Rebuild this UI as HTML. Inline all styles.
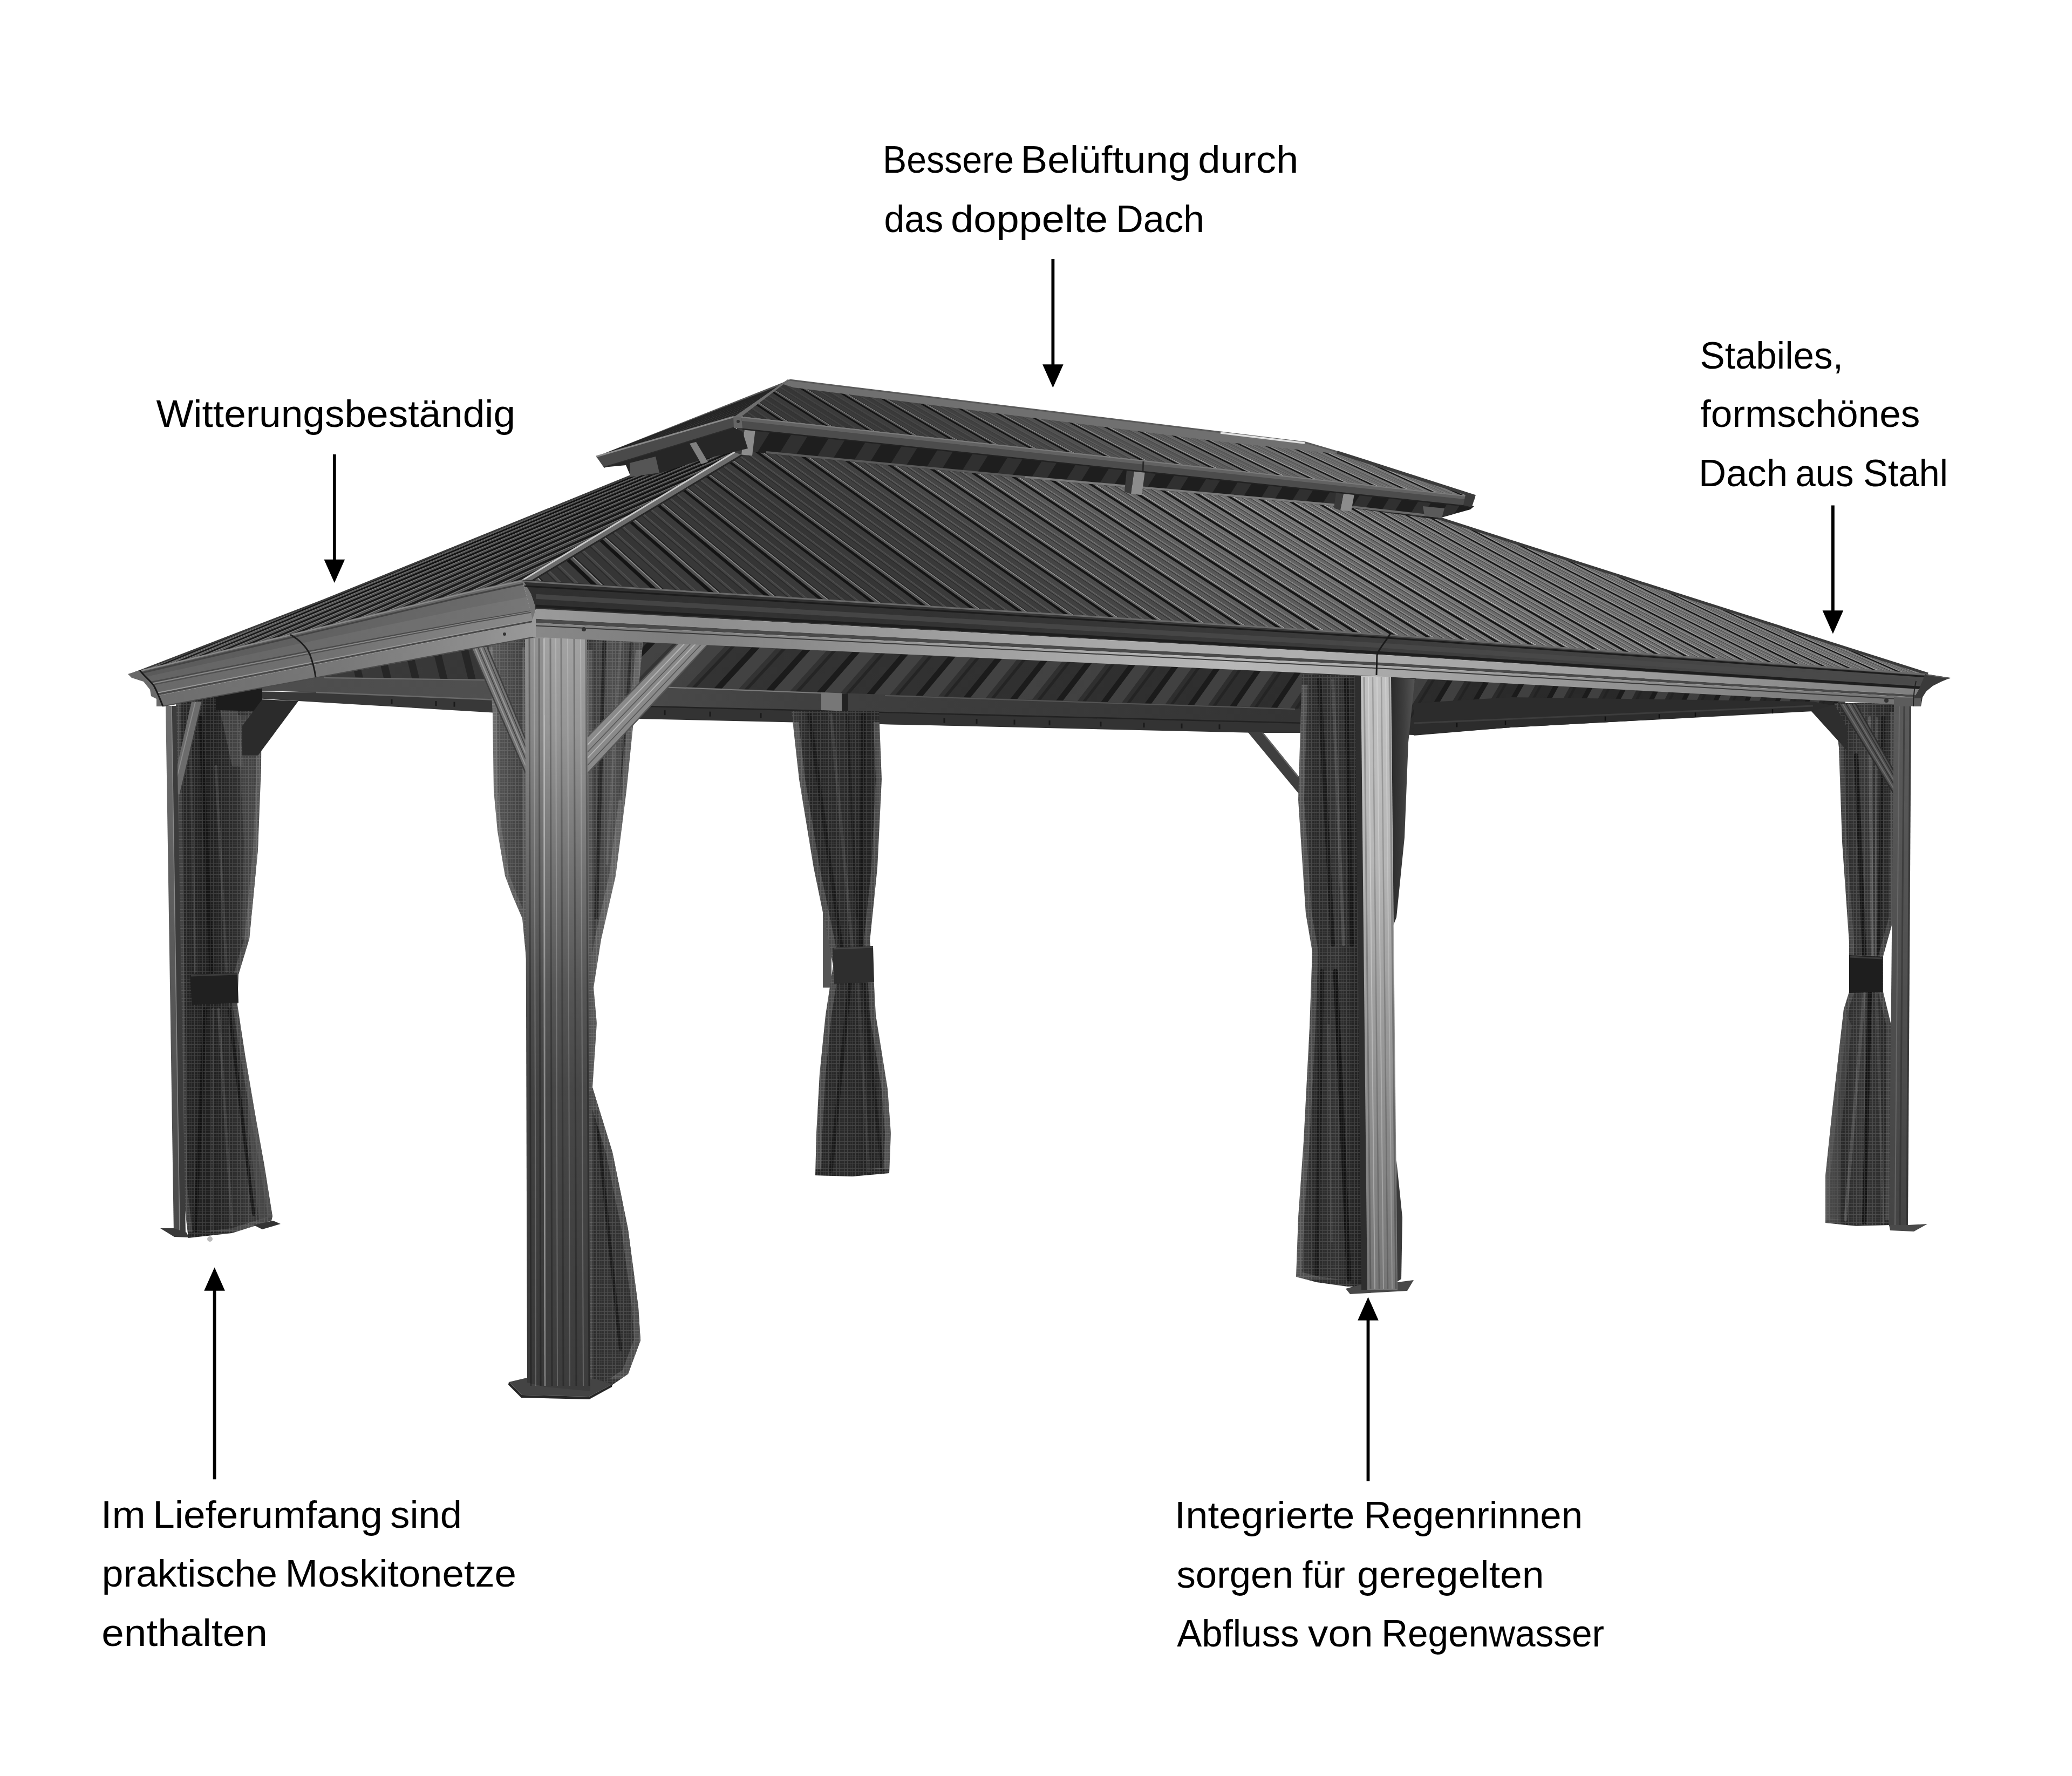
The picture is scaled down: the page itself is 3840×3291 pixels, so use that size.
<!DOCTYPE html><html><head><meta charset="utf-8"><title>Gazebo</title><style>html,body{margin:0;padding:0;background:#fff;}body{width:3840px;height:3291px;overflow:hidden;}svg{display:block;}text{font-family:"Liberation Sans",sans-serif;fill:#000;}</style></head><body><svg width="3840" height="3291" viewBox="0 0 3840 3291"><defs><pattern id="net" width="5" height="5" patternUnits="userSpaceOnUse"><path d="M0,0.5H5M0.5,0V5" stroke="#fff" stroke-width="1" opacity="0.13"/></pattern><linearGradient id="gUnder" gradientUnits="userSpaceOnUse" x1="600" y1="0" x2="3400" y2="0"><stop offset="0" stop-color="#3a3a3a"/><stop offset="0.25" stop-color="#333333"/><stop offset="0.6" stop-color="#2e2e2e"/><stop offset="1" stop-color="#262626"/></linearGradient><clipPath id="cUnder"><polygon points="586.0,1256.0 996.0,1178.0 1000.0,1179.0 1400.0,1197.6 2000.0,1225.5 2551.0,1251.2 2800.0,1264.7 3420.0,1298.4 3420.0,1312.0 3360.0,1317.0 2800.0,1348.0 2620.0,1362.0 2400.0,1356.0 1634.0,1342.0 1087.0,1330.0 586.0,1300.0"/></clipPath><linearGradient id="gBB" gradientUnits="userSpaceOnUse" x1="400" y1="0" x2="2400" y2="0"><stop offset="0" stop-color="#4c4c4c"/><stop offset="0.3" stop-color="#505050"/><stop offset="0.55" stop-color="#404040"/><stop offset="1" stop-color="#343434"/></linearGradient><linearGradient id="gCurB" gradientUnits="userSpaceOnUse" x1="1467" y1="0" x2="1650" y2="0"><stop offset="0" stop-color="#3a3a3a"/><stop offset="0.2" stop-color="#262626"/><stop offset="0.5" stop-color="#2b2b2b"/><stop offset="0.8" stop-color="#232323"/><stop offset="1" stop-color="#353535"/></linearGradient><clipPath id="cCur1"><polygon points="1467.0,1318.0 1629.0,1318.0 1634.0,1444.0 1626.0,1608.0 1612.0,1744.0 1618.0,1790.0 1623.0,1881.0 1645.0,2018.0 1651.0,2100.0 1648.0,2174.0 1580.0,2180.0 1511.0,2178.0 1513.0,2100.0 1519.0,1990.0 1530.0,1881.0 1544.0,1790.0 1536.0,1744.0 1508.0,1608.0 1481.0,1444.0"/></clipPath><clipPath id="rCur1"><rect x="1462.0" y="1337.8" width="194.0" height="829.0"/></clipPath><linearGradient id="gLF" gradientUnits="userSpaceOnUse" x1="300" y1="1250" x2="1300" y2="850"><stop offset="0" stop-color="#757575"/><stop offset="0.4" stop-color="#686868"/><stop offset="1" stop-color="#585858"/></linearGradient><clipPath id="cLF"><polygon points="247.0,1247.0 600.0,1111.0 1168.0,881.0 1300.0,850.0 1387.0,831.0 968.0,1077.0 262.0,1245.0"/></clipPath><linearGradient id="gFF" gradientUnits="userSpaceOnUse" x1="968" y1="0" x2="3573" y2="0"><stop offset="0" stop-color="#3c3c3c"/><stop offset="0.25" stop-color="#3c3c3c"/><stop offset="0.5" stop-color="#555"/><stop offset="1" stop-color="#666"/></linearGradient><clipPath id="cFF"><polygon points="968.0,1076.0 1387.0,831.0 1900.0,878.0 2660.0,957.0 2800.0,1002.0 3573.0,1248.0 3573.0,1250.0 2800.0,1193.3 2578.0,1177.0 2000.0,1141.1 1400.0,1103.8 968.0,1077.0"/></clipPath><clipPath id="cGap"><polygon points="1376.0,790.0 2732.0,938.0 2725.0,944.0 2660.0,962.0 2479.0,938.0 1900.0,886.0 1420.0,840.0 1376.0,835.0"/></clipPath><clipPath id="cULF"><polygon points="1105.0,846.0 1463.0,704.0 1374.0,772.0 1361.0,772.0"/></clipPath><linearGradient id="gUF" gradientUnits="userSpaceOnUse" x1="1374" y1="0" x2="2734" y2="0"><stop offset="0" stop-color="#404040"/><stop offset="0.45" stop-color="#4c4c4c"/><stop offset="0.75" stop-color="#606060"/><stop offset="1" stop-color="#707070"/></linearGradient><clipPath id="cUFF"><polygon points="1374.0,772.0 1463.0,704.0 2420.0,820.0 2481.0,838.0 2734.0,920.0"/></clipPath><linearGradient id="gCurL" gradientUnits="userSpaceOnUse" x1="326" y1="0" x2="500" y2="0"><stop offset="0" stop-color="#2a2a2a"/><stop offset="0.35" stop-color="#1f1f1f"/><stop offset="0.6" stop-color="#2b2b2b"/><stop offset="0.8" stop-color="#3a3a3a"/><stop offset="1" stop-color="#2a2a2a"/></linearGradient><clipPath id="cCur2"><polygon points="326.0,1296.0 408.0,1278.0 485.0,1264.0 484.0,1420.0 478.0,1574.0 462.0,1740.0 442.0,1806.0 440.0,1862.0 455.0,1960.0 472.0,2060.0 490.0,2160.0 505.0,2254.0 503.0,2262.0 430.0,2285.0 349.0,2294.0 338.0,2200.0 334.0,1900.0 330.0,1600.0"/></clipPath><clipPath id="rCur2"><rect x="321.0" y="1280.2" width="189.0" height="1003.0"/></clipPath><linearGradient id="gPFL" gradientUnits="userSpaceOnUse" x1="0" y1="1308" x2="0" y2="2290"><stop offset="0" stop-color="#6e6e6e"/><stop offset="0.4" stop-color="#5c5c5c"/><stop offset="1" stop-color="#4a4a4a"/></linearGradient><linearGradient id="gCurFL1" gradientUnits="userSpaceOnUse" x1="910" y1="0" x2="980" y2="0"><stop offset="0" stop-color="#5a5a5a"/><stop offset="0.5" stop-color="#4a4a4a"/><stop offset="1" stop-color="#3c3c3c"/></linearGradient><clipPath id="cCur3"><polygon points="905.0,1190.0 975.0,1185.0 977.0,1800.0 974.0,1765.0 968.0,1702.0 950.0,1660.0 936.0,1623.0 922.0,1540.0 915.0,1465.0 913.0,1323.0"/></clipPath><clipPath id="rCur3"><rect x="900.0" y="1199.4" width="82.0" height="591.0"/></clipPath><linearGradient id="gCurFL2" gradientUnits="userSpaceOnUse" x1="1088" y1="0" x2="1200" y2="0"><stop offset="0" stop-color="#363636"/><stop offset="0.4" stop-color="#505050"/><stop offset="0.7" stop-color="#424242"/><stop offset="1" stop-color="#5a5a5a"/></linearGradient><clipPath id="cCur4"><polygon points="1086.0,1183.0 1192.0,1185.0 1185.0,1260.0 1173.0,1347.0 1161.0,1465.0 1141.0,1623.0 1114.0,1741.0 1100.0,1830.0 1106.0,1896.0 1098.0,2015.0 1135.0,2135.0 1164.0,2278.0 1183.0,2422.0 1187.0,2484.0 1164.0,2546.0 1135.0,2566.0 1086.0,2570.0"/></clipPath><clipPath id="rCur4"><rect x="1081.0" y="1204.6" width="116.0" height="1351.0"/></clipPath><linearGradient id="gPL1" gradientUnits="userSpaceOnUse" x1="0" y1="1181" x2="0" y2="2580"><stop offset="0" stop-color="#929292"/><stop offset="0.12" stop-color="#888888"/><stop offset="0.3" stop-color="#6a6a6a"/><stop offset="0.47" stop-color="#4e4e4e"/><stop offset="0.6" stop-color="#424242"/><stop offset="1" stop-color="#383838"/></linearGradient><linearGradient id="gPL2" gradientUnits="userSpaceOnUse" x1="0" y1="1181" x2="0" y2="2580"><stop offset="0" stop-color="#a2a2a2"/><stop offset="0.12" stop-color="#969696"/><stop offset="0.3" stop-color="#747474"/><stop offset="0.47" stop-color="#555555"/><stop offset="0.6" stop-color="#474747"/><stop offset="1" stop-color="#3c3c3c"/></linearGradient><linearGradient id="gCurM" gradientUnits="userSpaceOnUse" x1="2402" y1="0" x2="2525" y2="0"><stop offset="0" stop-color="#3c3c3c"/><stop offset="0.3" stop-color="#2a2a2a"/><stop offset="0.6" stop-color="#333333"/><stop offset="1" stop-color="#1f1f1f"/></linearGradient><clipPath id="cCur5"><polygon points="2413.0,1249.0 2522.0,1253.0 2534.0,2384.0 2497.0,2384.0 2440.0,2376.0 2402.0,2366.0 2406.0,2256.0 2416.0,2115.0 2427.0,1904.0 2432.0,1763.0 2420.0,1693.0 2406.0,1482.0"/></clipPath><clipPath id="rCur5"><rect x="2397.0" y="1268.8" width="142.0" height="1102.0"/></clipPath><linearGradient id="gCurM2" gradientUnits="userSpaceOnUse" x1="2578" y1="0" x2="2622" y2="0"><stop offset="0" stop-color="#2a2a2a"/><stop offset="0.5" stop-color="#3c3c3c"/><stop offset="1" stop-color="#555"/></linearGradient><linearGradient id="gPM" gradientUnits="userSpaceOnUse" x1="0" y1="1253" x2="0" y2="2392"><stop offset="0" stop-color="#c2c2c2"/><stop offset="0.3" stop-color="#b6b6b6"/><stop offset="0.55" stop-color="#9c9c9c"/><stop offset="0.8" stop-color="#868686"/><stop offset="1" stop-color="#767676"/></linearGradient><linearGradient id="gCurR" gradientUnits="userSpaceOnUse" x1="3383" y1="0" x2="3512" y2="0"><stop offset="0" stop-color="#444"/><stop offset="0.25" stop-color="#2a2a2a"/><stop offset="0.55" stop-color="#383838"/><stop offset="0.8" stop-color="#2c2c2c"/><stop offset="1" stop-color="#262626"/></linearGradient><clipPath id="cCur6"><polygon points="3400.0,1303.0 3512.0,1303.0 3510.0,1700.0 3490.0,1772.0 3490.0,1838.0 3505.0,1900.0 3503.0,2270.0 3440.0,2272.0 3383.0,2266.0 3383.0,2179.0 3396.0,2055.0 3417.0,1870.0 3427.0,1838.0 3427.0,1772.0 3427.0,1746.0 3414.0,1560.0 3408.0,1385.0 3401.0,1331.0"/></clipPath><clipPath id="rCur6"><rect x="3378.0" y="1319.2" width="139.0" height="942.0"/></clipPath><linearGradient id="gPR" gradientUnits="userSpaceOnUse" x1="0" y1="1307" x2="0" y2="2275"><stop offset="0" stop-color="#5a5a5a"/><stop offset="0.5" stop-color="#505050"/><stop offset="1" stop-color="#444"/></linearGradient><linearGradient id="gLG1" gradientUnits="userSpaceOnUse" x1="259" y1="0" x2="997" y2="0"><stop offset="0" stop-color="#5a5a5a"/><stop offset="0.5" stop-color="#626262"/><stop offset="0.85" stop-color="#6a6a6a"/><stop offset="1" stop-color="#707070"/></linearGradient><linearGradient id="gLG2" gradientUnits="userSpaceOnUse" x1="259" y1="0" x2="997" y2="0"><stop offset="0" stop-color="#686868"/><stop offset="0.5" stop-color="#727272"/><stop offset="0.85" stop-color="#848484"/><stop offset="1" stop-color="#8c8c8c"/></linearGradient><linearGradient id="gLG3" gradientUnits="userSpaceOnUse" x1="259" y1="0" x2="997" y2="0"><stop offset="0" stop-color="#6c6c6c"/><stop offset="0.5" stop-color="#787878"/><stop offset="0.85" stop-color="#8e8e8e"/><stop offset="1" stop-color="#9a9a9a"/></linearGradient><linearGradient id="gGutD" gradientUnits="userSpaceOnUse" x1="968" y1="0" x2="3573" y2="0"><stop offset="0" stop-color="#2f2f2f"/><stop offset="0.3" stop-color="#333333"/><stop offset="0.6" stop-color="#3c3c3c"/><stop offset="1" stop-color="#4c4c4c"/></linearGradient><linearGradient id="gGutL" gradientUnits="userSpaceOnUse" x1="993" y1="0" x2="3560" y2="0"><stop offset="0" stop-color="#9a9a9a"/><stop offset="0.12" stop-color="#8e8e8e"/><stop offset="0.35" stop-color="#a4a4a4"/><stop offset="0.55" stop-color="#b0b0b0"/><stop offset="0.8" stop-color="#9c9c9c"/><stop offset="1" stop-color="#808080"/></linearGradient><linearGradient id="gBeam" gradientUnits="userSpaceOnUse" x1="993" y1="0" x2="3560" y2="0"><stop offset="0" stop-color="#888888"/><stop offset="0.1" stop-color="#7e7e7e"/><stop offset="0.3" stop-color="#9c9c9c"/><stop offset="0.5" stop-color="#b8b8b8"/><stop offset="0.62" stop-color="#a8a8a8"/><stop offset="0.8" stop-color="#909090"/><stop offset="1" stop-color="#707070"/></linearGradient></defs><polygon points="586.0,1256.0 996.0,1178.0 1000.0,1179.0 1400.0,1197.6 2000.0,1225.5 2551.0,1251.2 2800.0,1264.7 3420.0,1298.4 3420.0,1312.0 3360.0,1317.0 2800.0,1348.0 2620.0,1362.0 2400.0,1356.0 1634.0,1342.0 1087.0,1330.0 586.0,1300.0" fill="url(#gUnder)" />
<g clip-path="url(#cUnder)">
<polygon points="1100.0,1185.7 1116.0,1185.7 1021.0,1280.7 1005.0,1280.7" fill="#1b1b1b" />
<polygon points="1116.0,1185.7 1150.0,1185.7 1055.0,1280.7 1021.0,1280.7" fill="#484848" opacity="0.75"/>
<polygon points="1162.0,1185.7 1170.0,1185.7 1075.0,1280.7 1067.0,1280.7" fill="#222" opacity="0.8"/>
<polygon points="1200.0,1190.3 1215.7,1190.3 1123.1,1285.3 1107.4,1285.3" fill="#1b1b1b" />
<polygon points="1215.7,1190.3 1249.0,1190.3 1156.3,1285.3 1123.1,1285.3" fill="#484848" opacity="0.75"/>
<polygon points="1260.7,1190.3 1268.5,1190.3 1175.9,1285.3 1168.1,1285.3" fill="#222" opacity="0.8"/>
<polygon points="1297.9,1194.9 1313.3,1194.9 1223.0,1289.9 1207.6,1289.9" fill="#1b1b1b" />
<polygon points="1313.3,1194.9 1345.8,1194.9 1255.6,1289.9 1223.0,1289.9" fill="#484848" opacity="0.75"/>
<polygon points="1357.4,1194.9 1365.0,1194.9 1274.8,1289.9 1267.1,1289.9" fill="#222" opacity="0.8"/>
<polygon points="1393.8,1199.3 1408.8,1199.3 1320.8,1294.3 1305.8,1294.3" fill="#1b1b1b" />
<polygon points="1408.8,1199.3 1440.7,1199.3 1352.7,1294.3 1320.8,1294.3" fill="#484848" opacity="0.75"/>
<polygon points="1452.0,1199.3 1459.5,1199.3 1371.5,1294.3 1364.0,1294.3" fill="#222" opacity="0.8"/>
<polygon points="1487.7,1203.7 1502.4,1203.7 1416.6,1298.7 1401.9,1298.7" fill="#1b1b1b" />
<polygon points="1502.4,1203.7 1533.6,1203.7 1447.9,1298.7 1416.6,1298.7" fill="#484848" opacity="0.75"/>
<polygon points="1544.6,1203.7 1552.0,1203.7 1466.3,1298.7 1458.9,1298.7" fill="#222" opacity="0.8"/>
<polygon points="1579.6,1208.0 1594.0,1208.0 1510.4,1303.0 1496.0,1303.0" fill="#1b1b1b" />
<polygon points="1594.0,1208.0 1624.6,1208.0 1541.0,1303.0 1510.4,1303.0" fill="#484848" opacity="0.75"/>
<polygon points="1635.4,1208.0 1642.6,1208.0 1559.0,1303.0 1551.8,1303.0" fill="#222" opacity="0.8"/>
<polygon points="1669.6,1212.2 1683.7,1212.2 1602.3,1307.2 1588.2,1307.2" fill="#1b1b1b" />
<polygon points="1683.7,1212.2 1713.6,1212.2 1632.2,1307.2 1602.3,1307.2" fill="#484848" opacity="0.75"/>
<polygon points="1724.2,1212.2 1731.2,1212.2 1649.9,1307.2 1642.8,1307.2" fill="#222" opacity="0.8"/>
<polygon points="1757.7,1216.3 1771.5,1216.3 1692.2,1311.3 1678.4,1311.3" fill="#1b1b1b" />
<polygon points="1771.5,1216.3 1800.8,1216.3 1721.5,1311.3 1692.2,1311.3" fill="#484848" opacity="0.75"/>
<polygon points="1811.2,1216.3 1818.1,1216.3 1738.8,1311.3 1731.9,1311.3" fill="#222" opacity="0.8"/>
<polygon points="1843.9,1220.3 1857.5,1220.3 1780.2,1315.3 1766.7,1315.3" fill="#1b1b1b" />
<polygon points="1857.5,1220.3 1886.2,1220.3 1809.0,1315.3 1780.2,1315.3" fill="#484848" opacity="0.75"/>
<polygon points="1896.3,1220.3 1903.1,1220.3 1825.9,1315.3 1819.1,1315.3" fill="#222" opacity="0.8"/>
<polygon points="1928.4,1224.2 1941.6,1224.2 1866.5,1319.2 1853.2,1319.2" fill="#1b1b1b" />
<polygon points="1941.6,1224.2 1969.8,1224.2 1894.6,1319.2 1866.5,1319.2" fill="#484848" opacity="0.75"/>
<polygon points="1979.7,1224.2 1986.3,1224.2 1911.1,1319.2 1904.5,1319.2" fill="#222" opacity="0.8"/>
<polygon points="2011.1,1228.1 2024.1,1228.1 1950.9,1323.1 1937.9,1323.1" fill="#1b1b1b" />
<polygon points="2024.1,1228.1 2051.6,1228.1 1978.4,1323.1 1950.9,1323.1" fill="#484848" opacity="0.75"/>
<polygon points="2061.3,1228.1 2067.8,1228.1 1994.6,1323.1 1988.1,1323.1" fill="#222" opacity="0.8"/>
<polygon points="2092.1,1231.8 2104.8,1231.8 2033.5,1326.8 2020.8,1326.8" fill="#1b1b1b" />
<polygon points="2104.8,1231.8 2131.8,1231.8 2060.5,1326.8 2033.5,1326.8" fill="#484848" opacity="0.75"/>
<polygon points="2141.3,1231.8 2147.6,1231.8 2076.3,1326.8 2070.0,1326.8" fill="#222" opacity="0.8"/>
<polygon points="2171.4,1235.5 2183.8,1235.5 2114.5,1330.5 2102.0,1330.5" fill="#1b1b1b" />
<polygon points="2183.8,1235.5 2210.2,1235.5 2140.8,1330.5 2114.5,1330.5" fill="#484848" opacity="0.75"/>
<polygon points="2219.5,1235.5 2225.8,1235.5 2156.4,1330.5 2150.2,1330.5" fill="#222" opacity="0.8"/>
<polygon points="2249.0,1239.1 2261.2,1239.1 2193.7,1334.1 2181.5,1334.1" fill="#1b1b1b" />
<polygon points="2261.2,1239.1 2287.1,1239.1 2219.5,1334.1 2193.7,1334.1" fill="#484848" opacity="0.75"/>
<polygon points="2296.2,1239.1 2302.3,1239.1 2234.7,1334.1 2228.7,1334.1" fill="#222" opacity="0.8"/>
<polygon points="2325.1,1242.7 2337.0,1242.7 2271.3,1337.7 2259.4,1337.7" fill="#1b1b1b" />
<polygon points="2337.0,1242.7 2362.3,1242.7 2296.6,1337.7 2271.3,1337.7" fill="#484848" opacity="0.75"/>
<polygon points="2371.2,1242.7 2377.2,1242.7 2311.5,1337.7 2305.5,1337.7" fill="#222" opacity="0.8"/>
<polygon points="2399.5,1246.1 2411.2,1246.1 2347.2,1341.1 2335.6,1341.1" fill="#1b1b1b" />
<polygon points="2411.2,1246.1 2435.9,1246.1 2372.0,1341.1 2347.2,1341.1" fill="#484848" opacity="0.75"/>
<polygon points="2444.7,1246.1 2450.5,1246.1 2386.6,1341.1 2380.8,1341.1" fill="#222" opacity="0.8"/>
<polygon points="2472.4,1249.5 2483.8,1249.5 2421.6,1344.5 2410.2,1344.5" fill="#1b1b1b" />
<polygon points="2483.8,1249.5 2508.1,1249.5 2445.9,1344.5 2421.6,1344.5" fill="#484848" opacity="0.75"/>
<polygon points="2516.6,1249.5 2522.3,1249.5 2460.1,1344.5 2454.4,1344.5" fill="#222" opacity="0.8"/>
<polygon points="2543.7,1252.8 2554.9,1252.8 2494.4,1347.8 2483.3,1347.8" fill="#1b1b1b" />
<polygon points="2554.9,1252.8 2578.7,1252.8 2518.2,1347.8 2494.4,1347.8" fill="#484848" opacity="0.75"/>
<polygon points="2587.1,1252.8 2592.6,1252.8 2532.2,1347.8 2526.6,1347.8" fill="#222" opacity="0.8"/>
<polygon points="2613.6,1256.6 2624.6,1256.6 2565.8,1351.6 2554.8,1351.6" fill="#1b1b1b" />
<polygon points="2624.6,1256.6 2647.8,1256.6 2589.0,1351.6 2565.8,1351.6" fill="#484848" opacity="0.75"/>
<polygon points="2656.0,1256.6 2661.5,1256.6 2602.7,1351.6 2597.2,1351.6" fill="#222" opacity="0.8"/>
<polygon points="2682.0,1260.3 2692.7,1260.3 2635.6,1355.3 2624.9,1355.3" fill="#1b1b1b" />
<polygon points="2692.7,1260.3 2715.5,1260.3 2658.3,1355.3 2635.6,1355.3" fill="#484848" opacity="0.75"/>
<polygon points="2723.6,1260.3 2728.9,1260.3 2671.7,1355.3 2666.4,1355.3" fill="#222" opacity="0.8"/>
<polygon points="2749.0,1264.0 2759.5,1264.0 2703.9,1359.0 2693.4,1359.0" fill="#1b1b1b" />
<polygon points="2759.5,1264.0 2781.8,1264.0 2726.2,1359.0 2703.9,1359.0" fill="#484848" opacity="0.75"/>
<polygon points="2789.7,1264.0 2794.9,1264.0 2739.3,1359.0 2734.1,1359.0" fill="#222" opacity="0.8"/>
<polygon points="2814.6,1267.5 2824.9,1267.5 2770.9,1362.5 2760.6,1362.5" fill="#1b1b1b" />
<polygon points="2824.9,1267.5 2846.7,1267.5 2792.7,1362.5 2770.9,1362.5" fill="#484848" opacity="0.75"/>
<polygon points="2854.4,1267.5 2859.5,1267.5 2805.5,1362.5 2800.4,1362.5" fill="#222" opacity="0.8"/>
<polygon points="2878.8,1271.0 2888.9,1271.0 2836.4,1366.0 2826.3,1366.0" fill="#1b1b1b" />
<polygon points="2888.9,1271.0 2910.2,1271.0 2857.8,1366.0 2836.4,1366.0" fill="#484848" opacity="0.75"/>
<polygon points="2917.8,1271.0 2922.8,1271.0 2870.4,1366.0 2865.3,1366.0" fill="#222" opacity="0.8"/>
<polygon points="2941.7,1274.4 2951.5,1274.4 2900.6,1369.4 2890.7,1369.4" fill="#1b1b1b" />
<polygon points="2951.5,1274.4 2972.5,1274.4 2921.5,1369.4 2900.6,1369.4" fill="#484848" opacity="0.75"/>
<polygon points="2979.9,1274.4 2984.8,1274.4 2933.8,1369.4 2928.9,1369.4" fill="#222" opacity="0.8"/>
<polygon points="3003.3,1277.8 3012.9,1277.8 2963.4,1372.8 2953.8,1372.8" fill="#1b1b1b" />
<polygon points="3012.9,1277.8 3033.4,1277.8 2983.9,1372.8 2963.4,1372.8" fill="#484848" opacity="0.75"/>
<polygon points="3040.6,1277.8 3045.4,1277.8 2996.0,1372.8 2991.1,1372.8" fill="#222" opacity="0.8"/>
<polygon points="3063.5,1281.0 3073.0,1281.0 3024.9,1376.0 3015.5,1376.0" fill="#1b1b1b" />
<polygon points="3073.0,1281.0 3093.0,1281.0 3045.0,1376.0 3024.9,1376.0" fill="#484848" opacity="0.75"/>
<polygon points="3100.1,1281.0 3104.8,1281.0 3056.8,1376.0 3052.1,1376.0" fill="#222" opacity="0.8"/>
<polygon points="3122.6,1284.2 3131.8,1284.2 3085.2,1379.2 3075.9,1379.2" fill="#1b1b1b" />
<polygon points="3131.8,1284.2 3151.4,1284.2 3104.8,1379.2 3085.2,1379.2" fill="#484848" opacity="0.75"/>
<polygon points="3158.4,1284.2 3163.0,1284.2 3116.4,1379.2 3111.7,1379.2" fill="#222" opacity="0.8"/>
<polygon points="3180.3,1287.4 3189.4,1287.4 3144.1,1382.4 3135.1,1382.4" fill="#1b1b1b" />
<polygon points="3189.4,1287.4 3208.6,1287.4 3163.4,1382.4 3144.1,1382.4" fill="#484848" opacity="0.75"/>
<polygon points="3215.4,1287.4 3220.0,1287.4 3174.7,1382.4 3170.2,1382.4" fill="#222" opacity="0.8"/>
<polygon points="3236.9,1290.5 3245.8,1290.5 3201.9,1385.5 3193.0,1385.5" fill="#1b1b1b" />
<polygon points="3245.8,1290.5 3264.6,1290.5 3220.7,1385.5 3201.9,1385.5" fill="#484848" opacity="0.75"/>
<polygon points="3271.3,1290.5 3275.7,1290.5 3231.8,1385.5 3227.4,1385.5" fill="#222" opacity="0.8"/>
<polygon points="3292.3,1293.5 3301.0,1293.5 3258.4,1388.5 3249.8,1388.5" fill="#1b1b1b" />
<polygon points="3301.0,1293.5 3319.5,1293.5 3276.9,1388.5 3258.4,1388.5" fill="#484848" opacity="0.75"/>
<polygon points="3326.0,1293.5 3330.3,1293.5 3287.7,1388.5 3283.4,1388.5" fill="#222" opacity="0.8"/>
<polygon points="3346.6,1296.4 3355.1,1296.4 3313.8,1391.4 3305.3,1391.4" fill="#1b1b1b" />
<polygon points="3355.1,1296.4 3373.1,1296.4 3331.9,1391.4 3313.8,1391.4" fill="#484848" opacity="0.75"/>
<polygon points="3379.5,1296.4 3383.8,1296.4 3342.5,1391.4 3338.2,1391.4" fill="#222" opacity="0.8"/>
<polygon points="3399.7,1299.3 3408.0,1299.3 3368.0,1394.3 3359.7,1394.3" fill="#1b1b1b" />
<polygon points="3408.0,1299.3 3425.7,1299.3 3385.7,1394.3 3368.0,1394.3" fill="#484848" opacity="0.75"/>
<polygon points="3431.9,1299.3 3436.1,1299.3 3396.1,1394.3 3391.9,1394.3" fill="#222" opacity="0.8"/>
<polygon points="640.0,1180.0 654.0,1180.0 684.0,1300.0 670.0,1300.0" fill="#262626" />
<polygon points="692.0,1180.0 706.0,1180.0 736.0,1300.0 722.0,1300.0" fill="#262626" />
<polygon points="744.0,1180.0 758.0,1180.0 788.0,1300.0 774.0,1300.0" fill="#262626" />
<polygon points="796.0,1180.0 810.0,1180.0 840.0,1300.0 826.0,1300.0" fill="#262626" />
<polygon points="848.0,1180.0 862.0,1180.0 892.0,1300.0 878.0,1300.0" fill="#262626" />
<polygon points="900.0,1180.0 914.0,1180.0 944.0,1300.0 930.0,1300.0" fill="#262626" />
<polygon points="952.0,1180.0 966.0,1180.0 996.0,1300.0 982.0,1300.0" fill="#262626" />
</g>
<polygon points="400.0,1270.0 586.0,1254.0 700.0,1256.0 973.0,1260.0 973.0,1299.0 586.0,1283.0 425.0,1278.0" fill="url(#gBB)" />
<polygon points="400.0,1280.0 586.0,1283.0 973.0,1299.0 973.0,1324.0 586.0,1301.0 425.0,1291.0 400.0,1290.0" fill="#383838" />
<line x1="586.0" y1="1283.0" x2="973.0" y2="1299.0" stroke="#6a6a6a" stroke-width="2.50" />
<line x1="600.0" y1="1256.0" x2="973.0" y2="1261.0" stroke="#6e6e6e" stroke-width="2.00" />
<polygon points="1087.0,1266.0 1550.0,1284.0 2381.0,1312.0 2420.0,1314.0 2420.0,1340.0 1634.0,1322.0 1087.0,1306.0" fill="url(#gBB)" />
<polygon points="1087.0,1306.0 1634.0,1322.0 2420.0,1340.0 2420.0,1358.0 2330.0,1358.0 1634.0,1342.0 1087.0,1328.0" fill="#333333" />
<line x1="1087.0" y1="1306.0" x2="2420.0" y2="1340.0" stroke="#222" stroke-width="2.50" />
<line x1="1087.0" y1="1268.0" x2="1540.0" y2="1285.0" stroke="#7c7c7c" stroke-width="2.00" />
<line x1="1640.0" y1="1289.0" x2="2400.0" y2="1314.0" stroke="#555" stroke-width="2.00" />
<polygon points="1522.0,1283.0 1572.0,1285.0 1572.0,1318.0 1522.0,1316.0" fill="#777" />
<polygon points="1560.0,1285.0 1572.0,1285.0 1572.0,1330.0 1560.0,1330.0" fill="#222" />
<line x1="726.0" y1="1295.8" x2="726.0" y2="1304.8" stroke="#1a1a1a" stroke-width="3.00" />
<line x1="808.0" y1="1299.2" x2="808.0" y2="1308.2" stroke="#1a1a1a" stroke-width="3.00" />
<line x1="842.0" y1="1300.6" x2="842.0" y2="1309.6" stroke="#1a1a1a" stroke-width="3.00" />
<line x1="1232.0" y1="1316.2" x2="1232.0" y2="1325.2" stroke="#1a1a1a" stroke-width="3.00" />
<line x1="1316.0" y1="1318.7" x2="1316.0" y2="1327.7" stroke="#1a1a1a" stroke-width="3.00" />
<line x1="1410.0" y1="1321.4" x2="1410.0" y2="1330.4" stroke="#1a1a1a" stroke-width="3.00" />
<line x1="1470.0" y1="1323.2" x2="1470.0" y2="1332.2" stroke="#1a1a1a" stroke-width="3.00" />
<line x1="1750.0" y1="1330.7" x2="1750.0" y2="1339.7" stroke="#1a1a1a" stroke-width="3.00" />
<line x1="1810.0" y1="1332.0" x2="1810.0" y2="1341.0" stroke="#1a1a1a" stroke-width="3.00" />
<line x1="1880.0" y1="1333.6" x2="1880.0" y2="1342.6" stroke="#1a1a1a" stroke-width="3.00" />
<line x1="1945.0" y1="1335.1" x2="1945.0" y2="1344.1" stroke="#1a1a1a" stroke-width="3.00" />
<line x1="2040.0" y1="1337.3" x2="2040.0" y2="1346.3" stroke="#1a1a1a" stroke-width="3.00" />
<line x1="2120.0" y1="1339.1" x2="2120.0" y2="1348.1" stroke="#1a1a1a" stroke-width="3.00" />
<line x1="2190.0" y1="1340.7" x2="2190.0" y2="1349.7" stroke="#1a1a1a" stroke-width="3.00" />
<line x1="2260.0" y1="1342.3" x2="2260.0" y2="1351.3" stroke="#1a1a1a" stroke-width="3.00" />
<polygon points="2620.0,1303.0 2800.0,1292.0 3360.0,1300.0 3420.0,1312.0 3360.0,1318.0 2800.0,1348.0 2620.0,1363.0" fill="#2c2c2c" />
<line x1="2620.0" y1="1340.0" x2="3360.0" y2="1308.0" stroke="#3d3d3d" stroke-width="3.00" />
<line x1="2700.0" y1="1339.5" x2="2700.0" y2="1347.5" stroke="#111" stroke-width="2.50" />
<line x1="2790.0" y1="1335.6" x2="2790.0" y2="1343.6" stroke="#111" stroke-width="2.50" />
<line x1="2975.0" y1="1327.6" x2="2975.0" y2="1335.6" stroke="#111" stroke-width="2.50" />
<line x1="3075.0" y1="1323.3" x2="3075.0" y2="1331.3" stroke="#111" stroke-width="2.50" />
<line x1="3142.0" y1="1320.4" x2="3142.0" y2="1328.4" stroke="#111" stroke-width="2.50" />
<line x1="3285.0" y1="1314.2" x2="3285.0" y2="1322.2" stroke="#111" stroke-width="2.50" />
<polygon points="2312.0,1356.0 2340.0,1356.0 2408.0,1440.0 2408.0,1472.0" fill="#3f3f3f" />
<line x1="2340.0" y1="1358.0" x2="2406.0" y2="1440.0" stroke="#666" stroke-width="2.00" />
<polygon points="1525.0,1330.0 1541.0,1330.0 1541.0,1830.0 1525.0,1830.0" fill="#555" />
<polygon points="1467.0,1318.0 1629.0,1318.0 1634.0,1444.0 1626.0,1608.0 1612.0,1744.0 1618.0,1790.0 1623.0,1881.0 1645.0,2018.0 1651.0,2100.0 1648.0,2174.0 1580.0,2180.0 1511.0,2178.0 1513.0,2100.0 1519.0,1990.0 1530.0,1881.0 1544.0,1790.0 1536.0,1744.0 1508.0,1608.0 1481.0,1444.0" fill="url(#gCurB)"/>
<line x1="1500.0" y1="1325.0" x2="1560.0" y2="1760.0" stroke="#1a1a1a" stroke-width="7.00" stroke-linecap="round"/>
<line x1="1540.0" y1="1325.0" x2="1580.0" y2="1760.0" stroke="#3a3a3a" stroke-width="6.00" stroke-linecap="round"/>
<line x1="1600.0" y1="1325.0" x2="1595.0" y2="1760.0" stroke="#181818" stroke-width="8.00" stroke-linecap="round"/>
<line x1="1570.0" y1="1325.0" x2="1588.0" y2="1700.0" stroke="#1d1d1d" stroke-width="5.00" stroke-linecap="round"/>
<line x1="1575.0" y1="1820.0" x2="1540.0" y2="2170.0" stroke="#1a1a1a" stroke-width="7.00" stroke-linecap="round"/>
<line x1="1590.0" y1="1820.0" x2="1610.0" y2="2170.0" stroke="#333" stroke-width="6.00" stroke-linecap="round"/>
<line x1="1600.0" y1="1820.0" x2="1635.0" y2="2170.0" stroke="#1c1c1c" stroke-width="6.00" stroke-linecap="round"/>
<polygon points="1467.0,1318.0 1629.0,1318.0 1634.0,1444.0 1626.0,1608.0 1612.0,1744.0 1618.0,1790.0 1623.0,1881.0 1645.0,2018.0 1651.0,2100.0 1648.0,2174.0 1580.0,2180.0 1511.0,2178.0 1513.0,2100.0 1519.0,1990.0 1530.0,1881.0 1544.0,1790.0 1536.0,1744.0 1508.0,1608.0 1481.0,1444.0" fill="url(#net)" />
<g clip-path="url(#rCur1)"><polygon points="1467.0,1318.0 1629.0,1318.0 1634.0,1444.0 1626.0,1608.0 1612.0,1744.0 1618.0,1790.0 1623.0,1881.0 1645.0,2018.0 1651.0,2100.0 1648.0,2174.0 1580.0,2180.0 1511.0,2178.0 1513.0,2100.0 1519.0,1990.0 1530.0,1881.0 1544.0,1790.0 1536.0,1744.0 1508.0,1608.0 1481.0,1444.0" fill="none" stroke="#fff" stroke-width="22" opacity="0.16" stroke-linejoin="round" clip-path="url(#cCur1)"/></g>
<polygon points="1543.0,1756.0 1618.0,1753.0 1620.0,1820.0 1546.0,1823.0" fill="#2e2e2e" />
<line x1="1545.0" y1="1758.0" x2="1618.0" y2="1755.0" stroke="#444" stroke-width="3.00" />
<polygon points="247.0,1247.0 600.0,1111.0 1168.0,881.0 1300.0,850.0 1387.0,831.0 968.0,1077.0 262.0,1245.0" fill="url(#gLF)" />
<g clip-path="url(#cLF)">
<line x1="276.1" y1="1241.6" x2="1600.5" y2="698.2" stroke="#1f1f1f" stroke-width="2.68" />
<line x1="277.1" y1="1244.5" x2="1601.1" y2="699.9" stroke="#a4a4a4" stroke-width="1.80" opacity="0.75"/>
<line x1="293.4" y1="1237.5" x2="1610.8" y2="695.7" stroke="#444" stroke-width="1.34" opacity="0.8"/>
<line x1="312.0" y1="1233.1" x2="1622.0" y2="693.1" stroke="#1f1f1f" stroke-width="2.84" />
<line x1="313.0" y1="1236.0" x2="1622.6" y2="694.8" stroke="#a4a4a4" stroke-width="1.80" opacity="0.75"/>
<line x1="331.6" y1="1228.4" x2="1633.7" y2="690.3" stroke="#444" stroke-width="1.42" opacity="0.8"/>
<line x1="351.9" y1="1223.6" x2="1646.0" y2="687.4" stroke="#1f1f1f" stroke-width="3.00" />
<line x1="352.9" y1="1226.6" x2="1646.6" y2="689.2" stroke="#a4a4a4" stroke-width="1.80" opacity="0.75"/>
<line x1="372.9" y1="1218.6" x2="1658.5" y2="684.4" stroke="#444" stroke-width="1.50" opacity="0.8"/>
<line x1="394.4" y1="1213.5" x2="1671.5" y2="681.3" stroke="#1f1f1f" stroke-width="3.16" />
<line x1="395.4" y1="1216.6" x2="1672.1" y2="683.1" stroke="#a4a4a4" stroke-width="1.80" opacity="0.75"/>
<line x1="416.4" y1="1208.3" x2="1684.6" y2="678.2" stroke="#444" stroke-width="1.58" opacity="0.8"/>
<line x1="438.8" y1="1202.9" x2="1698.1" y2="675.0" stroke="#1f1f1f" stroke-width="3.32" />
<line x1="439.8" y1="1206.1" x2="1698.7" y2="676.9" stroke="#a4a4a4" stroke-width="1.80" opacity="0.75"/>
<line x1="461.6" y1="1197.5" x2="1711.7" y2="671.7" stroke="#444" stroke-width="1.66" opacity="0.8"/>
<line x1="484.7" y1="1192.0" x2="1725.6" y2="668.4" stroke="#1f1f1f" stroke-width="3.48" />
<line x1="485.7" y1="1195.2" x2="1726.2" y2="670.3" stroke="#a4a4a4" stroke-width="1.80" opacity="0.75"/>
<line x1="508.1" y1="1186.4" x2="1739.7" y2="665.1" stroke="#444" stroke-width="1.74" opacity="0.8"/>
<line x1="531.9" y1="1180.8" x2="1753.9" y2="661.7" stroke="#1f1f1f" stroke-width="3.64" />
<line x1="532.9" y1="1184.1" x2="1754.5" y2="663.7" stroke="#a4a4a4" stroke-width="1.80" opacity="0.75"/>
<line x1="555.9" y1="1175.1" x2="1768.3" y2="658.2" stroke="#444" stroke-width="1.82" opacity="0.8"/>
<line x1="580.1" y1="1169.3" x2="1782.9" y2="654.8" stroke="#1f1f1f" stroke-width="3.80" />
<line x1="581.1" y1="1172.7" x2="1783.5" y2="656.8" stroke="#a4a4a4" stroke-width="1.80" opacity="0.75"/>
<line x1="604.7" y1="1163.5" x2="1797.6" y2="651.3" stroke="#444" stroke-width="1.90" opacity="0.8"/>
<line x1="629.4" y1="1157.6" x2="1812.4" y2="647.7" stroke="#1f1f1f" stroke-width="3.96" />
<line x1="630.4" y1="1161.1" x2="1813.0" y2="649.8" stroke="#a4a4a4" stroke-width="1.80" opacity="0.75"/>
<line x1="654.4" y1="1151.6" x2="1827.4" y2="644.2" stroke="#444" stroke-width="1.98" opacity="0.8"/>
<line x1="679.5" y1="1145.6" x2="1842.5" y2="640.6" stroke="#1f1f1f" stroke-width="4.12" />
<line x1="680.5" y1="1149.2" x2="1843.1" y2="642.7" stroke="#a4a4a4" stroke-width="1.80" opacity="0.75"/>
<line x1="704.9" y1="1139.6" x2="1857.7" y2="637.0" stroke="#444" stroke-width="2.06" opacity="0.8"/>
<line x1="730.5" y1="1133.5" x2="1873.1" y2="633.3" stroke="#1f1f1f" stroke-width="4.28" />
<line x1="731.5" y1="1137.2" x2="1873.7" y2="635.5" stroke="#a4a4a4" stroke-width="1.80" opacity="0.75"/>
<line x1="756.2" y1="1127.4" x2="1888.5" y2="629.6" stroke="#444" stroke-width="2.14" opacity="0.8"/>
<line x1="782.1" y1="1121.2" x2="1904.1" y2="625.9" stroke="#1f1f1f" stroke-width="4.44" />
<line x1="783.1" y1="1125.0" x2="1904.7" y2="628.2" stroke="#a4a4a4" stroke-width="1.80" opacity="0.75"/>
<line x1="808.2" y1="1115.0" x2="1919.7" y2="622.2" stroke="#444" stroke-width="2.22" opacity="0.8"/>
<line x1="834.5" y1="1108.8" x2="1935.5" y2="618.5" stroke="#1f1f1f" stroke-width="4.60" />
<line x1="835.5" y1="1112.6" x2="1936.1" y2="620.7" stroke="#a4a4a4" stroke-width="1.80" opacity="0.75"/>
<line x1="860.9" y1="1102.5" x2="1951.3" y2="614.7" stroke="#444" stroke-width="2.30" opacity="0.8"/>
<line x1="887.4" y1="1096.2" x2="1967.3" y2="610.9" stroke="#1f1f1f" stroke-width="4.76" />
<line x1="888.4" y1="1100.1" x2="1967.9" y2="613.2" stroke="#a4a4a4" stroke-width="1.80" opacity="0.75"/>
<line x1="914.1" y1="1089.8" x2="1983.3" y2="607.1" stroke="#444" stroke-width="2.38" opacity="0.8"/>
<line x1="941.0" y1="1083.4" x2="1999.4" y2="603.3" stroke="#1f1f1f" stroke-width="4.92" />
<line x1="942.0" y1="1087.4" x2="2000.0" y2="605.6" stroke="#a4a4a4" stroke-width="1.80" opacity="0.75"/>
<line x1="968.0" y1="1077.0" x2="2015.6" y2="599.4" stroke="#444" stroke-width="2.46" opacity="0.8"/>
</g>
<polyline points="249.0,1247.0 600.0,1112.0 1168.0,882.0" fill="none" stroke="#3c3c3c" stroke-width="3"/>
<polygon points="968.0,1076.0 1387.0,831.0 1900.0,878.0 2660.0,957.0 2800.0,1002.0 3573.0,1248.0 3573.0,1250.0 2800.0,1193.3 2578.0,1177.0 2000.0,1141.1 1400.0,1103.8 968.0,1077.0" fill="url(#gFF)" />
<g clip-path="url(#cFF)">
<polygon points="864.4,1069.6 876.9,1070.3 -523.1,-398.6 -535.6,-406.3" fill="#141414" />
<polygon points="876.4,1070.3 885.2,1070.9 -514.8,-393.4 -523.6,-398.9" fill="#505050" />
<polygon points="884.8,1070.8 888.8,1071.1 -511.2,-391.2 -515.2,-393.7" fill="#8c8c8c" />
<polygon points="888.3,1071.1 892.4,1071.3 -507.6,-388.9 -511.7,-391.5" fill="#202020" />
<polygon points="891.9,1071.3 915.0,1072.7 -485.0,-374.9 -508.1,-389.2" fill="#383838" />
<polygon points="914.5,1072.7 918.5,1072.9 -481.5,-372.7 -485.5,-375.2" fill="#2a2a2a" />
<polygon points="918.0,1072.9 924.4,1073.3 -475.6,-369.1 -482.0,-373.0" fill="#444444" />
<polygon points="923.9,1073.3 926.8,1073.4 -473.2,-367.6 -476.1,-369.4" fill="#545454" />
<polygon points="926.3,1073.4 947.9,1074.8 -452.1,-354.5 -473.7,-367.9" fill="#353535" />
<polygon points="947.5,1074.7 951.4,1075.0 -448.6,-352.3 -452.5,-354.8" fill="#2a2a2a" />
<polygon points="951.0,1074.9 957.3,1075.3 -442.7,-348.7 -449.0,-352.6" fill="#444444" />
<polygon points="956.8,1075.3 959.6,1075.5 -440.4,-347.2 -443.2,-349.0" fill="#545454" />
<polygon points="959.2,1075.5 982.9,1076.9 -417.1,-332.8 -440.8,-347.5" fill="#3a3a3a" />
<polygon points="982.4,1076.9 994.5,1077.6 -405.5,-325.6 -417.6,-333.1" fill="#141414" />
<polygon points="994.0,1077.6 1002.6,1078.1 -397.4,-320.6 -406.0,-325.9" fill="#505050" />
<polygon points="1002.1,1078.1 1006.0,1078.4 -394.0,-318.5 -397.9,-320.9" fill="#8c8c8c" />
<polygon points="1005.6,1078.3 1009.5,1078.6 -390.5,-316.3 -394.4,-318.7" fill="#202020" />
<polygon points="1009.0,1078.5 1031.3,1079.9 -368.7,-302.8 -391.0,-316.6" fill="#383838" />
<polygon points="1030.8,1079.9 1034.7,1080.1 -365.3,-300.7 -369.2,-303.1" fill="#2a2a2a" />
<polygon points="1034.2,1080.1 1040.4,1080.5 -359.6,-297.1 -365.8,-300.9" fill="#444444" />
<polygon points="1039.9,1080.5 1042.7,1080.6 -357.3,-295.7 -360.1,-297.4" fill="#545454" />
<polygon points="1042.2,1080.6 1063.1,1081.9 -336.9,-283.0 -357.8,-296.0" fill="#353535" />
<polygon points="1062.7,1081.9 1066.5,1082.1 -333.5,-280.9 -337.3,-283.3" fill="#2a2a2a" />
<polygon points="1066.1,1082.1 1072.2,1082.5 -327.8,-277.4 -333.9,-281.2" fill="#444444" />
<polygon points="1071.7,1082.4 1074.4,1082.6 -325.6,-276.0 -328.3,-277.7" fill="#545454" />
<polygon points="1074.0,1082.6 1096.9,1084.0 -303.1,-262.1 -326.0,-276.3" fill="#3a3a3a" />
<polygon points="1096.5,1084.0 1108.1,1084.7 -291.9,-255.1 -303.5,-262.3" fill="#141414" />
<polygon points="1107.7,1084.7 1115.9,1085.2 -284.1,-250.3 -292.3,-255.4" fill="#505050" />
<polygon points="1115.5,1085.2 1119.3,1085.4 -280.7,-248.2 -284.5,-250.5" fill="#8c8c8c" />
<polygon points="1118.8,1085.4 1122.6,1085.6 -277.4,-246.1 -281.2,-248.5" fill="#202020" />
<polygon points="1122.2,1085.6 1143.7,1086.9 -256.3,-233.1 -277.8,-246.4" fill="#383838" />
<polygon points="1143.2,1086.9 1147.0,1087.1 -253.0,-231.0 -256.8,-233.3" fill="#2a2a2a" />
<polygon points="1146.5,1087.1 1152.5,1087.5 -247.5,-227.6 -253.5,-231.3" fill="#444444" />
<polygon points="1152.0,1087.4 1154.7,1087.6 -245.3,-226.2 -248.0,-227.9" fill="#545454" />
<polygon points="1154.3,1087.6 1174.5,1088.8 -225.5,-214.0 -245.7,-226.5" fill="#353535" />
<polygon points="1174.0,1088.8 1177.7,1089.0 -222.3,-211.9 -226.0,-214.2" fill="#2a2a2a" />
<polygon points="1177.3,1089.0 1183.2,1089.4 -216.8,-208.5 -222.7,-212.2" fill="#444444" />
<polygon points="1182.8,1089.3 1185.4,1089.5 -214.6,-207.2 -217.2,-208.8" fill="#545454" />
<polygon points="1185.0,1089.5 1207.1,1090.9 -192.9,-193.7 -215.0,-207.4" fill="#3a3a3a" />
<polygon points="1206.7,1090.8 1218.0,1091.5 -182.0,-187.0 -193.3,-193.9" fill="#141414" />
<polygon points="1217.5,1091.5 1225.5,1092.0 -174.5,-182.3 -182.5,-187.2" fill="#505050" />
<polygon points="1225.1,1092.0 1228.7,1092.2 -171.3,-180.3 -174.9,-182.5" fill="#8c8c8c" />
<polygon points="1228.3,1092.2 1232.0,1092.4 -168.0,-178.4 -171.7,-180.6" fill="#202020" />
<polygon points="1231.5,1092.4 1252.3,1093.7 -147.7,-166.1 -168.5,-178.6" fill="#383838" />
<polygon points="1251.9,1093.6 1255.6,1093.9 -144.4,-164.2 -148.1,-166.4" fill="#2a2a2a" />
<polygon points="1255.1,1093.8 1260.9,1094.2 -139.1,-161.0 -144.9,-164.5" fill="#444444" />
<polygon points="1260.5,1094.2 1263.0,1094.3 -137.0,-159.7 -139.5,-161.3" fill="#545454" />
<polygon points="1262.6,1094.3 1282.1,1095.5 -117.9,-148.2 -137.4,-160.0" fill="#353535" />
<polygon points="1281.7,1095.5 1285.3,1095.7 -114.7,-146.3 -118.3,-148.5" fill="#2a2a2a" />
<polygon points="1284.9,1095.7 1290.6,1096.0 -109.4,-143.2 -115.1,-146.6" fill="#444444" />
<polygon points="1290.2,1096.0 1292.7,1096.2 -107.3,-141.9 -109.8,-143.4" fill="#545454" />
<polygon points="1292.3,1096.1 1313.8,1097.5 -86.2,-129.2 -107.7,-142.1" fill="#3a3a3a" />
<polygon points="1313.3,1097.4 1324.2,1098.1 -75.8,-123.0 -86.7,-129.5" fill="#141414" />
<polygon points="1323.8,1098.1 1331.5,1098.6 -68.5,-118.6 -76.2,-123.2" fill="#505050" />
<polygon points="1331.1,1098.6 1334.7,1098.8 -65.3,-116.7 -68.9,-118.8" fill="#8c8c8c" />
<polygon points="1334.2,1098.7 1337.8,1099.0 -62.2,-114.8 -65.8,-116.9" fill="#202020" />
<polygon points="1337.4,1098.9 1357.5,1100.2 -42.5,-103.0 -62.6,-115.1" fill="#383838" />
<polygon points="1357.1,1100.2 1360.6,1100.4 -39.4,-101.1 -42.9,-103.2" fill="#2a2a2a" />
<polygon points="1360.2,1100.4 1365.8,1100.7 -34.2,-98.0 -39.8,-101.3" fill="#444444" />
<polygon points="1365.4,1100.7 1367.8,1100.8 -32.2,-96.8 -34.6,-98.2" fill="#545454" />
<polygon points="1367.4,1100.8 1386.3,1102.0 -13.7,-85.6 -32.6,-97.0" fill="#353535" />
<polygon points="1385.9,1102.0 1389.4,1102.2 -10.6,-83.8 -14.1,-85.9" fill="#2a2a2a" />
<polygon points="1389.0,1102.1 1394.5,1102.5 -5.5,-80.7 -11.0,-84.0" fill="#444444" />
<polygon points="1394.1,1102.5 1396.6,1102.6 -3.4,-79.5 -5.9,-81.0" fill="#545454" />
<polygon points="1396.2,1102.6 1416.9,1103.9 16.9,-67.2 -3.8,-79.7" fill="#3a3a3a" />
<polygon points="1416.5,1103.9 1427.1,1104.5 27.1,-61.2 16.5,-67.5" fill="#141414" />
<polygon points="1426.7,1104.5 1434.2,1105.0 34.2,-56.9 26.7,-61.4" fill="#505050" />
<polygon points="1433.8,1104.9 1437.2,1105.1 37.2,-55.1 33.8,-57.1" fill="#8c8c8c" />
<polygon points="1436.8,1105.1 1440.2,1105.3 40.2,-53.3 36.8,-55.3" fill="#202020" />
<polygon points="1439.8,1105.3 1459.3,1106.5 59.3,-41.8 39.8,-53.5" fill="#383838" />
<polygon points="1458.9,1106.5 1462.3,1106.7 62.3,-40.0 58.9,-42.0" fill="#2a2a2a" />
<polygon points="1461.9,1106.7 1467.3,1107.0 67.3,-37.0 61.9,-40.2" fill="#444444" />
<polygon points="1466.9,1107.0 1469.3,1107.1 69.3,-35.8 66.9,-37.2" fill="#545454" />
<polygon points="1468.9,1107.1 1487.2,1108.2 87.2,-25.0 68.9,-36.0" fill="#353535" />
<polygon points="1486.8,1108.2 1490.2,1108.4 90.2,-23.2 86.8,-25.3" fill="#2a2a2a" />
<polygon points="1489.8,1108.4 1495.2,1108.7 95.2,-20.3 89.8,-23.5" fill="#444444" />
<polygon points="1494.8,1108.7 1497.1,1108.9 97.1,-19.1 94.8,-20.5" fill="#545454" />
<polygon points="1496.7,1108.8 1516.9,1110.1 116.9,-7.2 96.7,-19.3" fill="#3a3a3a" />
<polygon points="1516.5,1110.1 1526.7,1110.7 126.7,-1.3 116.5,-7.5" fill="#141414" />
<polygon points="1526.3,1110.7 1533.5,1111.1 133.5,2.8 126.3,-1.6" fill="#505050" />
<polygon points="1533.1,1111.1 1536.5,1111.3 136.5,4.6 133.1,2.6" fill="#8c8c8c" />
<polygon points="1536.1,1111.3 1539.4,1111.5 139.4,6.3 136.1,4.3" fill="#202020" />
<polygon points="1539.0,1111.5 1557.9,1112.6 157.9,17.4 139.0,6.1" fill="#383838" />
<polygon points="1557.5,1112.6 1560.8,1112.8 160.8,19.2 157.5,17.2" fill="#2a2a2a" />
<polygon points="1560.4,1112.8 1565.6,1113.1 165.6,22.1 160.4,19.0" fill="#444444" />
<polygon points="1565.3,1113.1 1567.6,1113.2 167.6,23.3 165.3,21.9" fill="#545454" />
<polygon points="1567.2,1113.2 1584.9,1114.3 184.9,33.7 167.2,23.0" fill="#353535" />
<polygon points="1584.6,1114.3 1587.8,1114.5 187.8,35.4 184.6,33.5" fill="#2a2a2a" />
<polygon points="1587.4,1114.5 1592.6,1114.8 192.6,38.3 187.4,35.2" fill="#444444" />
<polygon points="1592.2,1114.8 1594.5,1114.9 194.5,39.5 192.2,38.1" fill="#545454" />
<polygon points="1594.2,1114.9 1613.7,1116.1 213.7,50.9 194.2,39.2" fill="#3a3a3a" />
<polygon points="1613.3,1116.1 1623.2,1116.7 223.2,56.7 213.3,50.7" fill="#141414" />
<polygon points="1622.8,1116.7 1629.8,1117.1 229.8,60.7 222.8,56.4" fill="#505050" />
<polygon points="1629.4,1117.1 1632.7,1117.3 232.7,62.4 229.4,60.4" fill="#8c8c8c" />
<polygon points="1632.3,1117.3 1635.5,1117.5 235.5,63.6 232.3,62.1" fill="#202020" />
<polygon points="1635.1,1117.4 1653.4,1118.6 253.4,68.6 235.1,63.5" fill="#383838" />
<polygon points="1653.1,1118.5 1656.3,1118.7 256.3,69.4 253.1,68.5" fill="#2a2a2a" />
<polygon points="1655.9,1118.7 1660.9,1119.0 260.9,70.7 255.9,69.3" fill="#444444" />
<polygon points="1660.6,1119.0 1662.8,1119.2 262.8,71.3 260.6,70.6" fill="#545454" />
<polygon points="1662.4,1119.1 1679.7,1120.2 279.7,76.0 262.4,71.2" fill="#353535" />
<polygon points="1679.3,1120.2 1682.4,1120.4 282.4,76.8 279.3,75.9" fill="#2a2a2a" />
<polygon points="1682.1,1120.4 1687.1,1120.7 287.1,78.1 282.1,76.7" fill="#444444" />
<polygon points="1686.7,1120.6 1689.0,1120.8 289.0,78.6 286.7,78.0" fill="#545454" />
<polygon points="1688.6,1120.8 1707.5,1121.9 307.5,83.8 288.6,78.5" fill="#3a3a3a" />
<polygon points="1707.1,1121.9 1716.8,1122.5 316.8,86.5 307.1,83.7" fill="#141414" />
<polygon points="1716.5,1122.5 1723.2,1122.9 323.2,88.3 316.5,86.4" fill="#515151" />
<polygon points="1722.9,1122.9 1726.0,1123.1 326.0,89.1 322.9,88.2" fill="#8e8e8e" />
<polygon points="1725.6,1123.1 1728.8,1123.3 328.8,89.8 325.6,89.0" fill="#212121" />
<polygon points="1728.4,1123.2 1746.1,1124.3 346.1,94.7 328.4,89.7" fill="#393939" />
<polygon points="1745.7,1124.3 1748.9,1124.5 348.9,95.5 345.7,94.6" fill="#2a2a2a" />
<polygon points="1748.5,1124.5 1753.4,1124.8 353.4,96.8 348.5,95.4" fill="#464646" />
<polygon points="1753.1,1124.8 1755.2,1124.9 355.2,97.3 353.1,96.7" fill="#565656" />
<polygon points="1754.9,1124.9 1771.5,1125.9 371.5,101.9 354.9,97.2" fill="#363636" />
<polygon points="1771.2,1125.9 1774.3,1126.1 374.3,102.6 371.2,101.8" fill="#2a2a2a" />
<polygon points="1773.9,1126.1 1778.8,1126.4 378.8,103.9 373.9,102.5" fill="#464646" />
<polygon points="1778.4,1126.3 1780.6,1126.5 380.6,104.4 378.4,103.8" fill="#565656" />
<polygon points="1780.2,1126.4 1798.5,1127.6 398.5,109.5 380.2,104.3" fill="#3b3b3b" />
<polygon points="1798.1,1127.6 1807.7,1128.2 407.7,112.1 398.1,109.4" fill="#141414" />
<polygon points="1807.4,1128.1 1813.9,1128.5 413.9,113.8 407.4,112.0" fill="#545454" />
<polygon points="1813.6,1128.5 1816.6,1128.7 416.6,114.6 413.6,113.7" fill="#919191" />
<polygon points="1816.3,1128.7 1819.3,1128.9 419.3,115.3 416.3,114.5" fill="#232323" />
<polygon points="1818.9,1128.9 1836.1,1129.9 436.1,120.0 418.9,115.2" fill="#3c3c3c" />
<polygon points="1835.7,1129.9 1838.8,1130.1 438.8,120.8 435.7,119.9" fill="#2b2b2b" />
<polygon points="1838.4,1130.1 1843.2,1130.4 443.2,122.0 438.4,120.7" fill="#484848" />
<polygon points="1842.8,1130.3 1845.0,1130.5 445.0,122.5 442.8,121.9" fill="#5b5b5b" />
<polygon points="1844.6,1130.4 1860.7,1131.4 460.7,127.0 444.6,122.4" fill="#393939" />
<polygon points="1860.4,1131.4 1863.4,1131.6 463.4,127.7 460.4,126.9" fill="#2b2b2b" />
<polygon points="1863.1,1131.6 1867.8,1131.9 467.8,129.0 463.1,127.6" fill="#484848" />
<polygon points="1867.5,1131.9 1869.6,1132.0 469.6,129.5 467.5,128.9" fill="#5b5b5b" />
<polygon points="1869.2,1132.0 1886.8,1133.1 486.8,134.3 469.2,129.4" fill="#3e3e3e" />
<polygon points="1886.4,1133.0 1896.0,1133.6 496.0,136.9 486.4,134.2" fill="#141414" />
<polygon points="1895.7,1133.6 1902.0,1134.0 502.0,138.6 495.7,136.8" fill="#575757" />
<polygon points="1901.6,1134.0 1904.6,1134.2 504.6,139.3 501.6,138.5" fill="#959595" />
<polygon points="1904.3,1134.2 1907.2,1134.3 507.2,140.0 504.3,139.2" fill="#262626" />
<polygon points="1906.8,1134.3 1923.4,1135.3 523.4,144.6 506.8,139.9" fill="#404040" />
<polygon points="1923.1,1135.3 1926.1,1135.5 526.1,145.4 523.1,144.5" fill="#2c2c2c" />
<polygon points="1925.7,1135.5 1930.4,1135.8 530.4,146.6 525.7,145.3" fill="#4c4c4c" />
<polygon points="1930.0,1135.8 1932.1,1135.9 532.1,147.1 530.0,146.5" fill="#626262" />
<polygon points="1931.7,1135.9 1947.3,1136.8 547.3,151.4 531.7,147.0" fill="#3c3c3c" />
<polygon points="1947.0,1136.8 1950.0,1137.0 550.0,152.1 547.0,151.3" fill="#2c2c2c" />
<polygon points="1949.7,1137.0 1954.3,1137.3 554.3,153.3 549.7,152.0" fill="#4c4c4c" />
<polygon points="1953.9,1137.2 1956.0,1137.4 556.0,153.8 553.9,153.2" fill="#626262" />
<polygon points="1955.6,1137.3 1972.5,1138.4 572.5,158.4 555.6,153.7" fill="#424242" />
<polygon points="1972.1,1138.4 1981.8,1139.0 581.8,161.0 572.1,158.3" fill="#141414" />
<polygon points="1981.4,1138.9 1987.5,1139.3 587.5,162.6 581.4,160.9" fill="#5b5b5b" />
<polygon points="1987.1,1139.3 1990.1,1139.5 590.1,163.4 587.1,162.5" fill="#9b9b9b" />
<polygon points="1989.7,1139.5 1992.5,1139.6 592.5,164.1 589.7,163.3" fill="#292929" />
<polygon points="1992.2,1139.6 2008.2,1140.6 608.2,168.5 592.2,164.0" fill="#444444" />
<polygon points="2007.9,1140.6 2010.9,1140.8 610.9,169.2 607.9,168.4" fill="#2d2d2d" />
<polygon points="2010.6,1140.8 2015.0,1141.0 615.0,170.4 610.6,169.1" fill="#515151" />
<polygon points="2014.7,1141.0 2016.7,1141.1 616.7,170.9 614.7,170.3" fill="#696969" />
<polygon points="2016.4,1141.1 2031.5,1142.1 631.5,175.0 616.4,170.8" fill="#404040" />
<polygon points="2031.1,1142.0 2034.1,1142.2 634.1,175.8 631.1,174.9" fill="#2d2d2d" />
<polygon points="2033.8,1142.2 2038.2,1142.5 638.2,176.9 633.8,175.7" fill="#515151" />
<polygon points="2037.9,1142.5 2039.9,1142.6 639.9,177.4 637.9,176.8" fill="#696969" />
<polygon points="2039.6,1142.6 2055.7,1143.6 655.7,181.8 639.6,177.3" fill="#474747" />
<polygon points="2055.3,1143.5 2065.0,1144.1 665.0,184.5 655.3,181.7" fill="#151515" />
<polygon points="2064.7,1144.1 2070.5,1144.5 670.5,186.0 664.7,184.4" fill="#606060" />
<polygon points="2070.2,1144.5 2073.1,1144.6 673.1,186.7 670.2,185.9" fill="#a1a1a1" />
<polygon points="2072.7,1144.6 2075.4,1144.8 675.4,187.4 672.7,186.6" fill="#2d2d2d" />
<polygon points="2075.1,1144.8 2090.6,1145.7 690.6,191.7 675.1,187.3" fill="#494949" />
<polygon points="2090.3,1145.7 2093.3,1145.9 693.3,192.4 690.3,191.6" fill="#2e2e2e" />
<polygon points="2092.9,1145.9 2097.3,1146.1 697.3,193.6 692.9,192.3" fill="#565656" />
<polygon points="2097.0,1146.1 2098.9,1146.2 698.9,194.0 697.0,193.5" fill="#727272" />
<polygon points="2098.6,1146.2 2113.2,1147.1 713.2,197.2 698.6,193.9" fill="#454545" />
<polygon points="2112.9,1147.1 2115.8,1147.3 715.8,197.8 712.9,197.1" fill="#2e2e2e" />
<polygon points="2115.5,1147.3 2119.8,1147.5 719.8,198.6 715.5,197.7" fill="#565656" />
<polygon points="2119.5,1147.5 2121.4,1147.6 721.4,199.0 719.5,198.6" fill="#727272" />
<polygon points="2121.1,1147.6 2136.5,1148.6 736.5,202.3 721.1,198.9" fill="#4c4c4c" />
<polygon points="2136.2,1148.6 2145.9,1149.2 745.9,204.3 736.2,202.2" fill="#151515" />
<polygon points="2145.6,1149.1 2151.2,1149.5 751.2,205.5 745.6,204.2" fill="#646464" />
<polygon points="2150.9,1149.5 2153.7,1149.6 753.7,206.0 750.9,205.4" fill="#a7a7a7" />
<polygon points="2153.4,1149.6 2156.0,1149.8 756.0,206.5 753.4,205.9" fill="#303030" />
<polygon points="2155.6,1149.8 2170.7,1150.7 770.7,209.7 755.6,206.4" fill="#4e4e4e" />
<polygon points="2170.3,1150.7 2173.3,1150.9 773.3,210.3 770.3,209.6" fill="#2f2f2f" />
<polygon points="2173.0,1150.8 2177.2,1151.1 777.2,211.1 773.0,210.2" fill="#5c5c5c" />
<polygon points="2176.9,1151.1 2178.8,1151.2 778.8,211.5 776.9,211.1" fill="#7b7b7b" />
<polygon points="2178.5,1151.2 2192.6,1152.1 792.6,214.5 778.5,211.4" fill="#4a4a4a" />
<polygon points="2192.3,1152.0 2195.2,1152.2 795.2,215.0 792.3,214.4" fill="#2f2f2f" />
<polygon points="2194.9,1152.2 2199.1,1152.5 799.1,215.9 794.9,215.0" fill="#5c5c5c" />
<polygon points="2198.8,1152.4 2200.7,1152.6 800.7,216.2 798.8,215.8" fill="#7b7b7b" />
<polygon points="2200.4,1152.5 2215.1,1153.5 815.1,219.4 800.4,216.2" fill="#515151" />
<polygon points="2214.8,1153.4 2224.6,1154.0 824.6,221.4 814.8,219.3" fill="#151515" />
<polygon points="2224.3,1154.0 2229.6,1154.4 829.6,222.5 824.3,221.4" fill="#696969" />
<polygon points="2229.3,1154.3 2232.1,1154.5 832.1,223.1 829.3,222.5" fill="#adadad" />
<polygon points="2231.8,1154.5 2234.2,1154.6 834.2,223.5 831.8,223.0" fill="#343434" />
<polygon points="2233.9,1154.6 2248.5,1155.5 848.5,226.6 833.9,223.5" fill="#545454" />
<polygon points="2248.2,1155.5 2251.1,1155.7 851.1,227.2 848.2,226.6" fill="#303030" />
<polygon points="2250.8,1155.7 2254.9,1155.9 854.9,228.0 850.8,227.1" fill="#626262" />
<polygon points="2254.6,1155.9 2256.5,1156.0 856.5,228.4 854.6,228.0" fill="#848484" />
<polygon points="2256.2,1156.0 2269.8,1156.9 869.8,231.3 856.2,228.3" fill="#4e4e4e" />
<polygon points="2269.5,1156.8 2272.4,1157.0 872.4,231.8 869.5,231.2" fill="#303030" />
<polygon points="2272.1,1157.0 2276.2,1157.3 876.2,232.7 872.1,231.8" fill="#626262" />
<polygon points="2275.9,1157.2 2277.7,1157.4 877.7,233.0 875.9,232.6" fill="#848484" />
<polygon points="2277.4,1157.3 2291.5,1158.2 891.5,236.0 877.4,232.9" fill="#575757" />
<polygon points="2291.2,1158.2 2301.0,1158.8 901.0,238.1 891.2,235.9" fill="#151515" />
<polygon points="2300.7,1158.8 2305.9,1159.1 905.9,239.1 900.7,238.0" fill="#6e6e6e" />
<polygon points="2305.6,1159.1 2308.3,1159.3 908.3,239.7 905.6,239.1" fill="#b4b4b4" />
<polygon points="2308.0,1159.2 2310.4,1159.4 910.4,240.1 908.0,239.6" fill="#383838" />
<polygon points="2310.1,1159.4 2324.1,1160.2 924.1,243.1 910.1,240.0" fill="#595959" />
<polygon points="2323.8,1160.2 2326.8,1160.4 926.8,243.7 923.8,243.0" fill="#323232" />
<polygon points="2326.5,1160.4 2330.5,1160.6 930.5,244.5 926.5,243.6" fill="#676767" />
<polygon points="2330.2,1160.6 2332.0,1160.7 932.0,244.8 930.2,244.4" fill="#8d8d8d" />
<polygon points="2331.7,1160.7 2344.9,1161.5 944.9,247.6 931.7,244.7" fill="#535353" />
<polygon points="2344.6,1161.5 2347.5,1161.7 947.5,248.2 944.6,247.6" fill="#323232" />
<polygon points="2347.2,1161.7 2351.2,1161.9 951.2,249.0 947.2,248.1" fill="#676767" />
<polygon points="2350.9,1161.9 2352.7,1162.0 952.7,249.3 950.9,248.9" fill="#8d8d8d" />
<polygon points="2352.4,1162.0 2365.7,1162.8 965.7,252.2 952.4,249.2" fill="#5c5c5c" />
<polygon points="2365.5,1162.8 2375.4,1163.4 975.4,254.3 965.5,252.1" fill="#151515" />
<polygon points="2375.1,1163.4 2380.0,1163.7 980.0,255.3 975.1,254.2" fill="#727272" />
<polygon points="2379.7,1163.7 2382.4,1163.9 982.4,255.8 979.7,255.2" fill="#b9b9b9" />
<polygon points="2382.1,1163.8 2384.4,1164.0 984.4,256.2 982.1,255.7" fill="#3c3c3c" />
<polygon points="2384.1,1164.0 2397.7,1164.8 997.7,259.1 984.1,256.1" fill="#5e5e5e" />
<polygon points="2397.4,1164.8 2400.4,1165.0 1000.4,259.7 997.4,259.1" fill="#333333" />
<polygon points="2400.1,1164.9 2404.0,1165.2 1004.0,260.5 1000.1,259.6" fill="#6c6c6c" />
<polygon points="2403.7,1165.2 2405.4,1165.3 1005.4,260.8 1003.7,260.4" fill="#969696" />
<polygon points="2405.1,1165.3 2417.9,1166.1 1017.9,263.5 1005.1,260.7" fill="#585858" />
<polygon points="2417.6,1166.0 2420.5,1166.2 1020.5,264.1 1017.6,263.4" fill="#333333" />
<polygon points="2420.2,1166.2 2424.1,1166.4 1024.1,264.9 1020.2,264.0" fill="#6c6c6c" />
<polygon points="2423.8,1166.4 2425.6,1166.5 1025.6,265.2 1023.8,264.8" fill="#969696" />
<polygon points="2425.3,1166.5 2438.0,1167.3 1038.0,267.9 1025.3,265.1" fill="#616161" />
<polygon points="2437.8,1167.3 2447.7,1167.9 1047.7,270.0 1037.8,267.8" fill="#151515" />
<polygon points="2447.4,1167.9 2452.2,1168.2 1052.2,271.0 1047.4,269.9" fill="#767676" />
<polygon points="2451.9,1168.2 2454.5,1168.3 1054.5,271.5 1051.9,270.9" fill="#bfbfbf" />
<polygon points="2454.2,1168.3 2456.4,1168.4 1056.4,271.9 1054.2,271.4" fill="#3f3f3f" />
<polygon points="2456.1,1168.4 2469.3,1169.3 1069.3,274.7 1056.1,271.8" fill="#636363" />
<polygon points="2469.0,1169.2 2471.9,1169.4 1071.9,275.3 1069.0,274.6" fill="#343434" />
<polygon points="2471.7,1169.4 2475.5,1169.6 1075.5,276.0 1071.7,275.2" fill="#717171" />
<polygon points="2475.2,1169.6 2476.9,1169.7 1076.9,276.3 1075.2,276.0" fill="#9e9e9e" />
<polygon points="2476.6,1169.7 2489.0,1170.5 1089.0,279.0 1076.6,276.3" fill="#5c5c5c" />
<polygon points="2488.7,1170.5 2491.6,1170.6 1091.6,279.5 1088.7,278.9" fill="#343434" />
<polygon points="2491.3,1170.6 2495.1,1170.8 1095.1,280.3 1091.3,279.5" fill="#717171" />
<polygon points="2494.8,1170.8 2496.5,1170.9 1096.5,280.6 1094.8,280.2" fill="#9e9e9e" />
<polygon points="2496.2,1170.9 2508.4,1171.7 1108.4,283.2 1096.2,280.5" fill="#666666" />
<polygon points="2508.1,1171.7 2518.0,1172.3 1118.0,285.3 1108.1,283.1" fill="#161616" />
<polygon points="2517.8,1172.3 2522.3,1172.5 1122.3,286.2 1117.8,285.2" fill="#7a7a7a" />
<polygon points="2522.1,1172.5 2524.7,1172.7 1124.7,286.7 1122.1,286.2" fill="#c4c4c4" />
<polygon points="2524.4,1172.7 2526.5,1172.8 1126.5,287.1 1124.4,286.7" fill="#424242" />
<polygon points="2526.2,1172.8 2539.0,1173.6 1139.0,289.9 1126.2,287.1" fill="#676767" />
<polygon points="2538.7,1173.6 2541.6,1173.7 1141.6,290.4 1138.7,289.8" fill="#353535" />
<polygon points="2541.3,1173.7 2545.0,1174.0 1145.0,291.2 1141.3,290.4" fill="#767676" />
<polygon points="2544.8,1173.9 2546.4,1174.0 1146.4,291.5 1144.8,291.1" fill="#a5a5a5" />
<polygon points="2546.1,1174.0 2558.2,1174.8 1158.2,294.0 1146.1,291.4" fill="#606060" />
<polygon points="2557.9,1174.8 2560.7,1174.9 1160.7,294.6 1157.9,294.0" fill="#353535" />
<polygon points="2560.5,1174.9 2564.1,1175.1 1164.1,295.3 1160.5,294.5" fill="#767676" />
<polygon points="2563.9,1175.1 2565.5,1175.2 1165.5,295.6 1163.9,295.3" fill="#a5a5a5" />
<polygon points="2565.2,1175.2 2576.9,1175.9 1176.9,298.1 1165.2,295.6" fill="#6a6a6a" />
<polygon points="2576.7,1175.9 2586.5,1176.6 1186.5,300.3 1176.7,298.1" fill="#161616" />
<polygon points="2586.3,1176.6 2590.7,1176.9 1190.7,301.3 1186.3,300.2" fill="#7d7d7d" />
<polygon points="2590.4,1176.9 2593.0,1177.1 1193.0,301.8 1190.4,301.2" fill="#c9c9c9" />
<polygon points="2592.7,1177.1 2594.7,1177.2 1194.7,302.2 1192.7,301.7" fill="#454545" />
<polygon points="2594.4,1177.2 2606.9,1178.1 1206.9,305.0 1194.4,302.1" fill="#6a6a6a" />
<polygon points="2606.6,1178.1 2609.4,1178.3 1209.4,305.6 1206.6,304.9" fill="#363636" />
<polygon points="2609.2,1178.3 2612.8,1178.6 1212.8,306.3 1209.2,305.5" fill="#7a7a7a" />
<polygon points="2612.5,1178.5 2614.1,1178.6 1214.1,306.6 1212.5,306.3" fill="#acacac" />
<polygon points="2613.8,1178.6 2625.5,1179.5 1225.5,309.2 1213.8,306.6" fill="#636363" />
<polygon points="2625.2,1179.5 2628.1,1179.7 1228.1,309.8 1225.2,309.2" fill="#363636" />
<polygon points="2627.8,1179.7 2631.4,1179.9 1231.4,310.6 1227.8,309.8" fill="#7a7a7a" />
<polygon points="2631.1,1179.9 2632.7,1180.0 1232.7,310.9 1231.1,310.5" fill="#acacac" />
<polygon points="2632.4,1180.0 2643.7,1180.8 1243.7,313.5 1232.4,310.8" fill="#6e6e6e" />
<polygon points="2643.4,1180.8 2653.2,1181.5 1253.2,315.9 1243.4,313.4" fill="#161616" />
<polygon points="2652.9,1181.5 2657.2,1181.8 1257.2,316.9 1252.9,315.8" fill="#808080" />
<polygon points="2656.9,1181.8 2659.5,1182.0 1259.5,317.5 1256.9,316.8" fill="#cccccc" />
<polygon points="2659.2,1182.0 2661.1,1182.1 1261.1,317.9 1259.2,317.4" fill="#474747" />
<polygon points="2660.9,1182.1 2672.9,1183.0 1272.9,320.9 1260.9,317.8" fill="#6e6e6e" />
<polygon points="2672.7,1182.9 2675.5,1183.2 1275.5,321.5 1272.7,320.8" fill="#373737" />
<polygon points="2675.2,1183.1 2678.7,1183.4 1278.7,322.4 1275.2,321.5" fill="#7d7d7d" />
<polygon points="2678.5,1183.4 2680.0,1183.5 1280.0,322.7 1278.5,322.3" fill="#b1b1b1" />
<polygon points="2679.8,1183.5 2691.1,1184.3 1291.1,325.5 1279.8,322.6" fill="#666666" />
<polygon points="2690.9,1184.3 2693.6,1184.5 1293.6,326.1 1290.9,325.4" fill="#373737" />
<polygon points="2693.4,1184.5 2696.9,1184.7 1296.9,327.0 1293.4,326.1" fill="#7d7d7d" />
<polygon points="2696.6,1184.7 2698.1,1184.8 1298.1,327.3 1296.6,326.9" fill="#b1b1b1" />
<polygon points="2697.9,1184.8 2708.7,1185.6 1308.7,330.0 1297.9,327.2" fill="#717171" />
<polygon points="2708.5,1185.6 2718.1,1186.3 1318.1,332.3 1308.5,329.9" fill="#161616" />
<polygon points="2717.9,1186.3 2722.0,1186.6 1322.0,333.3 1317.9,332.3" fill="#838383" />
<polygon points="2721.7,1186.5 2724.2,1186.7 1324.2,333.9 1321.7,333.3" fill="#d0d0d0" />
<polygon points="2724.0,1186.7 2725.8,1186.8 1325.8,334.3 1324.0,333.8" fill="#494949" />
<polygon points="2725.6,1186.8 2737.3,1187.7 1337.3,337.2 1325.6,334.2" fill="#707070" />
<polygon points="2737.1,1187.7 2739.8,1187.9 1339.8,337.8 1337.1,337.1" fill="#373737" />
<polygon points="2739.6,1187.9 2743.0,1188.1 1343.0,338.6 1339.6,337.8" fill="#808080" />
<polygon points="2742.7,1188.1 2744.2,1188.2 1344.2,339.0 1342.7,338.6" fill="#b6b6b6" />
<polygon points="2744.0,1188.2 2755.0,1189.0 1355.0,341.7 1344.0,338.9" fill="#696969" />
<polygon points="2754.8,1189.0 2757.5,1189.2 1357.5,342.3 1354.8,341.6" fill="#373737" />
<polygon points="2757.3,1189.2 2760.7,1189.4 1360.7,343.1 1357.3,342.3" fill="#808080" />
<polygon points="2760.4,1189.4 2761.9,1189.5 1361.9,343.4 1360.4,343.1" fill="#b6b6b6" />
<polygon points="2761.7,1189.5 2772.1,1190.2 1372.1,346.0 1361.7,343.4" fill="#747474" />
<polygon points="2771.8,1190.2 2781.4,1190.9 1381.4,348.4 1371.8,346.0" fill="#161616" />
<polygon points="2781.1,1190.9 2785.1,1191.2 1385.1,349.3 1381.1,348.3" fill="#848484" />
<polygon points="2784.9,1191.2 2787.3,1191.4 1387.3,349.9 1384.9,349.3" fill="#d2d2d2" />
<polygon points="2787.1,1191.3 2788.9,1191.5 1388.9,350.3 1387.1,349.8" fill="#4b4b4b" />
<polygon points="2788.6,1191.5 2800.0,1192.3 1400.0,353.1 1388.6,350.2" fill="#727272" />
<polygon points="2799.8,1192.3 2802.5,1192.5 1402.5,353.7 1399.8,353.0" fill="#383838" />
<polygon points="2802.3,1192.5 2805.6,1192.7 1405.6,354.5 1402.3,353.7" fill="#828282" />
<polygon points="2805.3,1192.7 2806.8,1192.8 1406.8,354.8 1405.3,354.4" fill="#b9b9b9" />
<polygon points="2806.6,1192.8 2817.3,1193.6 1417.3,357.5 1406.6,354.8" fill="#6a6a6a" />
<polygon points="2817.1,1193.5 2819.8,1193.7 1419.8,358.1 1417.1,357.4" fill="#383838" />
<polygon points="2819.5,1193.7 2822.8,1194.0 1422.8,358.9 1419.5,358.0" fill="#828282" />
<polygon points="2822.6,1193.9 2824.0,1194.1 1424.0,359.2 1422.6,358.8" fill="#b9b9b9" />
<polygon points="2823.8,1194.0 2833.9,1194.8 1433.9,361.7 1423.8,359.1" fill="#767676" />
<polygon points="2833.7,1194.8 2843.0,1195.4 1443.0,364.0 1433.7,361.6" fill="#161616" />
<polygon points="2842.8,1195.4 2846.7,1195.7 1446.7,364.9 1442.8,363.9" fill="#858585" />
<polygon points="2846.4,1195.7 2848.8,1195.9 1448.8,365.4 1446.4,364.9" fill="#d3d3d3" />
<polygon points="2848.5,1195.8 2850.3,1196.0 1450.3,365.8 1448.5,365.4" fill="#4c4c4c" />
<polygon points="2850.1,1196.0 2861.2,1196.8 1461.2,368.6 1450.1,365.8" fill="#737373" />
<polygon points="2861.0,1196.8 2863.6,1197.0 1463.6,369.2 1461.0,368.5" fill="#383838" />
<polygon points="2863.4,1196.9 2866.6,1197.2 1466.6,370.0 1463.4,369.1" fill="#838383" />
<polygon points="2866.4,1197.2 2867.8,1197.3 1467.8,370.3 1466.4,369.9" fill="#bbbbbb" />
<polygon points="2867.6,1197.2 2878.0,1198.0 1478.0,372.9 1467.6,370.2" fill="#6b6b6b" />
<polygon points="2877.8,1198.0 2880.4,1198.2 1480.4,373.5 1477.8,372.8" fill="#383838" />
<polygon points="2880.2,1198.2 2883.4,1198.4 1483.4,374.2 1480.2,373.4" fill="#838383" />
<polygon points="2883.2,1198.4 2884.6,1198.5 1484.6,374.5 1483.2,374.2" fill="#bbbbbb" />
<polygon points="2884.4,1198.5 2894.2,1199.2 1494.2,377.0 1484.4,374.5" fill="#777777" />
<polygon points="2894.0,1199.2 2903.1,1199.9 1503.1,379.2 1494.0,376.9" fill="#161616" />
<polygon points="2902.9,1199.8 2906.7,1200.1 1506.7,380.1 1502.9,379.2" fill="#868686" />
<polygon points="2906.4,1200.1 2908.7,1200.3 1508.7,380.6 1506.4,380.1" fill="#d4d4d4" />
<polygon points="2908.5,1200.2 2910.2,1200.4 1510.2,381.0 1508.5,380.6" fill="#4c4c4c" />
<polygon points="2910.0,1200.4 2920.8,1201.2 1520.8,383.7 1510.0,381.0" fill="#747474" />
<polygon points="2920.6,1201.1 2923.2,1201.3 1523.2,384.3 1520.6,383.6" fill="#383838" />
<polygon points="2923.0,1201.3 2926.1,1201.5 1526.1,385.0 1523.0,384.2" fill="#848484" />
<polygon points="2925.9,1201.5 2927.3,1201.6 1527.3,385.3 1525.9,385.0" fill="#bcbcbc" />
<polygon points="2927.1,1201.6 2937.3,1202.4 1537.3,387.9 1527.1,385.3" fill="#6c6c6c" />
<polygon points="2937.0,1202.3 2939.6,1202.5 1539.6,388.5 1537.0,387.8" fill="#383838" />
<polygon points="2939.4,1202.5 2942.5,1202.7 1542.5,389.2 1539.4,388.4" fill="#848484" />
<polygon points="2942.3,1202.7 2943.7,1202.8 1543.7,389.5 1542.3,389.1" fill="#bcbcbc" />
<polygon points="2943.5,1202.8 2953.0,1203.5 1553.0,391.9 1543.5,389.4" fill="#787878" />
<polygon points="2952.8,1203.5 2961.7,1204.2 1561.7,394.1 1552.8,391.8" fill="#161616" />
<polygon points="2961.5,1204.1 2965.2,1204.4 1565.2,394.9 1561.5,394.0" fill="#868686" />
<polygon points="2964.9,1204.4 2967.2,1204.6 1567.2,395.5 1564.9,394.9" fill="#d4d4d4" />
<polygon points="2967.0,1204.5 2968.6,1204.7 1568.6,395.8 1567.0,395.4" fill="#4c4c4c" />
<polygon points="2968.4,1204.6 2979.0,1205.4 1579.0,398.4 1568.4,395.8" fill="#747474" />
<polygon points="2978.8,1205.4 2981.3,1205.6 1581.3,399.0 1578.8,398.4" fill="#383838" />
<polygon points="2981.1,1205.6 2984.2,1205.8 1584.2,399.8 1581.1,399.0" fill="#848484" />
<polygon points="2984.0,1205.8 2985.3,1205.9 1585.3,400.0 1584.0,399.7" fill="#bcbcbc" />
<polygon points="2985.1,1205.9 2995.1,1206.6 1595.1,403.4 1585.1,400.0" fill="#6c6c6c" />
<polygon points="2994.8,1206.6 2997.3,1206.8 1597.3,404.3 1594.8,403.3" fill="#383838" />
<polygon points="2997.1,1206.7 3000.2,1207.0 1600.2,405.5 1597.1,404.2" fill="#848484" />
<polygon points="3000.0,1207.0 3001.3,1207.1 1601.3,406.0 1600.0,405.4" fill="#bcbcbc" />
<polygon points="3001.1,1207.0 3010.4,1207.7 1610.4,409.8 1601.1,405.9" fill="#787878" />
<polygon points="3010.2,1207.7 3018.9,1208.3 1618.9,413.4 1610.2,409.7" fill="#161616" />
<polygon points="3018.7,1208.3 3022.3,1208.6 1622.3,414.8 1618.7,413.3" fill="#868686" />
<polygon points="3022.1,1208.6 3024.3,1208.7 1624.3,415.6 1622.1,414.7" fill="#d4d4d4" />
<polygon points="3024.0,1208.7 3025.7,1208.8 1625.7,416.2 1624.0,415.5" fill="#4c4c4c" />
<polygon points="3025.4,1208.8 3035.8,1209.6 1635.8,420.5 1625.4,416.1" fill="#747474" />
<polygon points="3035.6,1209.6 3038.0,1209.8 1638.0,421.4 1635.6,420.4" fill="#383838" />
<polygon points="3037.8,1209.7 3040.8,1210.0 1640.8,422.6 1637.8,421.3" fill="#848484" />
<polygon points="3040.6,1209.9 3042.0,1210.0 1642.0,423.1 1640.6,422.5" fill="#bcbcbc" />
<polygon points="3041.7,1210.0 3051.5,1210.7 1651.5,427.1 1641.7,423.0" fill="#6c6c6c" />
<polygon points="3051.2,1210.7 3053.7,1210.9 1653.7,428.0 1651.2,427.0" fill="#383838" />
<polygon points="3053.5,1210.9 3056.5,1211.1 1656.5,429.2 1653.5,427.9" fill="#848484" />
<polygon points="3056.2,1211.1 3057.6,1211.2 1657.6,429.6 1656.2,429.1" fill="#bcbcbc" />
<polygon points="3057.4,1211.2 3066.5,1211.8 1666.5,433.4 1657.4,429.5" fill="#787878" />
<polygon points="3066.2,1211.8 3074.7,1212.4 1674.7,436.9 1666.2,433.3" fill="#161616" />
<polygon points="3074.5,1212.4 3078.0,1212.7 1678.0,438.2 1674.5,436.8" fill="#868686" />
<polygon points="3077.8,1212.7 3080.0,1212.8 1680.0,439.1 1677.8,438.2" fill="#d4d4d4" />
<polygon points="3079.8,1212.8 3081.4,1212.9 1681.4,439.6 1679.8,439.0" fill="#4c4c4c" />
<polygon points="3081.1,1212.9 3091.2,1213.7 1691.2,443.8 1681.1,439.5" fill="#747474" />
<polygon points="3091.0,1213.6 3093.4,1213.8 1693.4,444.7 1691.0,443.7" fill="#383838" />
<polygon points="3093.2,1213.8 3096.2,1214.0 1696.2,445.9 1693.2,444.6" fill="#848484" />
<polygon points="3095.9,1214.0 3097.3,1214.1 1697.3,446.3 1695.9,445.8" fill="#bcbcbc" />
<polygon points="3097.0,1214.1 3106.5,1214.8 1706.5,450.2 1697.0,446.2" fill="#6c6c6c" />
<polygon points="3106.3,1214.8 3108.7,1214.9 1708.7,451.1 1706.3,450.1" fill="#383838" />
<polygon points="3108.5,1214.9 3111.4,1215.1 1711.4,452.3 1708.5,451.0" fill="#848484" />
<polygon points="3111.2,1215.1 3112.5,1215.2 1712.5,452.7 1711.2,452.2" fill="#bcbcbc" />
<polygon points="3112.3,1215.2 3121.2,1215.9 1721.2,456.4 1712.3,452.6" fill="#787878" />
<polygon points="3121.0,1215.8 3129.3,1216.4 1729.3,459.8 1721.0,456.3" fill="#161616" />
<polygon points="3129.1,1216.4 3132.5,1216.7 1732.5,461.1 1729.1,459.7" fill="#868686" />
<polygon points="3132.3,1216.7 3134.4,1216.8 1734.4,461.9 1732.3,461.0" fill="#d4d4d4" />
<polygon points="3134.2,1216.8 3135.7,1216.9 1735.7,462.5 1734.2,461.8" fill="#4c4c4c" />
<polygon points="3135.5,1216.9 3145.4,1217.6 1745.4,466.6 1735.5,462.4" fill="#747474" />
<polygon points="3145.2,1217.6 3147.5,1217.8 1747.5,467.5 1745.2,466.5" fill="#383838" />
<polygon points="3147.3,1217.8 3150.2,1218.0 1750.2,468.6 1747.3,467.4" fill="#848484" />
<polygon points="3150.0,1218.0 3151.3,1218.1 1751.3,469.0 1750.0,468.5" fill="#bcbcbc" />
<polygon points="3151.0,1218.0 3160.3,1218.7 1760.3,472.8 1751.0,468.9" fill="#6c6c6c" />
<polygon points="3160.1,1218.7 3162.4,1218.9 1762.4,473.7 1760.1,472.7" fill="#383838" />
<polygon points="3162.2,1218.9 3165.1,1219.1 1765.1,474.8 1762.2,473.6" fill="#848484" />
<polygon points="3164.9,1219.1 3166.2,1219.2 1766.2,475.3 1764.9,474.8" fill="#bcbcbc" />
<polygon points="3165.9,1219.1 3174.6,1219.8 1774.6,478.8 1765.9,475.2" fill="#787878" />
<polygon points="3174.4,1219.8 3182.5,1220.4 1782.5,482.2 1774.4,478.8" fill="#161616" />
<polygon points="3182.3,1220.3 3185.7,1220.6 1785.7,483.5 1782.3,482.1" fill="#868686" />
<polygon points="3185.5,1220.6 3187.5,1220.7 1787.5,484.3 1785.5,483.4" fill="#d4d4d4" />
<polygon points="3187.3,1220.7 3188.8,1220.8 1788.8,484.8 1787.3,484.2" fill="#4c4c4c" />
<polygon points="3188.6,1220.8 3198.3,1221.5 1798.3,488.8 1788.6,484.7" fill="#747474" />
<polygon points="3198.1,1221.5 3200.4,1221.7 1800.4,489.7 1798.1,488.7" fill="#383838" />
<polygon points="3200.2,1221.6 3203.0,1221.9 1803.0,490.8 1800.2,489.6" fill="#848484" />
<polygon points="3202.8,1221.8 3204.0,1221.9 1804.0,491.2 1802.8,490.7" fill="#bcbcbc" />
<polygon points="3203.8,1221.9 3212.9,1222.6 1812.9,494.9 1803.8,491.1" fill="#6c6c6c" />
<polygon points="3212.7,1222.6 3214.9,1222.7 1814.9,495.8 1812.7,494.8" fill="#383838" />
<polygon points="3214.7,1222.7 3217.5,1222.9 1817.5,496.9 1814.7,495.7" fill="#848484" />
<polygon points="3217.3,1222.9 3218.6,1223.0 1818.6,497.3 1817.3,496.8" fill="#bcbcbc" />
<polygon points="3218.4,1223.0 3226.8,1223.6 1826.8,500.8 1818.4,497.2" fill="#787878" />
<polygon points="3226.6,1223.6 3234.6,1224.2 1834.6,504.1 1826.6,500.7" fill="#161616" />
<polygon points="3234.4,1224.2 3237.7,1224.4 1837.7,505.4 1834.4,504.0" fill="#868686" />
<polygon points="3237.5,1224.4 3239.5,1224.5 1839.5,506.1 1837.5,505.3" fill="#d4d4d4" />
<polygon points="3239.3,1224.5 3240.7,1224.6 1840.7,506.6 1839.3,506.0" fill="#4c4c4c" />
<polygon points="3240.5,1224.6 3250.0,1225.3 1850.0,510.5 1840.5,506.6" fill="#747474" />
<polygon points="3249.8,1225.3 3252.0,1225.4 1852.0,511.4 1849.8,510.4" fill="#383838" />
<polygon points="3251.8,1225.4 3254.6,1225.6 1854.6,512.5 1851.8,511.3" fill="#848484" />
<polygon points="3254.3,1225.6 3255.6,1225.7 1855.6,512.9 1854.3,512.4" fill="#bcbcbc" />
<polygon points="3255.4,1225.7 3264.2,1226.3 1864.2,516.5 1855.4,512.8" fill="#6c6c6c" />
<polygon points="3264.0,1226.3 3266.2,1226.5 1866.2,517.4 1864.0,516.4" fill="#383838" />
<polygon points="3266.0,1226.5 3268.8,1226.7 1868.8,518.4 1866.0,517.3" fill="#848484" />
<polygon points="3268.6,1226.7 3269.8,1226.8 1869.8,518.9 1868.6,518.4" fill="#bcbcbc" />
<polygon points="3269.6,1226.7 3277.9,1227.3 1877.9,522.3 1869.6,518.8" fill="#787878" />
<polygon points="3277.7,1227.3 3285.4,1227.9 1885.4,525.4 1877.7,522.2" fill="#161616" />
<polygon points="3285.2,1227.9 3288.5,1228.1 1888.5,526.7 1885.2,525.4" fill="#868686" />
<polygon points="3288.3,1228.1 3290.2,1228.3 1890.2,527.4 1888.3,526.6" fill="#d4d4d4" />
<polygon points="3290.0,1228.2 3291.5,1228.3 1891.5,528.0 1890.0,527.4" fill="#4c4c4c" />
<polygon points="3291.3,1228.3 3300.5,1229.0 1900.5,531.8 1891.3,527.9" fill="#747474" />
<polygon points="3300.3,1229.0 3302.5,1229.2 1902.5,532.6 1900.3,531.7" fill="#383838" />
<polygon points="3302.3,1229.1 3305.0,1229.3 1905.0,533.7 1902.3,532.5" fill="#848484" />
<polygon points="3304.8,1229.3 3306.0,1229.4 1906.0,534.1 1904.8,533.6" fill="#bcbcbc" />
<polygon points="3305.8,1229.4 3314.4,1230.0 1914.4,537.6 1905.8,534.0" fill="#6c6c6c" />
<polygon points="3314.2,1230.0 3316.4,1230.2 1916.4,538.5 1914.2,537.5" fill="#383838" />
<polygon points="3316.2,1230.2 3318.9,1230.4 1918.9,539.5 1916.2,538.4" fill="#848484" />
<polygon points="3318.7,1230.3 3319.9,1230.4 1919.9,539.9 1918.7,539.4" fill="#bcbcbc" />
<polygon points="3319.7,1230.4 3327.8,1231.0 1927.8,543.2 1919.7,539.8" fill="#787878" />
<polygon points="3327.6,1231.0 3335.2,1231.6 1935.2,546.3 1927.6,543.2" fill="#161616" />
<polygon points="3335.0,1231.5 3338.1,1231.8 1938.1,547.6 1935.0,546.3" fill="#868686" />
<polygon points="3337.9,1231.8 3339.8,1231.9 1939.8,548.3 1937.9,547.5" fill="#d4d4d4" />
<polygon points="3339.6,1231.9 3341.1,1232.0 1941.1,548.8 1939.6,548.2" fill="#4c4c4c" />
<polygon points="3340.9,1232.0 3349.9,1232.6 1949.9,552.6 1940.9,548.7" fill="#747474" />
<polygon points="3349.7,1232.6 3351.8,1232.8 1951.8,553.6 1949.7,552.5" fill="#383838" />
<polygon points="3351.6,1232.8 3354.3,1233.0 1954.3,554.8 1951.6,553.5" fill="#848484" />
<polygon points="3354.1,1232.9 3355.2,1233.0 1955.2,555.3 1954.1,554.7" fill="#bcbcbc" />
<polygon points="3355.0,1233.0 3363.5,1233.6 1963.5,559.6 1955.0,555.2" fill="#6c6c6c" />
<polygon points="3363.3,1233.6 3365.4,1233.8 1965.4,560.5 1963.3,559.5" fill="#383838" />
<polygon points="3365.2,1233.8 3367.9,1233.9 1967.9,561.8 1965.2,560.5" fill="#848484" />
<polygon points="3367.7,1233.9 3368.8,1234.0 1968.8,562.3 1967.7,561.7" fill="#bcbcbc" />
<polygon points="3368.6,1234.0 3376.6,1234.6 1976.6,566.2 1968.6,562.2" fill="#787878" />
<polygon points="3376.4,1234.6 3383.8,1235.1 1983.8,569.9 1976.4,566.1" fill="#161616" />
<polygon points="3383.6,1235.1 3386.7,1235.3 1986.7,571.4 1983.6,569.8" fill="#868686" />
<polygon points="3386.5,1235.3 3388.4,1235.5 1988.4,572.2 1986.5,571.3" fill="#d4d4d4" />
<polygon points="3388.2,1235.4 3389.6,1235.5 1989.6,572.8 1988.2,572.1" fill="#4c4c4c" />
<polygon points="3389.4,1235.5 3398.2,1236.2 1998.2,577.2 1989.4,572.7" fill="#747474" />
<polygon points="3398.0,1236.2 3400.1,1236.3 2000.1,578.2 1998.0,577.1" fill="#383838" />
<polygon points="3399.9,1236.3 3402.5,1236.5 2002.5,579.4 1999.9,578.1" fill="#848484" />
<polygon points="3402.3,1236.5 3403.4,1236.6 2003.4,579.9 2002.3,579.3" fill="#bcbcbc" />
<polygon points="3403.2,1236.5 3411.5,1237.2 2011.5,584.0 2003.2,579.8" fill="#6c6c6c" />
<polygon points="3411.3,1237.1 3413.4,1237.3 2013.4,585.0 2011.3,583.9" fill="#383838" />
<polygon points="3413.2,1237.3 3415.8,1237.5 2015.8,586.2 2013.2,584.9" fill="#848484" />
<polygon points="3415.6,1237.5 3416.7,1237.5 2016.7,586.7 2015.6,586.1" fill="#bcbcbc" />
<polygon points="3416.5,1237.5 3424.3,1238.1 2024.3,590.6 2016.5,586.6" fill="#787878" />
<polygon points="3424.1,1238.1 3431.3,1238.6 2031.3,594.2 2024.1,590.5" fill="#161616" />
<polygon points="3431.2,1238.6 3434.2,1238.8 2034.2,595.6 2031.2,594.1" fill="#868686" />
<polygon points="3434.0,1238.8 3435.8,1238.9 2035.8,596.4 2034.0,595.5" fill="#d4d4d4" />
<polygon points="3435.6,1238.9 3437.0,1239.0 2037.0,597.0 2035.6,596.3" fill="#4c4c4c" />
<polygon points="3436.8,1239.0 3445.4,1239.6 2045.4,601.3 2036.8,596.9" fill="#747474" />
<polygon points="3445.2,1239.6 3447.3,1239.8 2047.3,602.3 2045.2,601.2" fill="#383838" />
<polygon points="3447.1,1239.8 3449.6,1239.9 2049.6,603.5 2047.1,602.2" fill="#848484" />
<polygon points="3449.4,1239.9 3450.5,1240.0 2050.5,603.9 2049.4,603.4" fill="#bcbcbc" />
<polygon points="3450.4,1240.0 3458.5,1240.6 2058.5,607.0 2050.4,603.8" fill="#6c6c6c" />
<polygon points="3458.3,1240.6 3460.3,1240.7 2060.3,607.8 2058.3,606.9" fill="#383838" />
<polygon points="3460.1,1240.7 3462.6,1240.9 2062.6,608.7 2060.1,607.7" fill="#848484" />
<polygon points="3462.4,1240.9 3463.6,1241.0 2063.6,609.0 2062.4,608.6" fill="#bcbcbc" />
<polygon points="3463.4,1241.0 3471.0,1241.5 2071.0,612.0 2063.4,609.0" fill="#787878" />
<polygon points="3470.8,1241.5 3477.9,1242.0 2077.9,614.7 2070.8,611.9" fill="#161616" />
<polygon points="3477.7,1242.0 3480.6,1242.2 2080.6,615.8 2077.7,614.6" fill="#868686" />
<polygon points="3480.4,1242.2 3482.2,1242.3 2082.2,616.4 2080.4,615.7" fill="#d4d4d4" />
<polygon points="3482.1,1242.3 3483.4,1242.4 2083.4,616.9 2082.1,616.4" fill="#4c4c4c" />
<polygon points="3483.2,1242.4 3491.6,1243.0 2091.6,620.1 2083.2,616.8" fill="#747474" />
<polygon points="3491.5,1243.0 3493.5,1243.2 2093.5,620.9 2091.5,620.1" fill="#383838" />
<polygon points="3493.3,1243.2 3495.7,1243.3 2095.7,621.8 2093.3,620.8" fill="#848484" />
<polygon points="3495.6,1243.3 3496.7,1243.4 2096.7,622.1 2095.6,621.7" fill="#bcbcbc" />
<polygon points="3496.5,1243.4 3504.4,1244.0 2104.4,625.2 2096.5,622.1" fill="#6c6c6c" />
<polygon points="3504.2,1244.0 3506.2,1244.1 2106.2,625.9 2104.2,625.1" fill="#383838" />
<polygon points="3506.0,1244.1 3508.5,1244.3 2108.5,626.8 2106.0,625.8" fill="#848484" />
<polygon points="3508.3,1244.3 3509.4,1244.3 2109.4,627.2 2108.3,626.7" fill="#bcbcbc" />
<polygon points="3509.2,1244.3 3516.6,1244.9 2116.6,630.0 2109.2,627.1" fill="#787878" />
<polygon points="3516.5,1244.9 3523.4,1245.4 2123.4,632.7 2116.5,629.9" fill="#161616" />
<polygon points="3523.2,1245.3 3526.1,1245.6 2126.1,633.8 2123.2,632.6" fill="#868686" />
<polygon points="3525.9,1245.5 3527.7,1245.7 2127.7,634.4 2125.9,633.7" fill="#d4d4d4" />
<polygon points="3527.5,1245.7 3528.8,1245.8 2128.8,634.8 2127.5,634.3" fill="#4c4c4c" />
<polygon points="3528.6,1245.7 3536.9,1246.3 2136.9,638.0 2128.6,634.8" fill="#747474" />
<polygon points="3536.7,1246.3 3538.7,1246.5 2138.7,638.7 2136.7,638.0" fill="#383838" />
<polygon points="3538.5,1246.5 3540.9,1246.6 2140.9,639.6 2138.5,638.7" fill="#848484" />
<polygon points="3540.7,1246.6 3541.8,1246.7 2141.8,640.0 2140.7,639.5" fill="#bcbcbc" />
<polygon points="3541.6,1246.7 3549.4,1247.3 2149.4,643.0 2141.6,639.9" fill="#6c6c6c" />
<polygon points="3549.2,1247.3 3551.1,1247.4 2151.1,643.7 2149.2,642.9" fill="#383838" />
<polygon points="3551.0,1247.4 3553.4,1247.6 2153.4,644.5 2151.0,643.6" fill="#848484" />
<polygon points="3553.2,1247.5 3554.3,1247.6 2154.3,644.9 2153.2,644.5" fill="#bcbcbc" />
<polygon points="3554.1,1247.6 3561.3,1248.1 2161.3,647.7 2154.1,644.8" fill="#787878" />
<polygon points="3561.2,1248.1 3568.0,1248.6 2168.0,650.3 2161.2,647.6" fill="#161616" />
<polygon points="3567.8,1248.6 3570.6,1248.8 2170.6,651.4 2167.8,650.2" fill="#868686" />
<polygon points="3570.4,1248.8 3572.2,1248.9 2172.2,652.0 2170.4,651.3" fill="#d4d4d4" />
<polygon points="3572.0,1248.9 3573.3,1249.0 2173.3,652.4 2172.0,651.9" fill="#4c4c4c" />
<polygon points="3573.1,1249.0 3581.2,1249.6 2181.2,655.5 2173.1,652.3" fill="#747474" />
<polygon points="3581.0,1249.6 3582.9,1249.7 2182.9,656.2 2181.0,655.5" fill="#383838" />
<polygon points="3582.7,1249.7 3585.1,1249.9 2185.1,657.1 2182.7,656.2" fill="#848484" />
<polygon points="3584.9,1249.9 3586.0,1250.0 2186.0,657.4 2184.9,657.0" fill="#bcbcbc" />
<polygon points="3585.8,1249.9 3593.4,1250.5 2193.4,660.4 2185.8,657.4" fill="#6c6c6c" />
<polygon points="3593.2,1250.5 3595.1,1250.6 2195.1,661.1 2193.2,660.3" fill="#383838" />
<polygon points="3595.0,1250.6 3597.3,1250.8 2197.3,661.9 2195.0,661.0" fill="#848484" />
<polygon points="3597.1,1250.8 3598.2,1250.8 2198.2,662.3 2197.1,661.8" fill="#bcbcbc" />
<polygon points="3598.0,1250.8 3605.1,1251.4 2205.1,665.0 2198.0,662.2" fill="#787878" />
<polygon points="3604.9,1251.3 3611.6,1251.8 2211.6,667.6 2204.9,664.9" fill="#161616" />
<polygon points="3611.4,1251.8 3614.2,1252.0 2214.2,668.6 2211.4,667.5" fill="#868686" />
<polygon points="3614.0,1252.0 3615.7,1252.1 2215.7,669.2 2214.0,668.5" fill="#d4d4d4" />
<polygon points="3615.5,1252.1 3616.8,1252.2 2216.8,669.6 2215.5,669.1" fill="#4c4c4c" />
<polygon points="3616.6,1252.2 3624.5,1252.8 2224.5,672.7 2216.6,669.5" fill="#747474" />
<polygon points="3624.3,1252.8 3626.2,1252.9 2226.2,673.3 2224.3,672.6" fill="#383838" />
<polygon points="3626.0,1252.9 3628.4,1253.1 2228.4,674.2 2226.0,673.3" fill="#848484" />
<polygon points="3628.2,1253.0 3629.2,1253.1 2229.2,674.5 2228.2,674.1" fill="#bcbcbc" />
<polygon points="3629.0,1253.1 3636.5,1253.7 2236.5,677.4 2229.0,674.5" fill="#6c6c6c" />
<polygon points="3636.3,1253.6 3638.2,1253.8 2238.2,678.1 2236.3,677.3" fill="#383838" />
<polygon points="3638.0,1253.8 3640.3,1253.9 2240.3,678.9 2238.0,678.0" fill="#848484" />
<polygon points="3640.1,1253.9 3641.2,1254.0 2241.2,679.3 2240.1,678.9" fill="#bcbcbc" />
<polygon points="3641.0,1254.0 3648.0,1254.5 2248.0,681.9 2241.0,679.2" fill="#787878" />
</g>
<polygon points="960.0,1080.0 1381.0,826.0 1397.0,829.0 988.0,1074.0" fill="#6c6c6c" />
<line x1="960.0" y1="1080.0" x2="1381.0" y2="826.0" stroke="#c8c8c8" stroke-width="3.00" />
<line x1="988.0" y1="1075.0" x2="1397.0" y2="830.0" stroke="#262626" stroke-width="3.00" />
<polyline points="2660,958 2800,1003 3573,1249" fill="none" stroke="#3a3a3a" stroke-width="5"/>
<polygon points="1376.0,790.0 2732.0,938.0 2725.0,944.0 2660.0,962.0 2479.0,938.0 1900.0,886.0 1420.0,840.0 1376.0,835.0" fill="#1e1e1e" />
<g clip-path="url(#cGap)">
<polygon points="1400.0,791.6 1431.5,793.6 1401.5,841.6 1370.0,839.6" fill="#303030" />
<polygon points="1470.0,799.3 1501.1,801.3 1471.1,849.3 1440.0,847.3" fill="#303030" />
<polygon points="1539.0,806.8 1569.7,808.8 1539.7,856.8 1509.0,854.8" fill="#303030" />
<polygon points="1607.1,814.2 1637.3,816.2 1607.3,864.2 1577.1,862.2" fill="#303030" />
<polygon points="1674.2,821.6 1704.0,823.6 1674.0,871.6 1644.2,869.6" fill="#303030" />
<polygon points="1740.4,828.8 1769.8,830.8 1739.8,878.8 1710.4,876.8" fill="#303030" />
<polygon points="1805.7,835.9 1834.7,837.9 1804.7,885.9 1775.7,883.9" fill="#303030" />
<polygon points="1870.1,842.9 1898.7,844.9 1868.7,892.9 1840.1,890.9" fill="#303030" />
<polygon points="1933.6,849.9 1961.8,851.9 1931.8,899.9 1903.6,897.9" fill="#303030" />
<polygon points="1996.2,856.7 2024.0,858.7 1994.0,906.7 1966.2,904.7" fill="#303030" />
<polygon points="2058.0,863.4 2085.4,865.4 2055.4,913.4 2028.0,911.4" fill="#303030" />
<polygon points="2118.8,870.1 2145.9,872.1 2115.9,920.1 2088.8,918.1" fill="#303030" />
<polygon points="2178.9,876.6 2205.5,878.6 2175.5,926.6 2148.9,924.6" fill="#303030" />
<polygon points="2238.1,883.1 2264.4,885.1 2234.4,933.1 2208.1,931.1" fill="#303030" />
<polygon points="2296.5,889.5 2322.4,891.5 2292.4,939.5 2266.5,937.5" fill="#303030" />
<polygon points="2354.1,895.8 2379.6,897.8 2349.6,945.8 2324.1,943.8" fill="#303030" />
<polygon points="2410.9,902.0 2436.1,904.0 2406.1,952.0 2380.9,950.0" fill="#303030" />
<polygon points="2466.9,908.1 2491.7,910.1 2461.7,958.1 2436.9,956.1" fill="#303030" />
<polygon points="2522.1,914.1 2546.6,916.1 2516.6,964.1 2492.1,962.1" fill="#303030" />
<polygon points="2576.6,920.0 2600.7,922.0 2570.7,970.0 2546.6,968.0" fill="#303030" />
<polygon points="2630.3,925.9 2654.1,927.9 2624.1,975.9 2600.3,973.9" fill="#303030" />
<polygon points="2683.2,931.7 2706.8,933.7 2676.8,981.7 2653.2,979.7" fill="#303030" />
</g>
<line x1="1420.0" y1="838.0" x2="1900.0" y2="884.0" stroke="#5a5a5a" stroke-width="4.00" />
<line x1="1900.0" y1="884.0" x2="2479.0" y2="936.0" stroke="#7a7a7a" stroke-width="4.00" />
<line x1="2479.0" y1="936.0" x2="2672.0" y2="958.0" stroke="#6a6a6a" stroke-width="4.00" />
<polygon points="1380.0,792.4 1400.0,794.4 1394.0,844.4 1374.0,842.4" fill="#8c8c8c" />
<polygon points="1366.0,792.4 1380.0,792.4 1374.0,842.4 1362.0,838.4" fill="#3a3a3a" />
<polygon points="2102.0,871.2 2122.0,873.2 2116.0,917.2 2096.0,915.2" fill="#8c8c8c" />
<polygon points="2088.0,871.2 2102.0,871.2 2096.0,915.2 2084.0,911.2" fill="#3a3a3a" />
<polygon points="2490.0,913.6 2510.0,915.6 2504.0,947.6 2484.0,945.6" fill="#8c8c8c" />
<polygon points="2476.0,913.6 2490.0,913.6 2484.0,945.6 2472.0,941.6" fill="#3a3a3a" />
<polygon points="2637.0,938.0 2677.0,942.0 2672.0,960.0 2640.0,956.0" fill="#5a5a5a" />
<polygon points="1118.0,866.0 1361.0,792.0 1376.0,800.0 1386.0,831.0 1300.0,852.0 1210.0,881.0 1168.0,881.0 1160.0,862.0" fill="#262626" />
<polygon points="1167.0,858.0 1215.0,846.0 1222.0,876.0 1168.0,884.0" fill="#555" />
<polygon points="1278.0,822.0 1290.0,819.0 1312.0,856.0 1300.0,860.0" fill="#808080" />
<polygon points="1105.0,846.0 1463.0,704.0 1374.0,772.0 1361.0,772.0" fill="#555555" />
<g clip-path="url(#cULF)">
<line x1="1121.0" y1="841.4" x2="1732.6" y2="604.8" stroke="#252525" stroke-width="3.00" />
<line x1="1123.0" y1="844.4" x2="1734.6" y2="607.8" stroke="#909090" stroke-width="1.50" />
<line x1="1153.0" y1="832.1" x2="1751.8" y2="599.3" stroke="#252525" stroke-width="3.00" />
<line x1="1155.0" y1="835.1" x2="1753.8" y2="602.3" stroke="#909090" stroke-width="1.50" />
<line x1="1185.0" y1="822.9" x2="1771.0" y2="593.7" stroke="#252525" stroke-width="3.00" />
<line x1="1187.0" y1="825.9" x2="1773.0" y2="596.7" stroke="#909090" stroke-width="1.50" />
<line x1="1217.0" y1="813.6" x2="1790.2" y2="588.2" stroke="#252525" stroke-width="3.00" />
<line x1="1219.0" y1="816.6" x2="1792.2" y2="591.2" stroke="#909090" stroke-width="1.50" />
<line x1="1249.0" y1="804.4" x2="1809.4" y2="582.6" stroke="#252525" stroke-width="3.00" />
<line x1="1251.0" y1="807.4" x2="1811.4" y2="585.6" stroke="#909090" stroke-width="1.50" />
<line x1="1281.0" y1="795.1" x2="1828.6" y2="577.1" stroke="#252525" stroke-width="3.00" />
<line x1="1283.0" y1="798.1" x2="1830.6" y2="580.1" stroke="#909090" stroke-width="1.50" />
<line x1="1313.0" y1="785.9" x2="1847.8" y2="571.5" stroke="#252525" stroke-width="3.00" />
<line x1="1315.0" y1="788.9" x2="1849.8" y2="574.5" stroke="#909090" stroke-width="1.50" />
<line x1="1345.0" y1="776.6" x2="1867.0" y2="566.0" stroke="#252525" stroke-width="3.00" />
<line x1="1347.0" y1="779.6" x2="1869.0" y2="569.0" stroke="#909090" stroke-width="1.50" />
</g>
<polygon points="1105.0,846.0 1361.0,772.0 1361.0,792.0 1119.0,866.0" fill="#4a4a4a" />
<line x1="1105.0" y1="846.0" x2="1361.0" y2="772.0" stroke="#8a8a8a" stroke-width="3.00" />
<line x1="1119.0" y1="866.0" x2="1361.0" y2="792.0" stroke="#2c2c2c" stroke-width="2.00" />
<polygon points="1359.0,771.0 1377.0,772.0 1378.0,793.0 1360.0,793.0" fill="#666" />
<circle cx="1368" cy="781" r="3" fill="#333"/>
<polygon points="1361.0,772.0 1374.0,772.0 1468.0,706.0 1460.0,703.0" fill="#6e6e6e" />
<polygon points="1374.0,772.0 1463.0,704.0 2420.0,820.0 2481.0,838.0 2734.0,920.0" fill="url(#gUF)" />
<g clip-path="url(#cUFF)">
<polygon points="1273.8,760.8 1282.9,761.8 909.1,497.3 901.8,496.5" fill="#141414" />
<polygon points="1282.5,761.8 1289.0,762.5 914.0,497.8 908.8,497.2" fill="#505050" />
<polygon points="1288.7,762.5 1291.6,762.8 916.1,498.0 913.7,497.8" fill="#8c8c8c" />
<polygon points="1291.3,762.8 1294.2,763.1 918.2,498.3 915.8,498.0" fill="#202020" />
<polygon points="1293.9,763.0 1310.7,764.9 931.4,499.7 917.9,498.2" fill="#383838" />
<polygon points="1310.4,764.8 1313.3,765.2 933.5,499.9 931.1,499.7" fill="#303030" />
<polygon points="1313.0,765.1 1317.7,765.6 936.9,500.3 933.2,499.9" fill="#3f3f3f" />
<polygon points="1317.3,765.6 1319.4,765.8 938.3,500.5 936.7,500.3" fill="#474747" />
<polygon points="1319.0,765.8 1334.9,767.5 950.7,501.8 938.0,500.4" fill="#353535" />
<polygon points="1334.6,767.5 1337.5,767.8 952.8,502.0 950.4,501.8" fill="#303030" />
<polygon points="1337.1,767.8 1341.8,768.3 956.2,502.4 952.5,502.0" fill="#3f3f3f" />
<polygon points="1341.4,768.2 1343.5,768.5 957.6,502.6 955.9,502.4" fill="#474747" />
<polygon points="1343.1,768.4 1360.6,770.3 971.3,504.1 957.3,502.5" fill="#3a3a3a" />
<polygon points="1360.3,770.3 1369.1,771.2 978.1,504.8 971.0,504.0" fill="#141414" />
<polygon points="1368.8,771.2 1375.1,771.9 982.9,505.3 977.8,504.8" fill="#505050" />
<polygon points="1374.7,771.9 1377.6,772.2 984.9,505.5 982.6,505.3" fill="#8c8c8c" />
<polygon points="1377.3,772.1 1380.2,772.5 986.9,505.8 984.6,505.5" fill="#202020" />
<polygon points="1379.8,772.4 1396.2,774.2 999.8,507.2 986.7,505.7" fill="#383838" />
<polygon points="1395.9,774.2 1398.8,774.5 1001.8,507.4 999.5,507.1" fill="#303030" />
<polygon points="1398.4,774.4 1403.0,774.9 1005.2,507.8 1001.5,507.4" fill="#3f3f3f" />
<polygon points="1402.6,774.9 1404.6,775.1 1006.5,507.9 1004.9,507.7" fill="#474747" />
<polygon points="1404.3,775.1 1419.8,776.8 1018.6,509.2 1006.2,507.9" fill="#353535" />
<polygon points="1419.4,776.7 1422.3,777.0 1020.6,509.4 1018.3,509.2" fill="#303030" />
<polygon points="1421.9,777.0 1426.4,777.5 1024.0,509.8 1020.3,509.4" fill="#3f3f3f" />
<polygon points="1426.1,777.5 1428.1,777.7 1025.3,510.0 1023.7,509.8" fill="#474747" />
<polygon points="1427.8,777.7 1444.8,779.5 1038.6,511.4 1025.0,509.9" fill="#3a3a3a" />
<polygon points="1444.4,779.5 1453.1,780.4 1045.3,512.1 1038.3,511.4" fill="#141414" />
<polygon points="1452.7,780.4 1458.9,781.0 1049.9,512.6 1045.0,512.1" fill="#505050" />
<polygon points="1458.5,781.0 1461.3,781.3 1051.9,512.9 1049.6,512.6" fill="#8c8c8c" />
<polygon points="1461.0,781.3 1463.8,781.6 1053.9,513.1 1051.6,512.8" fill="#202020" />
<polygon points="1463.5,781.5 1479.5,783.3 1066.4,514.4 1053.6,513.0" fill="#383838" />
<polygon points="1479.1,783.3 1481.9,783.6 1068.3,514.6 1066.1,514.4" fill="#303030" />
<polygon points="1481.6,783.5 1486.0,784.0 1071.6,515.0 1068.1,514.6" fill="#3f3f3f" />
<polygon points="1485.7,784.0 1487.7,784.2 1072.9,515.1 1071.4,515.0" fill="#474747" />
<polygon points="1487.3,784.2 1502.4,785.8 1084.7,516.4 1072.7,515.1" fill="#353535" />
<polygon points="1502.0,785.8 1504.8,786.1 1086.7,516.6 1084.4,516.4" fill="#303030" />
<polygon points="1504.5,786.0 1508.9,786.5 1089.9,517.0 1086.4,516.6" fill="#3f3f3f" />
<polygon points="1508.6,786.5 1510.5,786.7 1091.2,517.1 1089.7,517.0" fill="#474747" />
<polygon points="1510.2,786.6 1526.7,788.5 1104.2,518.6 1091.0,517.1" fill="#3a3a3a" />
<polygon points="1526.4,788.4 1534.9,789.3 1110.7,519.3 1103.9,518.5" fill="#141414" />
<polygon points="1534.5,789.3 1540.5,790.0 1115.2,519.8 1110.4,519.2" fill="#515151" />
<polygon points="1540.2,789.9 1542.9,790.2 1117.1,520.0 1114.9,519.7" fill="#8d8d8d" />
<polygon points="1542.6,790.2 1545.3,790.5 1119.1,520.2 1116.9,519.9" fill="#202020" />
<polygon points="1545.0,790.4 1560.6,792.1 1131.3,521.5 1118.8,520.2" fill="#393939" />
<polygon points="1560.2,792.1 1563.0,792.4 1133.2,521.7 1131.0,521.5" fill="#313131" />
<polygon points="1562.7,792.4 1567.0,792.8 1136.4,522.1 1132.9,521.7" fill="#3f3f3f" />
<polygon points="1566.6,792.8 1568.6,793.0 1137.7,522.2 1136.1,522.0" fill="#484848" />
<polygon points="1568.2,793.0 1582.9,794.6 1149.1,523.5 1137.4,522.2" fill="#363636" />
<polygon points="1582.6,794.5 1585.3,794.8 1151.0,523.7 1148.9,523.4" fill="#313131" />
<polygon points="1585.0,794.8 1589.2,795.3 1154.2,524.0 1150.8,523.6" fill="#3f3f3f" />
<polygon points="1588.9,795.2 1590.8,795.4 1155.5,524.2 1153.9,524.0" fill="#484848" />
<polygon points="1590.5,795.4 1606.6,797.2 1168.1,525.5 1155.2,524.1" fill="#3b3b3b" />
<polygon points="1606.3,797.1 1614.6,798.0 1174.5,526.2 1167.8,525.5" fill="#141414" />
<polygon points="1614.3,798.0 1620.1,798.6 1178.9,526.7 1174.3,526.2" fill="#525252" />
<polygon points="1619.8,798.6 1622.5,798.9 1180.8,526.9 1178.6,526.7" fill="#8f8f8f" />
<polygon points="1622.2,798.9 1624.8,799.2 1182.6,527.1 1180.5,526.9" fill="#222222" />
<polygon points="1624.5,799.1 1639.6,800.8 1194.5,528.4 1182.4,527.1" fill="#3a3a3a" />
<polygon points="1639.3,800.7 1642.0,801.0 1196.4,528.6 1194.3,528.4" fill="#323232" />
<polygon points="1641.7,801.0 1645.9,801.5 1199.5,529.0 1196.2,528.6" fill="#414141" />
<polygon points="1645.6,801.4 1647.5,801.6 1200.8,529.1 1199.3,528.9" fill="#4b4b4b" />
<polygon points="1647.1,801.6 1661.4,803.1 1211.9,530.3 1200.5,529.1" fill="#373737" />
<polygon points="1661.1,803.1 1663.7,803.4 1213.8,530.5 1211.7,530.3" fill="#323232" />
<polygon points="1663.4,803.4 1667.6,803.8 1216.9,530.9 1213.5,530.5" fill="#414141" />
<polygon points="1667.3,803.8 1669.2,804.0 1218.1,531.0 1216.6,530.8" fill="#4b4b4b" />
<polygon points="1668.8,804.0 1684.4,805.7 1230.3,532.3 1217.9,531.0" fill="#3d3d3d" />
<polygon points="1684.1,805.6 1692.4,806.5 1236.8,533.0 1230.1,532.3" fill="#141414" />
<polygon points="1692.1,806.5 1697.7,807.1 1241.0,533.5 1236.5,533.0" fill="#555555" />
<polygon points="1697.4,807.1 1700.1,807.4 1242.8,533.7 1240.7,533.5" fill="#929292" />
<polygon points="1699.8,807.3 1702.3,807.6 1244.7,533.9 1242.6,533.7" fill="#242424" />
<polygon points="1702.0,807.6 1716.7,809.2 1256.2,535.2 1244.4,533.9" fill="#3d3d3d" />
<polygon points="1716.4,809.2 1719.1,809.4 1258.1,535.4 1255.9,535.1" fill="#333333" />
<polygon points="1718.8,809.4 1722.9,809.9 1261.1,535.7 1257.8,535.3" fill="#444444" />
<polygon points="1722.6,809.8 1724.4,810.0 1262.3,535.8 1260.9,535.7" fill="#4f4f4f" />
<polygon points="1724.1,810.0 1737.9,811.5 1273.2,537.0 1262.1,535.8" fill="#3a3a3a" />
<polygon points="1737.6,811.5 1740.3,811.8 1275.0,537.2 1272.9,537.0" fill="#333333" />
<polygon points="1740.0,811.7 1744.0,812.2 1278.0,537.5 1274.8,537.2" fill="#444444" />
<polygon points="1743.7,812.1 1745.5,812.3 1279.2,537.7 1277.8,537.5" fill="#4f4f4f" />
<polygon points="1745.2,812.3 1760.3,813.9 1291.0,539.0 1279.0,537.6" fill="#3f3f3f" />
<polygon points="1760.0,813.9 1768.3,814.8 1297.5,539.7 1290.8,538.9" fill="#141414" />
<polygon points="1768.0,814.8 1773.4,815.4 1301.6,540.1 1297.2,539.6" fill="#585858" />
<polygon points="1773.1,815.3 1775.7,815.6 1303.4,540.3 1301.3,540.1" fill="#969696" />
<polygon points="1775.4,815.6 1777.9,815.9 1305.1,540.5 1303.2,540.3" fill="#262626" />
<polygon points="1777.6,815.8 1791.9,817.4 1316.3,541.7 1304.9,540.5" fill="#414141" />
<polygon points="1791.6,817.4 1794.3,817.7 1318.2,541.9 1316.1,541.7" fill="#353535" />
<polygon points="1794.0,817.6 1798.0,818.1 1321.2,542.2 1318.0,541.9" fill="#474747" />
<polygon points="1797.7,818.0 1799.4,818.2 1322.4,542.4 1320.9,542.2" fill="#535353" />
<polygon points="1799.1,818.2 1812.6,819.7 1332.9,543.5 1322.1,542.3" fill="#3d3d3d" />
<polygon points="1812.3,819.6 1814.9,819.9 1334.7,543.7 1332.7,543.5" fill="#353535" />
<polygon points="1814.6,819.9 1818.6,820.3 1337.7,544.0 1334.5,543.7" fill="#474747" />
<polygon points="1818.3,820.3 1820.1,820.5 1338.9,544.2 1337.4,544.0" fill="#535353" />
<polygon points="1819.8,820.4 1834.3,822.0 1350.2,545.4 1338.6,544.1" fill="#434343" />
<polygon points="1834.0,822.0 1842.4,822.9 1356.7,546.1 1350.0,545.4" fill="#141414" />
<polygon points="1842.1,822.9 1847.3,823.4 1360.6,546.6 1356.5,546.1" fill="#5b5b5b" />
<polygon points="1847.0,823.4 1849.6,823.7 1362.4,546.7 1360.4,546.5" fill="#9b9b9b" />
<polygon points="1849.3,823.7 1851.7,823.9 1364.1,546.9 1362.2,546.7" fill="#292929" />
<polygon points="1851.4,823.9 1865.3,825.4 1375.0,548.1 1363.9,546.9" fill="#454545" />
<polygon points="1865.0,825.4 1867.6,825.7 1376.9,548.3 1374.8,548.1" fill="#373737" />
<polygon points="1867.3,825.6 1871.2,826.0 1379.8,548.6 1376.7,548.3" fill="#4b4b4b" />
<polygon points="1870.9,826.0 1872.7,826.2 1380.9,548.8 1379.5,548.6" fill="#595959" />
<polygon points="1872.4,826.2 1885.5,827.6 1391.2,549.9 1380.7,548.7" fill="#414141" />
<polygon points="1885.2,827.6 1887.8,827.9 1393.0,550.1 1390.9,549.9" fill="#373737" />
<polygon points="1887.5,827.8 1891.3,828.2 1395.9,550.4 1392.8,550.1" fill="#4b4b4b" />
<polygon points="1891.1,828.2 1892.8,828.4 1397.0,550.5 1395.7,550.4" fill="#595959" />
<polygon points="1892.5,828.4 1906.5,829.9 1408.0,551.7 1396.8,550.5" fill="#474747" />
<polygon points="1906.2,829.9 1914.6,830.8 1414.5,552.4 1407.8,551.7" fill="#151515" />
<polygon points="1914.3,830.8 1919.4,831.3 1418.3,552.8 1414.2,552.4" fill="#5f5f5f" />
<polygon points="1919.1,831.3 1921.6,831.5 1420.1,553.0 1418.1,552.8" fill="#a0a0a0" />
<polygon points="1921.3,831.5 1923.6,831.8 1421.7,553.2 1419.9,553.0" fill="#2c2c2c" />
<polygon points="1923.3,831.7 1936.9,833.2 1432.3,554.4 1421.5,553.2" fill="#494949" />
<polygon points="1936.6,833.2 1939.2,833.5 1434.1,554.6 1432.1,554.3" fill="#3a3a3a" />
<polygon points="1938.9,833.4 1942.7,833.9 1437.0,554.9 1433.9,554.5" fill="#505050" />
<polygon points="1942.4,833.8 1944.1,834.0 1438.1,555.0 1436.7,554.9" fill="#5f5f5f" />
<polygon points="1943.8,834.0 1956.5,835.4 1448.0,556.1 1437.9,555.0" fill="#444444" />
<polygon points="1956.3,835.3 1958.8,835.6 1449.9,556.3 1447.8,556.1" fill="#3a3a3a" />
<polygon points="1958.6,835.6 1962.3,836.0 1452.7,556.6 1449.7,556.3" fill="#505050" />
<polygon points="1962.1,836.0 1963.7,836.1 1453.8,556.7 1452.5,556.6" fill="#5f5f5f" />
<polygon points="1963.5,836.1 1976.9,837.6 1464.3,557.9 1453.6,556.7" fill="#4b4b4b" />
<polygon points="1976.6,837.6 1985.1,838.5 1470.9,558.6 1464.1,557.8" fill="#151515" />
<polygon points="1984.8,838.4 1989.7,839.0 1474.6,559.0 1470.7,558.6" fill="#636363" />
<polygon points="1989.4,839.0 1991.9,839.2 1476.3,559.2 1474.3,559.0" fill="#a6a6a6" />
<polygon points="1991.6,839.2 1993.9,839.4 1477.9,559.3 1476.1,559.2" fill="#303030" />
<polygon points="1993.6,839.4 2006.7,840.8 1488.2,560.5 1477.7,559.3" fill="#4d4d4d" />
<polygon points="2006.4,840.8 2009.0,841.1 1490.0,560.7 1488.0,560.4" fill="#3c3c3c" />
<polygon points="2008.8,841.1 2012.5,841.5 1492.8,561.0 1489.8,560.6" fill="#545454" />
<polygon points="2012.2,841.4 2013.8,841.6 1493.9,561.1 1492.6,560.9" fill="#656565" />
<polygon points="2013.6,841.6 2025.9,842.9 1503.5,562.1 1493.7,561.1" fill="#494949" />
<polygon points="2025.7,842.9 2028.2,843.2 1505.4,562.3 1503.3,562.1" fill="#3c3c3c" />
<polygon points="2028.0,843.2 2031.6,843.6 1508.1,562.6 1505.2,562.3" fill="#545454" />
<polygon points="2031.4,843.5 2033.0,843.7 1509.2,562.8 1507.9,562.6" fill="#656565" />
<polygon points="2032.7,843.7 2045.7,845.1 1519.3,563.9 1509.0,562.7" fill="#505050" />
<polygon points="2045.4,845.1 2053.9,846.0 1525.9,564.6 1519.1,563.8" fill="#151515" />
<polygon points="2053.6,846.0 2058.3,846.5 1529.5,565.0 1525.7,564.6" fill="#676767" />
<polygon points="2058.1,846.4 2060.5,846.7 1531.2,565.2 1529.3,565.0" fill="#ababab" />
<polygon points="2060.3,846.7 2062.4,846.9 1532.7,565.3 1531.0,565.1" fill="#333333" />
<polygon points="2062.1,846.9 2074.9,848.3 1542.7,566.4 1532.5,565.3" fill="#525252" />
<polygon points="2074.6,848.3 2077.2,848.5 1544.6,566.6 1542.5,566.4" fill="#3f3f3f" />
<polygon points="2076.9,848.5 2080.6,848.9 1547.3,566.9 1544.4,566.6" fill="#595959" />
<polygon points="2080.3,848.9 2081.9,849.0 1548.3,567.0 1547.0,566.9" fill="#6b6b6b" />
<polygon points="2081.6,849.0 2093.7,850.3 1557.7,568.1 1548.1,567.0" fill="#4d4d4d" />
<polygon points="2093.4,850.3 2096.0,850.6 1559.6,568.3 1557.5,568.0" fill="#3f3f3f" />
<polygon points="2095.7,850.6 2099.3,850.9 1562.2,568.6 1559.4,568.2" fill="#595959" />
<polygon points="2099.0,850.9 2100.6,851.1 1563.3,568.7 1562.0,568.5" fill="#6b6b6b" />
<polygon points="2100.4,851.1 2112.8,852.4 1573.0,569.7 1563.1,568.6" fill="#555555" />
<polygon points="2112.5,852.4 2121.1,853.3 1579.7,570.5 1572.8,569.7" fill="#151515" />
<polygon points="2120.8,853.3 2125.4,853.8 1583.1,570.8 1579.5,570.4" fill="#6b6b6b" />
<polygon points="2125.1,853.8 2127.5,854.0 1584.8,571.0 1582.9,570.8" fill="#b1b1b1" />
<polygon points="2127.3,854.0 2129.3,854.2 1586.3,571.2 1584.6,571.0" fill="#363636" />
<polygon points="2129.1,854.2 2141.5,855.5 1596.0,572.2 1586.1,571.2" fill="#575757" />
<polygon points="2141.2,855.5 2143.8,855.8 1597.8,572.4 1595.8,572.2" fill="#414141" />
<polygon points="2143.5,855.8 2147.1,856.2 1600.5,572.7 1597.6,572.4" fill="#5d5d5d" />
<polygon points="2146.8,856.1 2148.4,856.3 1601.5,572.8 1600.3,572.7" fill="#717171" />
<polygon points="2148.1,856.3 2159.8,857.5 1610.7,573.8 1601.3,572.8" fill="#515151" />
<polygon points="2159.6,857.5 2162.1,857.8 1612.5,574.0 1610.4,573.8" fill="#414141" />
<polygon points="2161.8,857.8 2165.4,858.2 1615.1,574.3 1612.3,574.0" fill="#5d5d5d" />
<polygon points="2165.1,858.1 2166.7,858.3 1616.1,574.4 1614.9,574.3" fill="#717171" />
<polygon points="2166.4,858.3 2178.3,859.6 1625.5,575.5 1615.9,574.4" fill="#5a5a5a" />
<polygon points="2178.1,859.5 2186.7,860.5 1632.1,576.2 1625.3,575.4" fill="#151515" />
<polygon points="2186.4,860.5 2190.8,860.9 1635.5,576.5 1631.9,576.2" fill="#6f6f6f" />
<polygon points="2190.6,860.9 2192.9,861.2 1637.2,576.7 1635.3,576.5" fill="#b6b6b6" />
<polygon points="2192.7,861.1 2194.7,861.4 1638.6,576.9 1636.9,576.7" fill="#3a3a3a" />
<polygon points="2194.4,861.3 2206.5,862.6 1648.0,577.9 1638.3,576.9" fill="#5b5b5b" />
<polygon points="2206.3,862.6 2208.8,862.9 1649.9,578.1 1647.8,577.9" fill="#434343" />
<polygon points="2208.6,862.9 2212.0,863.2 1652.4,578.4 1649.7,578.1" fill="#626262" />
<polygon points="2211.8,863.2 2213.3,863.4 1653.4,578.5 1652.2,578.4" fill="#777777" />
<polygon points="2213.0,863.4 2224.4,864.6 1662.3,579.5 1653.2,578.5" fill="#555555" />
<polygon points="2224.2,864.6 2226.7,864.8 1664.2,579.7 1662.1,579.5" fill="#434343" />
<polygon points="2226.5,864.8 2229.9,865.2 1666.7,580.0 1664.0,579.7" fill="#626262" />
<polygon points="2229.6,865.2 2231.2,865.3 1667.7,580.1 1666.5,579.9" fill="#777777" />
<polygon points="2230.9,865.3 2242.4,866.6 1676.7,581.0 1667.5,580.0" fill="#5e5e5e" />
<polygon points="2242.1,866.5 2250.8,867.5 1683.4,581.8 1676.5,581.0" fill="#151515" />
<polygon points="2250.5,867.4 2254.8,867.9 1686.6,582.1 1683.2,581.8" fill="#737373" />
<polygon points="2254.5,867.9 2256.8,868.1 1688.3,582.3 1686.4,582.1" fill="#bbbbbb" />
<polygon points="2256.6,868.1 2258.5,868.3 1689.6,582.5 1688.1,582.3" fill="#3d3d3d" />
<polygon points="2258.3,868.3 2270.1,869.6 1698.8,583.5 1689.4,582.4" fill="#5f5f5f" />
<polygon points="2269.8,869.6 2272.3,869.8 1700.7,583.7 1698.6,583.4" fill="#464646" />
<polygon points="2272.1,869.8 2275.5,870.2 1703.2,583.9 1700.5,583.6" fill="#666666" />
<polygon points="2275.2,870.1 2276.7,870.3 1704.2,584.0 1703.0,583.9" fill="#7d7d7d" />
<polygon points="2276.5,870.3 2287.5,871.5 1712.8,585.0 1704.0,584.0" fill="#595959" />
<polygon points="2287.3,871.5 2289.8,871.7 1714.7,585.2 1712.6,585.0" fill="#464646" />
<polygon points="2289.6,871.7 2292.9,872.1 1717.1,585.5 1714.5,585.2" fill="#666666" />
<polygon points="2292.7,872.1 2294.2,872.2 1718.1,585.6 1716.9,585.4" fill="#7d7d7d" />
<polygon points="2293.9,872.2 2304.9,873.4 1726.8,586.5 1717.9,585.5" fill="#636363" />
<polygon points="2304.7,873.4 2313.3,874.3 1733.5,587.2 1726.6,586.5" fill="#151515" />
<polygon points="2313.1,874.3 2317.2,874.7 1736.6,587.6 1733.3,587.2" fill="#777777" />
<polygon points="2317.0,874.7 2319.3,875.0 1738.2,587.8 1736.4,587.6" fill="#c0c0c0" />
<polygon points="2319.0,874.9 2320.9,875.1 1739.5,587.9 1738.0,587.7" fill="#404040" />
<polygon points="2320.7,875.1 2332.1,876.4 1748.5,588.9 1739.3,587.9" fill="#636363" />
<polygon points="2331.9,876.3 2334.4,876.6 1750.3,589.1 1748.3,588.9" fill="#484848" />
<polygon points="2334.2,876.6 2337.5,876.9 1752.8,589.4 1750.1,589.1" fill="#6a6a6a" />
<polygon points="2337.2,876.9 2338.7,877.1 1753.7,589.5 1752.6,589.3" fill="#838383" />
<polygon points="2338.4,877.0 2349.2,878.2 1762.2,590.4 1753.6,589.4" fill="#5d5d5d" />
<polygon points="2349.0,878.2 2351.5,878.5 1764.0,590.6 1762.0,590.4" fill="#484848" />
<polygon points="2351.2,878.4 2354.5,878.8 1766.4,590.8 1763.8,590.6" fill="#6a6a6a" />
<polygon points="2354.3,878.8 2355.7,878.9 1767.4,590.9 1766.2,590.8" fill="#838383" />
<polygon points="2355.5,878.9 2366.1,880.1 1775.7,591.9 1767.2,590.9" fill="#676767" />
<polygon points="2365.9,880.0 2374.5,881.0 1782.4,592.6 1775.5,591.8" fill="#161616" />
<polygon points="2374.3,881.0 2378.3,881.4 1785.4,592.9 1782.2,592.6" fill="#7a7a7a" />
<polygon points="2378.0,881.4 2380.3,881.6 1787.0,593.1 1785.2,592.9" fill="#c4c4c4" />
<polygon points="2380.1,881.6 2381.9,881.8 1788.3,593.2 1786.8,593.1" fill="#424242" />
<polygon points="2381.6,881.8 2392.8,883.0 1797.0,594.2 1788.1,593.2" fill="#676767" />
<polygon points="2392.6,883.0 2395.1,883.2 1798.8,594.4 1796.8,594.2" fill="#4a4a4a" />
<polygon points="2394.8,883.2 2398.0,883.6 1801.2,594.6 1798.7,594.4" fill="#6e6e6e" />
<polygon points="2397.8,883.5 2399.2,883.7 1802.2,594.7 1801.0,594.6" fill="#888888" />
<polygon points="2399.0,883.7 2409.5,884.8 1810.4,595.6 1802.0,594.7" fill="#606060" />
<polygon points="2409.3,884.8 2411.8,885.0 1812.2,595.8 1810.2,595.6" fill="#4a4a4a" />
<polygon points="2411.5,885.0 2414.7,885.4 1814.6,596.1 1812.0,595.8" fill="#6e6e6e" />
<polygon points="2414.5,885.3 2415.9,885.5 1815.5,596.2 1814.4,596.1" fill="#888888" />
<polygon points="2415.7,885.5 2425.9,886.6 1823.5,597.1 1815.3,596.2" fill="#6a6a6a" />
<polygon points="2425.7,886.6 2434.3,887.5 1830.2,597.8 1823.3,597.1" fill="#161616" />
<polygon points="2434.0,887.5 2437.9,887.9 1833.1,598.1 1830.0,597.8" fill="#7d7d7d" />
<polygon points="2437.7,887.9 2439.9,888.1 1834.7,598.3 1832.9,598.1" fill="#c8c8c8" />
<polygon points="2439.7,888.1 2441.4,888.3 1836.0,598.4 1834.5,598.3" fill="#454545" />
<polygon points="2441.2,888.3 2452.1,889.5 1844.5,599.4 1835.8,598.4" fill="#6a6a6a" />
<polygon points="2451.9,889.4 2454.3,889.7 1846.3,599.6 1844.3,599.3" fill="#4c4c4c" />
<polygon points="2454.1,889.7 2457.3,890.0 1848.6,599.8 1846.1,599.5" fill="#717171" />
<polygon points="2457.0,890.0 2458.4,890.1 1849.5,599.9 1848.4,599.8" fill="#8c8c8c" />
<polygon points="2458.2,890.1 2468.4,891.2 1857.6,600.8 1849.4,599.9" fill="#636363" />
<polygon points="2468.2,891.2 2470.7,891.5 1859.3,601.0 1857.4,600.8" fill="#4c4c4c" />
<polygon points="2470.4,891.5 2473.6,891.8 1861.7,601.2 1859.2,601.0" fill="#717171" />
<polygon points="2473.3,891.8 2474.7,891.9 1862.6,601.3 1861.5,601.2" fill="#8c8c8c" />
<polygon points="2474.5,891.9 2484.4,893.0 1870.3,602.2 1862.4,601.3" fill="#6e6e6e" />
<polygon points="2484.2,892.9 2492.7,893.9 1877.0,602.9 1870.1,602.2" fill="#161616" />
<polygon points="2492.5,893.9 2496.2,894.3 1879.8,603.2 1876.8,602.9" fill="#808080" />
<polygon points="2496.0,894.2 2498.2,894.5 1881.4,603.4 1879.6,603.2" fill="#cccccc" />
<polygon points="2498.0,894.5 2499.7,894.6 1882.6,603.5 1881.2,603.4" fill="#474747" />
<polygon points="2499.5,894.6 2510.1,895.8 1890.9,604.4 1882.4,603.5" fill="#6d6d6d" />
<polygon points="2509.9,895.8 2512.3,896.0 1892.6,604.6 1890.7,604.4" fill="#4d4d4d" />
<polygon points="2512.1,896.0 2515.2,896.3 1894.9,604.9 1892.5,604.6" fill="#747474" />
<polygon points="2514.9,896.3 2516.3,896.5 1895.8,605.0 1894.8,604.8" fill="#909090" />
<polygon points="2516.1,896.4 2526.1,897.5 1903.7,605.8 1895.7,604.9" fill="#666666" />
<polygon points="2525.8,897.5 2528.3,897.8 1905.4,606.0 1903.5,605.8" fill="#4d4d4d" />
<polygon points="2528.1,897.7 2531.1,898.1 1907.7,606.3 1905.2,606.0" fill="#747474" />
<polygon points="2530.9,898.1 2532.3,898.2 1908.6,606.4 1907.5,606.2" fill="#909090" />
<polygon points="2532.0,898.2 2541.6,899.2 1916.1,607.2 1908.4,606.3" fill="#717171" />
<polygon points="2541.4,899.2 2549.9,900.1 1922.7,607.9 1915.9,607.2" fill="#161616" />
<polygon points="2549.6,900.1 2553.3,900.5 1925.4,608.2 1922.5,607.9" fill="#828282" />
<polygon points="2553.1,900.5 2555.2,900.7 1927.0,608.4 1925.2,608.2" fill="#cfcfcf" />
<polygon points="2555.0,900.7 2556.7,900.9 1928.1,608.5 1926.8,608.3" fill="#494949" />
<polygon points="2556.4,900.8 2566.8,902.0 1936.2,609.4 1927.9,608.5" fill="#6f6f6f" />
<polygon points="2566.6,901.9 2569.0,902.2 1938.0,609.6 1936.1,609.4" fill="#4f4f4f" />
<polygon points="2568.8,902.2 2571.8,902.5 1940.2,609.8 1937.8,609.5" fill="#767676" />
<polygon points="2571.6,902.5 2572.9,902.6 1941.1,609.9 1940.1,609.8" fill="#949494" />
<polygon points="2572.7,902.6 2582.4,903.7 1948.8,610.7 1941.0,609.9" fill="#686868" />
<polygon points="2582.2,903.7 2584.6,903.9 1950.5,610.9 1948.6,610.7" fill="#4f4f4f" />
<polygon points="2584.4,903.9 2587.4,904.2 1952.7,611.2 1950.3,610.9" fill="#767676" />
<polygon points="2587.2,904.2 2588.5,904.3 1953.6,611.3 1952.5,611.2" fill="#949494" />
<polygon points="2588.3,904.3 2597.6,905.3 1960.8,612.1 1953.4,611.3" fill="#737373" />
<polygon points="2597.3,905.3 2605.7,906.2 1967.4,612.8 1960.7,612.0" fill="#161616" />
<polygon points="2605.5,906.2 2609.1,906.6 1970.1,613.1 1967.2,612.8" fill="#848484" />
<polygon points="2608.8,906.6 2611.0,906.8 1971.6,613.2 1969.9,613.0" fill="#d1d1d1" />
<polygon points="2610.8,906.8 2612.4,906.9 1972.7,613.4 1971.4,613.2" fill="#4a4a4a" />
<polygon points="2612.1,906.9 2622.3,908.0 1980.6,614.2 1972.5,613.3" fill="#717171" />
<polygon points="2622.1,908.0 2624.4,908.3 1982.4,614.4 1980.4,614.2" fill="#505050" />
<polygon points="2624.2,908.2 2627.2,908.6 1984.6,614.6 1982.2,614.4" fill="#787878" />
<polygon points="2627.0,908.5 2628.3,908.7 1985.4,614.7 1984.4,614.6" fill="#969696" />
<polygon points="2628.1,908.7 2637.6,909.7 1992.9,615.6 1985.3,614.7" fill="#6a6a6a" />
<polygon points="2637.4,909.7 2639.7,909.9 1994.6,615.7 1992.7,615.5" fill="#505050" />
<polygon points="2639.5,909.9 2642.5,910.2 1996.8,616.0 1994.4,615.7" fill="#787878" />
<polygon points="2642.2,910.2 2643.6,910.3 1997.6,616.1 1996.6,616.0" fill="#969696" />
<polygon points="2643.3,910.3 2652.3,911.3 2004.7,616.8 1997.5,616.1" fill="#757575" />
<polygon points="2652.1,911.3 2660.4,912.2 2011.1,617.5 2004.5,616.8" fill="#161616" />
<polygon points="2660.2,912.2 2663.6,912.5 2013.7,617.8 2010.9,617.5" fill="#858585" />
<polygon points="2663.4,912.5 2665.5,912.7 2015.2,618.0 2013.5,617.8" fill="#d3d3d3" />
<polygon points="2665.3,912.7 2666.9,912.9 2016.3,618.1 2015.0,618.0" fill="#4b4b4b" />
<polygon points="2666.7,912.9 2676.6,913.9 2024.1,619.0 2016.1,618.1" fill="#737373" />
<polygon points="2676.4,913.9 2678.7,914.2 2025.8,619.1 2023.9,618.9" fill="#515151" />
<polygon points="2678.5,914.2 2681.4,914.5 2027.9,619.4 2025.6,619.1" fill="#7a7a7a" />
<polygon points="2681.2,914.5 2682.5,914.6 2028.8,619.5 2027.7,619.4" fill="#989898" />
<polygon points="2682.2,914.6 2691.6,915.6 2036.0,620.3 2028.6,619.5" fill="#6b6b6b" />
<polygon points="2691.3,915.6 2693.7,915.8 2037.7,620.5 2035.9,620.2" fill="#515151" />
<polygon points="2693.5,915.8 2696.3,916.1 2039.9,620.7 2037.6,620.4" fill="#7a7a7a" />
<polygon points="2696.1,916.1 2697.4,916.2 2040.7,620.8 2039.7,620.7" fill="#989898" />
<polygon points="2697.2,916.2 2705.9,917.2 2047.6,621.5 2040.6,620.8" fill="#777777" />
<polygon points="2705.7,917.1 2713.9,918.0 2053.9,622.2 2047.4,621.5" fill="#161616" />
<polygon points="2713.7,918.0 2717.1,918.4 2056.4,622.5 2053.7,622.2" fill="#868686" />
<polygon points="2716.8,918.3 2718.9,918.6 2057.9,622.7 2056.3,622.5" fill="#d4d4d4" />
<polygon points="2718.7,918.5 2720.2,918.7 2059.0,622.8 2057.7,622.6" fill="#4c4c4c" />
<polygon points="2720.0,918.7 2729.7,919.7 2066.6,623.6 2058.8,622.8" fill="#747474" />
<polygon points="2729.5,919.7 2731.8,920.0 2068.2,623.8 2066.4,623.6" fill="#515151" />
<polygon points="2731.6,920.0 2734.4,920.3 2070.3,624.0 2068.1,623.8" fill="#7b7b7b" />
<polygon points="2734.2,920.2 2735.5,920.4 2071.2,624.1 2070.2,624.0" fill="#999999" />
<polygon points="2735.3,920.4 2744.4,921.3 2078.3,624.9 2071.0,624.1" fill="#6c6c6c" />
<polygon points="2744.2,921.3 2746.5,921.6 2080.0,625.1 2078.1,624.9" fill="#515151" />
<polygon points="2746.2,921.6 2749.1,921.9 2082.0,625.3 2079.8,625.0" fill="#7b7b7b" />
<polygon points="2748.9,921.8 2750.1,922.0 2082.9,625.4 2081.9,625.3" fill="#999999" />
<polygon points="2749.9,922.0 2758.4,922.9 2089.6,626.1 2082.7,625.4" fill="#787878" />
<polygon points="2758.2,922.9 2766.2,923.7 2095.8,626.8 2089.4,626.1" fill="#161616" />
<polygon points="2766.0,923.7 2769.3,924.1 2098.3,627.1 2095.6,626.8" fill="#868686" />
<polygon points="2769.1,924.1 2771.1,924.3 2099.7,627.2 2098.1,627.0" fill="#d4d4d4" />
<polygon points="2770.9,924.2 2772.4,924.4 2100.7,627.3 2099.5,627.2" fill="#4c4c4c" />
<polygon points="2772.2,924.4 2781.7,925.4 2108.2,628.1 2100.6,627.3" fill="#747474" />
<polygon points="2781.5,925.4 2783.8,925.6 2109.8,628.3 2108.0,628.1" fill="#515151" />
<polygon points="2783.6,925.6 2786.3,925.9 2111.9,628.5 2109.6,628.3" fill="#7b7b7b" />
<polygon points="2786.1,925.9 2787.4,926.0 2112.7,628.6 2111.7,628.5" fill="#9a9a9a" />
<polygon points="2787.2,926.0 2796.1,927.0 2119.7,629.4 2112.5,628.6" fill="#6c6c6c" />
<polygon points="2795.9,927.0 2798.1,927.2 2121.3,629.6 2119.5,629.4" fill="#515151" />
<polygon points="2797.9,927.2 2800.7,927.5 2123.3,629.8 2121.1,629.6" fill="#7b7b7b" />
<polygon points="2800.5,927.5 2801.7,927.6 2124.2,629.9 2123.2,629.8" fill="#9a9a9a" />
<polygon points="2801.5,927.6 2809.8,928.5 2130.7,630.6 2124.0,629.9" fill="#787878" />
<polygon points="2809.6,928.5 2817.5,929.3 2136.8,631.3 2130.5,630.6" fill="#161616" />
<polygon points="2817.3,929.3 2820.5,929.7 2139.2,631.5 2136.6,631.2" fill="#868686" />
<polygon points="2820.3,929.6 2822.3,929.9 2140.6,631.7 2139.0,631.5" fill="#d4d4d4" />
<polygon points="2822.1,929.8 2823.5,930.0 2141.6,631.8 2140.5,631.7" fill="#4c4c4c" />
<polygon points="2823.3,930.0 2832.6,931.0 2148.9,632.6 2141.5,631.8" fill="#747474" />
<polygon points="2832.4,931.0 2834.7,931.2 2150.5,632.8 2148.7,632.6" fill="#515151" />
<polygon points="2834.4,931.2 2837.2,931.5 2152.5,633.0 2150.4,632.7" fill="#7b7b7b" />
<polygon points="2837.0,931.5 2838.2,931.6 2153.3,633.1 2152.4,633.0" fill="#9a9a9a" />
<polygon points="2838.0,931.6 2846.7,932.5 2160.2,633.8 2153.2,633.1" fill="#6c6c6c" />
<polygon points="2846.5,932.5 2848.7,932.7 2161.8,634.0 2160.0,633.8" fill="#515151" />
<polygon points="2848.5,932.7 2851.2,933.0 2163.8,634.2 2161.6,634.0" fill="#7b7b7b" />
<polygon points="2851.0,933.0 2852.2,933.1 2164.6,634.3 2163.6,634.2" fill="#9a9a9a" />
<polygon points="2852.0,933.1 2860.2,934.0 2171.0,635.0 2164.4,634.3" fill="#787878" />
<polygon points="2860.0,934.0 2867.7,934.8 2176.9,635.6 2170.8,635.0" fill="#161616" />
<polygon points="2867.5,934.8 2870.6,935.1 2179.3,635.9 2176.8,635.6" fill="#868686" />
<polygon points="2870.4,935.1 2872.4,935.3 2180.7,636.1 2179.2,635.9" fill="#d4d4d4" />
<polygon points="2872.2,935.3 2873.6,935.5 2181.7,636.2 2180.5,636.0" fill="#4c4c4c" />
<polygon points="2873.4,935.4 2882.5,936.4 2188.8,636.9 2181.5,636.1" fill="#747474" />
<polygon points="2882.3,936.4 2884.5,936.6 2190.4,637.1 2188.7,636.9" fill="#515151" />
<polygon points="2884.3,936.6 2887.0,936.9 2192.4,637.3 2190.2,637.1" fill="#7b7b7b" />
<polygon points="2886.8,936.9 2888.0,937.0 2193.2,637.4 2192.2,637.3" fill="#9a9a9a" />
<polygon points="2887.8,937.0 2896.3,937.9 2199.9,638.1 2193.0,637.4" fill="#6c6c6c" />
<polygon points="2896.1,937.9 2898.3,938.1 2201.4,638.3 2199.7,638.1" fill="#515151" />
<polygon points="2898.1,938.1 2900.7,938.4 2203.4,638.5 2201.3,638.3" fill="#7b7b7b" />
<polygon points="2900.5,938.4 2901.7,938.5 2204.2,638.6 2203.2,638.5" fill="#9a9a9a" />
<polygon points="2901.5,938.5 2909.5,939.4 2210.4,639.3 2204.0,638.6" fill="#787878" />
<polygon points="2909.3,939.4 2916.8,940.2 2216.3,639.9 2210.3,639.3" fill="#161616" />
<polygon points="2916.7,940.2 2919.8,940.5 2218.6,640.2 2216.1,639.9" fill="#868686" />
<polygon points="2919.6,940.5 2921.5,940.7 2220.0,640.3 2218.5,640.2" fill="#d4d4d4" />
<polygon points="2921.3,940.7 2922.7,940.8 2220.9,640.4 2219.8,640.3" fill="#4c4c4c" />
<polygon points="2922.5,940.8 2931.4,941.8 2227.9,641.2 2220.8,640.4" fill="#747474" />
<polygon points="2931.2,941.7 2933.3,942.0 2229.5,641.4 2227.8,641.2" fill="#515151" />
<polygon points="2933.1,942.0 2935.8,942.2 2231.4,641.6 2229.3,641.4" fill="#7b7b7b" />
<polygon points="2935.6,942.2 2936.7,942.3 2232.2,641.7 2231.3,641.6" fill="#9a9a9a" />
<polygon points="2936.5,942.3 2944.9,943.2 2238.7,642.4 2232.0,641.7" fill="#6c6c6c" />
<polygon points="2944.7,943.2 2946.8,943.4 2240.3,642.6 2238.6,642.4" fill="#515151" />
<polygon points="2946.7,943.4 2949.2,943.7 2242.2,642.8 2240.1,642.5" fill="#7b7b7b" />
<polygon points="2949.1,943.7 2950.2,943.8 2243.0,642.9 2242.0,642.8" fill="#9a9a9a" />
<polygon points="2950.0,943.8 2957.9,944.7 2249.1,643.5 2242.8,642.8" fill="#787878" />
<polygon points="2957.7,944.6 2965.0,945.4 2254.8,644.1 2248.9,643.5" fill="#161616" />
<polygon points="2964.9,945.4 2967.9,945.7 2257.1,644.4 2254.7,644.1" fill="#868686" />
<polygon points="2967.7,945.7 2969.6,945.9 2258.5,644.5 2257.0,644.4" fill="#d4d4d4" />
<polygon points="2969.4,945.9 2970.8,946.1 2259.4,644.6 2258.3,644.5" fill="#4c4c4c" />
<polygon points="2970.6,946.0 2979.3,947.0 2266.3,645.4 2259.3,644.6" fill="#747474" />
<polygon points="2979.1,947.0 2981.2,947.2 2267.8,645.6 2266.1,645.4" fill="#515151" />
<polygon points="2981.0,947.2 2983.6,947.5 2269.7,645.8 2267.6,645.5" fill="#7b7b7b" />
<polygon points="2983.4,947.4 2984.5,947.6 2270.4,645.8 2269.5,645.8" fill="#9a9a9a" />
<polygon points="2984.3,947.5 2992.6,948.4 2276.8,646.6 2270.3,645.8" fill="#6c6c6c" />
<polygon points="2992.4,948.4 2994.4,948.6 2278.4,646.7 2276.7,646.5" fill="#515151" />
<polygon points="2994.3,948.6 2996.8,948.9 2280.2,646.9 2278.2,646.7" fill="#7b7b7b" />
<polygon points="2996.6,948.9 2997.7,949.0 2281.0,647.0 2280.1,646.9" fill="#9a9a9a" />
<polygon points="2997.6,949.0 3005.3,949.8 2287.0,647.7 2280.8,647.0" fill="#787878" />
<polygon points="3005.1,949.8 3012.3,950.6 2292.6,648.3 2286.9,647.6" fill="#161616" />
<polygon points="3012.1,950.6 3015.1,950.9 2294.9,648.5 2292.5,648.3" fill="#868686" />
<polygon points="3014.9,950.9 3016.7,951.1 2296.2,648.7 2294.7,648.5" fill="#d4d4d4" />
<polygon points="3016.5,951.1 3017.9,951.2 2297.1,648.8 2296.0,648.6" fill="#4c4c4c" />
<polygon points="3017.7,951.2 3026.3,952.1 2303.8,649.5 2297.0,648.7" fill="#747474" />
<polygon points="3026.1,952.1 3028.1,952.3 2305.3,649.7 2303.7,649.5" fill="#515151" />
<polygon points="3027.9,952.3 3030.5,952.6 2307.2,649.9 2305.2,649.6" fill="#7b7b7b" />
<polygon points="3030.3,952.6 3031.4,952.7 2307.9,649.9 2307.0,649.8" fill="#9a9a9a" />
<polygon points="3031.2,952.7 3039.3,953.5 2314.2,650.6 2307.8,649.9" fill="#6c6c6c" />
<polygon points="3039.1,953.5 3041.1,953.7 2315.7,650.8 2314.1,650.6" fill="#515151" />
<polygon points="3040.9,953.7 3043.4,954.0 2317.5,651.0 2315.5,650.8" fill="#7b7b7b" />
<polygon points="3043.2,954.0 3044.3,954.1 2318.3,651.1 2317.4,651.0" fill="#9a9a9a" />
<polygon points="3044.1,954.1 3051.7,954.9 2324.2,651.7 2318.1,651.1" fill="#787878" />
<polygon points="3051.5,954.9 3058.6,955.6 2329.7,652.3 2324.0,651.7" fill="#161616" />
<polygon points="3058.4,955.6 3061.3,955.9 2331.9,652.6 2329.5,652.3" fill="#868686" />
<polygon points="3061.2,955.9 3062.9,956.1 2333.2,652.7 2331.7,652.5" fill="#d4d4d4" />
<polygon points="3062.8,956.1 3064.1,956.2 2334.1,652.8 2333.0,652.7" fill="#4c4c4c" />
<polygon points="3063.9,956.2 3072.3,957.1 2340.6,653.5 2333.9,652.8" fill="#747474" />
<polygon points="3072.1,957.1 3074.1,957.3 2342.1,653.7 2340.5,653.5" fill="#515151" />
<polygon points="3073.9,957.3 3076.4,957.6 2343.9,653.9 2342.0,653.7" fill="#7b7b7b" />
<polygon points="3076.2,957.6 3077.3,957.7 2344.7,654.0 2343.8,653.9" fill="#9a9a9a" />
<polygon points="3077.1,957.7 3085.0,958.5 2350.8,654.6 2344.5,653.9" fill="#6c6c6c" />
<polygon points="3084.9,958.5 3086.9,958.7 2352.3,654.8 2350.7,654.6" fill="#515151" />
<polygon points="3086.7,958.7 3089.1,959.0 2354.1,655.0 2352.1,654.8" fill="#7b7b7b" />
<polygon points="3088.9,959.0 3090.0,959.1 2354.8,655.1 2353.9,655.0" fill="#9a9a9a" />
<polygon points="3089.8,959.1 3097.2,959.9 2360.6,655.7 2354.7,655.0" fill="#787878" />
</g>
<polygon points="1463.0,704.0 2420.0,820.0 2481.0,838.0 2470.0,840.0 2250.0,817.0 1470.0,718.0 1452.0,712.0" fill="#707070" />
<polyline points="1463,704 2420,820 2481,838" fill="none" stroke="#5a5a5a" stroke-width="3"/>
<line x1="2262.0" y1="802.0" x2="2418.0" y2="821.0" stroke="#e0e0e0" stroke-width="3.50" />
<line x1="2478.0" y1="838.0" x2="2734.0" y2="920.0" stroke="#3c3c3c" stroke-width="6.00" />
<polygon points="1374.0,772.0 2734.0,920.0 2728.0,939.0 1376.0,795.0" fill="#4c4c4c" />
<polygon points="1374.0,772.0 2734.0,920.0 2732.0,927.0 1375.0,780.0" fill="#626262" />
<line x1="1374.0" y1="773.0" x2="2734.0" y2="921.0" stroke="#7c7c7c" stroke-width="2.00" />
<line x1="1376.0" y1="795.0" x2="2728.0" y2="939.0" stroke="#222" stroke-width="2.50" />
<line x1="2119.0" y1="855.0" x2="2118.0" y2="873.0" stroke="#2a2a2a" stroke-width="3.00" />
<polygon points="2734.0,920.0 2727.0,940.0 2712.0,936.0 2716.0,916.0" fill="#3a3a3a" />
<polygon points="326.0,1296.0 408.0,1278.0 485.0,1264.0 484.0,1420.0 478.0,1574.0 462.0,1740.0 442.0,1806.0 440.0,1862.0 455.0,1960.0 472.0,2060.0 490.0,2160.0 505.0,2254.0 503.0,2262.0 430.0,2285.0 349.0,2294.0 338.0,2200.0 334.0,1900.0 330.0,1600.0" fill="url(#gCurL)" />
<polygon points="440.0,1325.0 484.0,1330.0 478.0,1574.0 462.0,1740.0 448.0,1740.0 452.0,1560.0" fill="#4a4a4a" opacity="0.7"/>
<polygon points="408.0,1316.0 440.0,1316.0 452.0,1420.0 430.0,1420.0" fill="#555" opacity="0.55"/>
<line x1="372.0" y1="1330.0" x2="392.0" y2="1800.0" stroke="#151515" stroke-width="8.00" stroke-linecap="round"/>
<line x1="400.0" y1="1420.0" x2="420.0" y2="1800.0" stroke="#3a3a3a" stroke-width="5.00" stroke-linecap="round"/>
<line x1="352.0" y1="1330.0" x2="362.0" y2="1800.0" stroke="#353535" stroke-width="5.00" stroke-linecap="round"/>
<line x1="380.0" y1="1870.0" x2="362.0" y2="2280.0" stroke="#141414" stroke-width="7.00" stroke-linecap="round"/>
<line x1="405.0" y1="1870.0" x2="430.0" y2="2270.0" stroke="#3c3c3c" stroke-width="5.00" stroke-linecap="round"/>
<line x1="425.0" y1="1870.0" x2="470.0" y2="2250.0" stroke="#181818" stroke-width="6.00" stroke-linecap="round"/>
<line x1="395.0" y1="1870.0" x2="392.0" y2="2280.0" stroke="#303030" stroke-width="5.00" stroke-linecap="round"/>
<polygon points="326.0,1296.0 408.0,1278.0 485.0,1264.0 484.0,1420.0 478.0,1574.0 462.0,1740.0 442.0,1806.0 440.0,1862.0 455.0,1960.0 472.0,2060.0 490.0,2160.0 505.0,2254.0 503.0,2262.0 430.0,2285.0 349.0,2294.0 338.0,2200.0 334.0,1900.0 330.0,1600.0" fill="url(#net)" />
<g clip-path="url(#rCur2)"><polygon points="326.0,1296.0 408.0,1278.0 485.0,1264.0 484.0,1420.0 478.0,1574.0 462.0,1740.0 442.0,1806.0 440.0,1862.0 455.0,1960.0 472.0,2060.0 490.0,2160.0 505.0,2254.0 503.0,2262.0 430.0,2285.0 349.0,2294.0 338.0,2200.0 334.0,1900.0 330.0,1600.0" fill="none" stroke="#fff" stroke-width="18" opacity="0.12" stroke-linejoin="round" clip-path="url(#cCur2)"/></g>
<polygon points="455.0,1960.0 472.0,2060.0 505.0,2254.0 480.0,2262.0 462.0,2100.0" fill="#5a5a5a" opacity="0.55"/>
<polygon points="352.0,1806.0 440.0,1803.0 442.0,1858.0 356.0,1862.0" fill="#202020" />
<line x1="354.0" y1="1808.0" x2="440.0" y2="1805.0" stroke="#3c3c3c" stroke-width="3.00" />
<polygon points="400.0,1276.0 486.0,1262.0 486.0,1318.0 400.0,1316.0" fill="#1c1c1c" />
<polygon points="486.0,1296.0 553.0,1299.0 478.0,1400.0 449.0,1400.0 449.0,1345.0" fill="#2b2b2b" />
<polygon points="355.0,1300.0 375.0,1300.0 334.0,1472.0 326.0,1472.0 326.0,1430.0" fill="#6c6c6c" />
<line x1="374.0" y1="1301.0" x2="334.0" y2="1470.0" stroke="#3a3a3a" stroke-width="2.00" />
<line x1="362.0" y1="1301.0" x2="328.0" y2="1440.0" stroke="#8a8a8a" stroke-width="2.00" />
<polygon points="307.0,1308.0 318.0,1308.0 333.0,2285.0 322.0,2285.0" fill="url(#gPFL)" />
<polygon points="318.0,1308.0 327.0,1308.0 344.0,2285.0 333.0,2285.0" fill="#3c3c3c" />
<line x1="318.0" y1="1308.0" x2="333.0" y2="2285.0" stroke="#8a8a8a" stroke-width="1.50" />
<polygon points="297.0,2276.0 322.0,2276.0 346.0,2284.0 350.0,2293.0 323.0,2292.0" fill="#3a3a3a" />
<polygon points="470.0,2270.0 506.0,2262.0 520.0,2268.0 486.0,2278.0" fill="#333" />
<circle cx="389" cy="2296" r="5" fill="#bbb"/>
<polygon points="905.0,1190.0 975.0,1185.0 977.0,1800.0 974.0,1765.0 968.0,1702.0 950.0,1660.0 936.0,1623.0 922.0,1540.0 915.0,1465.0 913.0,1323.0" fill="url(#gCurFL1)" />
<polygon points="905.0,1190.0 975.0,1185.0 977.0,1800.0 974.0,1765.0 968.0,1702.0 950.0,1660.0 936.0,1623.0 922.0,1540.0 915.0,1465.0 913.0,1323.0" fill="url(#net)" />
<g clip-path="url(#rCur3)"><polygon points="905.0,1190.0 975.0,1185.0 977.0,1800.0 974.0,1765.0 968.0,1702.0 950.0,1660.0 936.0,1623.0 922.0,1540.0 915.0,1465.0 913.0,1323.0" fill="none" stroke="#fff" stroke-width="16" opacity="0.12" stroke-linejoin="round" clip-path="url(#cCur3)"/></g>
<polygon points="1086.0,1183.0 1192.0,1185.0 1185.0,1260.0 1173.0,1347.0 1161.0,1465.0 1141.0,1623.0 1114.0,1741.0 1100.0,1830.0 1106.0,1896.0 1098.0,2015.0 1135.0,2135.0 1164.0,2278.0 1183.0,2422.0 1187.0,2484.0 1164.0,2546.0 1135.0,2566.0 1086.0,2570.0" fill="url(#gCurFL2)" />
<polygon points="1090.0,2030.0 1098.0,2015.0 1135.0,2135.0 1164.0,2278.0 1183.0,2422.0 1187.0,2484.0 1164.0,2546.0 1135.0,2566.0 1090.0,2568.0" fill="#2b2b2b" opacity="0.75"/>
<line x1="1120.0" y1="1190.0" x2="1105.0" y2="1700.0" stroke="#262626" stroke-width="7.00" stroke-linecap="round"/>
<line x1="1150.0" y1="1190.0" x2="1125.0" y2="1600.0" stroke="#5a5a5a" stroke-width="5.00" stroke-linecap="round"/>
<line x1="1170.0" y1="1190.0" x2="1150.0" y2="1480.0" stroke="#2c2c2c" stroke-width="5.00" stroke-linecap="round"/>
<line x1="1105.0" y1="2060.0" x2="1150.0" y2="2500.0" stroke="#1c1c1c" stroke-width="6.00" stroke-linecap="round"/>
<polygon points="1086.0,1183.0 1192.0,1185.0 1185.0,1260.0 1173.0,1347.0 1161.0,1465.0 1141.0,1623.0 1114.0,1741.0 1100.0,1830.0 1106.0,1896.0 1098.0,2015.0 1135.0,2135.0 1164.0,2278.0 1183.0,2422.0 1187.0,2484.0 1164.0,2546.0 1135.0,2566.0 1086.0,2570.0" fill="url(#net)" />
<g clip-path="url(#rCur4)"><polygon points="1086.0,1183.0 1192.0,1185.0 1185.0,1260.0 1173.0,1347.0 1161.0,1465.0 1141.0,1623.0 1114.0,1741.0 1100.0,1830.0 1106.0,1896.0 1098.0,2015.0 1135.0,2135.0 1164.0,2278.0 1183.0,2422.0 1187.0,2484.0 1164.0,2546.0 1135.0,2566.0 1086.0,2570.0" fill="none" stroke="#fff" stroke-width="24" opacity="0.14" stroke-linejoin="round" clip-path="url(#cCur4)"/></g>
<polygon points="873.0,1199.0 903.0,1199.0 974.0,1370.0 974.0,1432.0" fill="#747474" />
<line x1="873.0" y1="1199.0" x2="974.0" y2="1432.0" stroke="#3f3f3f" stroke-width="2.50" />
<line x1="879.6" y1="1199.0" x2="974.0" y2="1418.4" stroke="#9a9a9a" stroke-width="2.00" />
<line x1="885.6" y1="1199.0" x2="974.0" y2="1406.0" stroke="#3f3f3f" stroke-width="1.50" />
<line x1="890.4" y1="1199.0" x2="974.0" y2="1396.0" stroke="#9a9a9a" stroke-width="2.00" />
<line x1="896.4" y1="1199.0" x2="974.0" y2="1383.6" stroke="#3f3f3f" stroke-width="1.50" />
<line x1="903.0" y1="1199.0" x2="974.0" y2="1370.0" stroke="#3f3f3f" stroke-width="2.50" />
<polygon points="1258.0,1191.0 1313.0,1193.0 1088.0,1434.0 1088.0,1366.0" fill="#8a8a8a" />
<line x1="1258.0" y1="1191.0" x2="1088.0" y2="1366.0" stroke="#555" stroke-width="2.50" />
<line x1="1270.1" y1="1191.4" x2="1088.0" y2="1381.0" stroke="#b4b4b4" stroke-width="2.00" />
<line x1="1281.1" y1="1191.8" x2="1088.0" y2="1394.6" stroke="#555" stroke-width="1.50" />
<line x1="1289.9" y1="1192.2" x2="1088.0" y2="1405.4" stroke="#b4b4b4" stroke-width="2.00" />
<line x1="1300.9" y1="1192.6" x2="1088.0" y2="1419.0" stroke="#555" stroke-width="1.50" />
<line x1="1313.0" y1="1193.0" x2="1088.0" y2="1434.0" stroke="#555" stroke-width="2.50" />
<polygon points="943.0,2561.0 977.0,2553.0 1106.0,2556.0 1135.0,2565.0 1092.0,2588.0 967.0,2585.0" fill="#444" />
<polygon points="943.0,2561.0 967.0,2585.0 1092.0,2588.0 1135.0,2565.0 1134.0,2570.0 1092.0,2593.0 966.0,2590.0 942.0,2566.0" fill="#262626" />
<polygon points="973.0,1181.0 1008.0,1181.0 1010.0,2570.0 977.0,2562.0" fill="url(#gPL1)" />
<polygon points="1008.0,1181.0 1088.0,1181.0 1094.0,2578.0 1010.0,2570.0" fill="url(#gPL2)" />
<line x1="981.0" y1="1183.0" x2="984.0" y2="2568.0" stroke="#000" stroke-width="3.00" opacity="0.28"/>
<line x1="990.0" y1="1183.0" x2="993.0" y2="2568.0" stroke="#fff" stroke-width="2.00" opacity="0.22"/>
<line x1="999.0" y1="1183.0" x2="1002.0" y2="2568.0" stroke="#000" stroke-width="3.00" opacity="0.25"/>
<line x1="1008.0" y1="1183.0" x2="1010.0" y2="2568.0" stroke="#fff" stroke-width="3.00" opacity="0.32"/>
<line x1="1020.0" y1="1183.0" x2="1023.0" y2="2568.0" stroke="#000" stroke-width="3.00" opacity="0.25"/>
<line x1="1030.0" y1="1183.0" x2="1033.0" y2="2568.0" stroke="#fff" stroke-width="2.00" opacity="0.20"/>
<line x1="1040.0" y1="1183.0" x2="1044.0" y2="2568.0" stroke="#000" stroke-width="3.00" opacity="0.22"/>
<line x1="1052.0" y1="1183.0" x2="1056.0" y2="2568.0" stroke="#fff" stroke-width="2.00" opacity="0.18"/>
<line x1="1064.0" y1="1183.0" x2="1068.0" y2="2568.0" stroke="#000" stroke-width="3.00" opacity="0.25"/>
<line x1="1076.0" y1="1183.0" x2="1081.0" y2="2568.0" stroke="#fff" stroke-width="2.00" opacity="0.20"/>
<line x1="1086.0" y1="1183.0" x2="1092.0" y2="2568.0" stroke="#000" stroke-width="3.00" opacity="0.30"/>
<polygon points="2413.0,1249.0 2522.0,1253.0 2534.0,2384.0 2497.0,2384.0 2440.0,2376.0 2402.0,2366.0 2406.0,2256.0 2416.0,2115.0 2427.0,1904.0 2432.0,1763.0 2420.0,1693.0 2406.0,1482.0" fill="url(#gCurM)" />
<line x1="2445.0" y1="1260.0" x2="2470.0" y2="1750.0" stroke="#1a1a1a" stroke-width="8.00" stroke-linecap="round"/>
<line x1="2470.0" y1="1260.0" x2="2490.0" y2="1750.0" stroke="#474747" stroke-width="6.00" stroke-linecap="round"/>
<line x1="2495.0" y1="1260.0" x2="2505.0" y2="1750.0" stroke="#161616" stroke-width="8.00" stroke-linecap="round"/>
<line x1="2450.0" y1="1800.0" x2="2440.0" y2="2360.0" stroke="#1b1b1b" stroke-width="8.00" stroke-linecap="round"/>
<line x1="2475.0" y1="1800.0" x2="2500.0" y2="2370.0" stroke="#141414" stroke-width="9.00" stroke-linecap="round"/>
<line x1="2462.0" y1="1900.0" x2="2468.0" y2="2300.0" stroke="#3d3d3d" stroke-width="5.00" stroke-linecap="round"/>
<polygon points="2413.0,1249.0 2522.0,1253.0 2534.0,2384.0 2497.0,2384.0 2440.0,2376.0 2402.0,2366.0 2406.0,2256.0 2416.0,2115.0 2427.0,1904.0 2432.0,1763.0 2420.0,1693.0 2406.0,1482.0" fill="url(#net)" />
<g clip-path="url(#rCur5)"><polygon points="2413.0,1249.0 2522.0,1253.0 2534.0,2384.0 2497.0,2384.0 2440.0,2376.0 2402.0,2366.0 2406.0,2256.0 2416.0,2115.0 2427.0,1904.0 2432.0,1763.0 2420.0,1693.0 2406.0,1482.0" fill="none" stroke="#fff" stroke-width="22" opacity="0.14" stroke-linejoin="round" clip-path="url(#cCur5)"/></g>
<polygon points="2576.0,1256.0 2622.0,1258.0 2610.0,1376.0 2603.0,1552.0 2588.0,1700.0 2580.0,1720.0" fill="url(#gCurM2)" />
<polygon points="2588.0,2150.0 2599.0,2256.0 2597.0,2370.0 2588.0,2376.0" fill="#3a3a3a" />
<polygon points="2494.0,2388.0 2523.0,2380.0 2590.0,2376.0 2620.0,2372.0 2608.0,2392.0 2502.0,2398.0" fill="#484848" />
<polygon points="2511.0,1253.0 2523.0,1253.0 2535.0,2390.0 2523.0,2390.0" fill="#2e2e2e" />
<polygon points="2522.0,1253.0 2578.0,1253.0 2590.0,2390.0 2534.0,2390.0" fill="url(#gPM)" />
<line x1="2528.0" y1="1255.0" x2="2540.0" y2="2388.0" stroke="#000" stroke-width="3.00" opacity="0.22"/>
<line x1="2536.0" y1="1255.0" x2="2548.0" y2="2388.0" stroke="#fff" stroke-width="2.00" opacity="0.30"/>
<line x1="2544.0" y1="1255.0" x2="2556.0" y2="2388.0" stroke="#000" stroke-width="2.50" opacity="0.18"/>
<line x1="2552.0" y1="1255.0" x2="2564.0" y2="2388.0" stroke="#fff" stroke-width="2.00" opacity="0.25"/>
<line x1="2560.0" y1="1255.0" x2="2572.0" y2="2388.0" stroke="#000" stroke-width="2.50" opacity="0.18"/>
<line x1="2568.0" y1="1255.0" x2="2580.0" y2="2388.0" stroke="#fff" stroke-width="2.00" opacity="0.20"/>
<line x1="2575.0" y1="1255.0" x2="2587.0" y2="2388.0" stroke="#000" stroke-width="3.00" opacity="0.25"/>
<polygon points="3400.0,1303.0 3512.0,1303.0 3510.0,1700.0 3490.0,1772.0 3490.0,1838.0 3505.0,1900.0 3503.0,2270.0 3440.0,2272.0 3383.0,2266.0 3383.0,2179.0 3396.0,2055.0 3417.0,1870.0 3427.0,1838.0 3427.0,1772.0 3427.0,1746.0 3414.0,1560.0 3408.0,1385.0 3401.0,1331.0" fill="url(#gCurR)" />
<line x1="3440.0" y1="1400.0" x2="3455.0" y2="1770.0" stroke="#181818" stroke-width="8.00" stroke-linecap="round"/>
<line x1="3465.0" y1="1330.0" x2="3470.0" y2="1770.0" stroke="#555" stroke-width="6.00" stroke-linecap="round"/>
<line x1="3490.0" y1="1330.0" x2="3482.0" y2="1770.0" stroke="#1a1a1a" stroke-width="7.00" stroke-linecap="round"/>
<line x1="3478.0" y1="1330.0" x2="3476.0" y2="1770.0" stroke="#4a4a4a" stroke-width="4.00" stroke-linecap="round"/>
<line x1="3455.0" y1="1840.0" x2="3420.0" y2="2260.0" stroke="#4a4a4a" stroke-width="6.00" stroke-linecap="round"/>
<line x1="3465.0" y1="1840.0" x2="3455.0" y2="2265.0" stroke="#151515" stroke-width="8.00" stroke-linecap="round"/>
<line x1="3478.0" y1="1840.0" x2="3490.0" y2="2265.0" stroke="#404040" stroke-width="5.00" stroke-linecap="round"/>
<polygon points="3400.0,1303.0 3512.0,1303.0 3510.0,1700.0 3490.0,1772.0 3490.0,1838.0 3505.0,1900.0 3503.0,2270.0 3440.0,2272.0 3383.0,2266.0 3383.0,2179.0 3396.0,2055.0 3417.0,1870.0 3427.0,1838.0 3427.0,1772.0 3427.0,1746.0 3414.0,1560.0 3408.0,1385.0 3401.0,1331.0" fill="url(#net)" />
<g clip-path="url(#rCur6)"><polygon points="3400.0,1303.0 3512.0,1303.0 3510.0,1700.0 3490.0,1772.0 3490.0,1838.0 3505.0,1900.0 3503.0,2270.0 3440.0,2272.0 3383.0,2266.0 3383.0,2179.0 3396.0,2055.0 3417.0,1870.0 3427.0,1838.0 3427.0,1772.0 3427.0,1746.0 3414.0,1560.0 3408.0,1385.0 3401.0,1331.0" fill="none" stroke="#fff" stroke-width="18" opacity="0.12" stroke-linejoin="round" clip-path="url(#cCur6)"/></g>
<polygon points="3417.0,1870.0 3396.0,2055.0 3383.0,2179.0 3383.0,2266.0 3410.0,2268.0 3412.0,2100.0 3432.0,1900.0" fill="#555" opacity="0.5"/>
<polygon points="3427.0,1770.0 3489.0,1773.0 3489.0,1838.0 3427.0,1840.0" fill="#1e1e1e" />
<line x1="3428.0" y1="1773.0" x2="3488.0" y2="1776.0" stroke="#3c3c3c" stroke-width="3.00" />
<polygon points="3357.0,1318.0 3400.0,1305.0 3424.0,1350.0 3424.0,1392.0" fill="#2e2e2e" />
<polygon points="3408.0,1304.0 3439.0,1304.0 3510.0,1429.0 3510.0,1471.0" fill="#505050" />
<line x1="3408.0" y1="1304.0" x2="3510.0" y2="1471.0" stroke="#2e2e2e" stroke-width="2.50" />
<line x1="3414.8" y1="1304.0" x2="3510.0" y2="1461.8" stroke="#6e6e6e" stroke-width="2.00" />
<line x1="3421.0" y1="1304.0" x2="3510.0" y2="1453.4" stroke="#2e2e2e" stroke-width="1.50" />
<line x1="3426.0" y1="1304.0" x2="3510.0" y2="1446.6" stroke="#6e6e6e" stroke-width="2.00" />
<line x1="3432.2" y1="1304.0" x2="3510.0" y2="1438.2" stroke="#2e2e2e" stroke-width="1.50" />
<line x1="3439.0" y1="1304.0" x2="3510.0" y2="1429.0" stroke="#2e2e2e" stroke-width="2.50" />
<polygon points="3510.0,1307.0 3542.0,1307.0 3536.0,2274.0 3501.0,2272.0" fill="url(#gPR)" />
<line x1="3520.0" y1="1309.0" x2="3512.0" y2="2270.0" stroke="#727272" stroke-width="2.00" opacity="0.7"/>
<line x1="3529.0" y1="1309.0" x2="3521.0" y2="2270.0" stroke="#2a2a2a" stroke-width="3.00" opacity="0.5"/>
<line x1="3540.0" y1="1309.0" x2="3534.0" y2="2270.0" stroke="#2a2a2a" stroke-width="3.00" opacity="0.6"/>
<polygon points="3501.0,2270.0 3536.0,2270.0 3572.0,2268.0 3547.0,2282.0 3503.0,2280.0" fill="#4a4a4a" />
<polygon points="259.0,1242.0 400.0,1208.1 540.0,1174.4 700.0,1135.8 860.0,1097.3 967.6,1074.0 984.2,1134.8 877.2,1153.6 717.8,1183.7 558.3,1214.5 418.5,1242.0 277.5,1270.1" fill="url(#gLG1)" />
<polygon points="277.5,1270.1 418.5,1242.0 558.3,1214.5 717.8,1183.7 877.2,1153.6 984.2,1134.8 989.1,1152.7 883.0,1172.8 725.3,1203.7 567.5,1234.8 429.4,1262.1 290.3,1289.6" fill="url(#gLG2)" />
<polygon points="290.3,1289.6 429.4,1262.1 567.5,1234.8 725.3,1203.7 883.0,1172.8 989.1,1152.7 996.5,1180.0 891.2,1199.6 734.6,1228.7 578.0,1257.8 441.0,1283.3 303.0,1309.0" fill="url(#gLG3)" />
<polygon points="267.4,1254.8 408.7,1224.1 548.9,1194.0 709.0,1160.0 868.9,1126.6 976.4,1106.2 983.5,1132.5 876.2,1150.5 716.4,1179.8 556.2,1210.0 415.9,1237.2 274.2,1265.2" fill="#ffffff"  opacity="0.06"/>
<polyline points="259.9,1243.3 400.8,1209.6 540.8,1176.0 700.7,1137.7 860.6,1099.4 968.2,1076.1" fill="none" stroke="#8a8a8a" stroke-width="2.5" opacity="1.00"/>
<polyline points="262.3,1247.0 403.1,1213.7 542.9,1180.6 702.6,1142.8 862.3,1105.0 969.8,1082.0" fill="none" stroke="#444" stroke-width="3.0" opacity="1.00"/>
<polyline points="274.2,1265.2 415.9,1237.2 556.2,1210.0 716.4,1179.8 876.2,1150.5 983.5,1132.5" fill="none" stroke="#4a4a4a" stroke-width="2.5" opacity="1.00"/>
<polyline points="275.9,1267.7 417.2,1239.6 557.3,1212.3 717.1,1181.8 876.7,1152.1 983.9,1133.6" fill="none" stroke="#8a8a8a" stroke-width="2.0" opacity="1.00"/>
<polyline points="277.5,1270.1 418.5,1242.0 558.3,1214.5 717.8,1183.7 877.2,1153.6 984.2,1134.8" fill="none" stroke="#505050" stroke-width="2.0" opacity="1.00"/>
<polyline points="287.1,1284.7 426.8,1257.2 565.4,1230.1 723.7,1199.5 881.9,1169.1 988.2,1149.7" fill="none" stroke="#9a9a9a" stroke-width="2.0" opacity="1.00"/>
<polyline points="288.7,1287.2 428.1,1259.6 566.5,1232.5 724.5,1201.6 882.5,1171.0 988.6,1151.2" fill="none" stroke="#484848" stroke-width="3.0" opacity="1.00"/>
<polyline points="302.6,1308.5 440.7,1282.7 577.7,1257.2 734.3,1228.0 890.9,1198.8 996.3,1179.2" fill="none" stroke="#4a4a4a" stroke-width="2.0" opacity="1.00"/>
<polygon points="967.6,1074.0 975.0,1085.0 984.0,1100.8 990.0,1118.0 992.5,1130.0 993.5,1150.0 996.0,1155.0 996.5,1180.0 990.0,1160.0 980.0,1120.0" fill="#767676" />
<polygon points="992.5,1130.0 993.5,1150.0 996.0,1155.0 996.5,1180.0 988.0,1181.0 986.0,1150.0" fill="#9a9a9a" />
<polygon points="237.0,1249.0 259.0,1242.0 268.0,1254.0 285.0,1271.0 292.0,1285.0 300.0,1304.0 302.0,1309.0 290.0,1309.0 290.0,1295.0 280.0,1290.0 278.0,1278.0 266.0,1263.0 244.0,1256.0" fill="#6a6a6a" />
<path d="M259,1242 C266,1252 280,1262 286,1272 C292,1284 297,1296 302,1309" fill="none" stroke="#1a1a1a" stroke-width="3"/>
<path d="M538,1176 C552,1184 566,1196 574,1212 C580,1228 583,1240 585,1255" fill="none" stroke="#1e1e1e" stroke-width="3"/>
<circle cx="935" cy="1175" r="3" fill="#333"/>
<polygon points="967.6,1074.0 1400.0,1102.8 2000.0,1140.1 2578.0,1176.0 2800.0,1192.3 3573.0,1249.0 3573.0,1264.0 3562.0,1279.0 2800.0,1228.8 2578.0,1214.6 2547.0,1212.7 2000.0,1182.9 1400.0,1150.3 992.5,1130.0 990.0,1118.0 984.0,1100.8 975.0,1085.0" fill="url(#gGutD)" />
<polyline points="968.0,1077.0 1400.0,1103.8 2000.0,1141.1 2578.0,1177.0 2800.0,1193.3 3573.0,1250.0" fill="none" stroke="#6a6a6a" stroke-width="3"/>
<polyline points="972.0,1086.0 1400.0,1111.2 2000.0,1147.5 2578.0,1182.5 2800.0,1198.5 3573.0,1254.0" fill="none" stroke="#1c1c1c" stroke-width="3"/>
<polyline points="993.0,1105.3 1400.0,1128.9 2000.0,1163.7 2547.0,1195.3 2578.0,1197.2 2800.0,1212.4 3562.0,1264.3" fill="none" stroke="#4a4a4a" stroke-width="9" opacity="0.8"/>
<polyline points="993.0,1123.0 1400.0,1145.5 2000.0,1178.7 2547.0,1208.9 2578.0,1210.7 2800.0,1225.1 3562.0,1274.6" fill="none" stroke="#1e1e1e" stroke-width="5"/>
<polygon points="993.0,1128.1 1400.0,1150.3 2000.0,1182.9 2547.0,1212.7 2578.0,1214.6 2800.0,1228.8 3562.0,1277.6 3562.0,1288.3 2800.0,1242.2 2578.0,1228.7 2547.0,1227.0 2000.0,1198.7 1400.0,1167.7 993.0,1146.6" fill="url(#gGutL)" />
<polygon points="993.0,1146.6 1400.0,1167.7 2000.0,1198.7 2547.0,1227.0 2578.0,1228.7 2800.0,1242.2 3562.0,1288.3 3562.0,1292.8 2800.0,1247.8 2578.0,1234.6 2547.0,1232.9 2000.0,1205.2 1400.0,1174.9 993.0,1154.4" fill="#4a4a4a" />
<polygon points="993.0,1154.4 1000.0,1154.7 1400.0,1174.9 2000.0,1205.2 2547.0,1232.9 2800.0,1247.8 3560.0,1292.7 3560.0,1308.0 2800.0,1266.7 2547.0,1253.0 2000.0,1227.5 1400.0,1199.6 1000.0,1181.0 993.0,1180.5" fill="url(#gBeam)" />
<polyline points="993.0,1159.4 1400.0,1179.9 2000.0,1210.2 2547.0,1237.9 2578.0,1239.6 2800.0,1252.8 3562.0,1297.8" fill="none" stroke="#3a3a3a" stroke-width="2"/>
<path d="M2578,1172 C2568,1190 2556,1200 2552,1214 L2551,1251" fill="none" stroke="#1a1a1a" stroke-width="3"/>
<polygon points="3568.0,1249.0 3615.0,1256.0 3598.0,1263.0 3582.0,1271.0 3570.0,1281.0 3563.0,1292.0 3560.0,1309.0 3546.0,1309.0 3548.0,1292.0 3556.0,1278.0 3562.0,1264.0" fill="#3a3a3a" />
<line x1="3570.0" y1="1250.0" x2="3613.0" y2="1257.0" stroke="#5a5a5a" stroke-width="2.00" />
<polygon points="3510.0,1292.0 3560.0,1294.0 3560.0,1309.0 3510.0,1308.0" fill="#5c5c5c" />
<path d="M3551,1262 C3548,1275 3546,1290 3546,1309" fill="none" stroke="#222" stroke-width="2"/>
<circle cx="1082" cy="1166" r="4" fill="#333"/>
<circle cx="3496" cy="1298" r="4" fill="#333"/>
<text x="289.4" y="790.5" font-size="70.5" textLength="665.8" lengthAdjust="spacingAndGlyphs">Witterungsbeständig</text>
<text x="1636.0" y="320.0" font-size="70.5" textLength="243.0" lengthAdjust="spacingAndGlyphs">Bessere</text>
<text x="1891.5" y="320.0" font-size="70.5" textLength="315.0" lengthAdjust="spacingAndGlyphs">Belüftung</text>
<text x="2220.3" y="320.0" font-size="70.5" textLength="186.0" lengthAdjust="spacingAndGlyphs">durch</text>
<text x="1638.6" y="430.0" font-size="70.5" textLength="109.5" lengthAdjust="spacingAndGlyphs">das</text>
<text x="1762.0" y="430.0" font-size="70.5" textLength="291.2" lengthAdjust="spacingAndGlyphs">doppelte</text>
<text x="2067.9" y="430.0" font-size="70.5" textLength="164.4" lengthAdjust="spacingAndGlyphs">Dach</text>
<text x="3150.5" y="682.5" font-size="70.5" textLength="265.4" lengthAdjust="spacingAndGlyphs">Stabiles,</text>
<text x="3150.9" y="791.0" font-size="70.5" textLength="407.5" lengthAdjust="spacingAndGlyphs">formschönes</text>
<text x="3147.9" y="901.0" font-size="70.5" textLength="165.1" lengthAdjust="spacingAndGlyphs">Dach</text>
<text x="3327.5" y="901.0" font-size="70.5" textLength="108.0" lengthAdjust="spacingAndGlyphs">aus</text>
<text x="3453.1" y="901.0" font-size="70.5" textLength="157.0" lengthAdjust="spacingAndGlyphs">Stahl</text>
<text x="186.7" y="2830.5" font-size="70.5" textLength="83.0" lengthAdjust="spacingAndGlyphs">Im</text>
<text x="283.2" y="2830.5" font-size="70.5" textLength="425.5" lengthAdjust="spacingAndGlyphs">Lieferumfang</text>
<text x="723.3" y="2830.5" font-size="70.5" textLength="132.8" lengthAdjust="spacingAndGlyphs">sind</text>
<text x="188.8" y="2940.0" font-size="70.5" textLength="325.1" lengthAdjust="spacingAndGlyphs">praktische</text>
<text x="528.6" y="2940.0" font-size="70.5" textLength="428.4" lengthAdjust="spacingAndGlyphs">Moskitonetze</text>
<text x="188.3" y="3049.5" font-size="70.5" textLength="307.5" lengthAdjust="spacingAndGlyphs">enthalten</text>
<text x="2176.7" y="2832.0" font-size="70.5" textLength="333.8" lengthAdjust="spacingAndGlyphs">Integrierte</text>
<text x="2527.4" y="2832.0" font-size="70.5" textLength="405.7" lengthAdjust="spacingAndGlyphs">Regenrinnen</text>
<text x="2180.5" y="2941.5" font-size="70.5" textLength="216.3" lengthAdjust="spacingAndGlyphs">sorgen</text>
<text x="2413.5" y="2941.5" font-size="70.5" textLength="79.5" lengthAdjust="spacingAndGlyphs">für</text>
<text x="2515.0" y="2941.5" font-size="70.5" textLength="346.6" lengthAdjust="spacingAndGlyphs">geregelten</text>
<text x="2181.3" y="3051.0" font-size="70.5" textLength="226.1" lengthAdjust="spacingAndGlyphs">Abfluss</text>
<text x="2424.1" y="3051.0" font-size="70.5" textLength="120.5" lengthAdjust="spacingAndGlyphs">von</text>
<text x="2560.3" y="3051.0" font-size="70.5" textLength="412.8" lengthAdjust="spacingAndGlyphs">Regenwasser</text>
<line x1="619.8" y1="842.0" x2="619.8" y2="1040.7" stroke="#000" stroke-width="5.80" />
<polygon points="600.5,1036.7 639.1,1036.7 619.8,1080.0" fill="#000" />
<line x1="1951.4" y1="480.0" x2="1951.4" y2="679.2" stroke="#000" stroke-width="5.80" />
<polygon points="1932.1,675.2 1970.7,675.2 1951.4,718.5" fill="#000" />
<line x1="3396.9" y1="936.6" x2="3396.9" y2="1135.3" stroke="#000" stroke-width="5.80" />
<polygon points="3377.6,1131.3 3416.2,1131.3 3396.9,1174.6" fill="#000" />
<line x1="397.6" y1="2387.8" x2="397.6" y2="2741.3" stroke="#000" stroke-width="5.80" />
<polygon points="378.3,2391.8 416.9,2391.8 397.6,2348.5" fill="#000" />
<line x1="2535.5" y1="2442.7" x2="2535.5" y2="2744.5" stroke="#000" stroke-width="5.80" />
<polygon points="2516.2,2446.7 2554.8,2446.7 2535.5,2403.4" fill="#000" /></svg></body></html>
